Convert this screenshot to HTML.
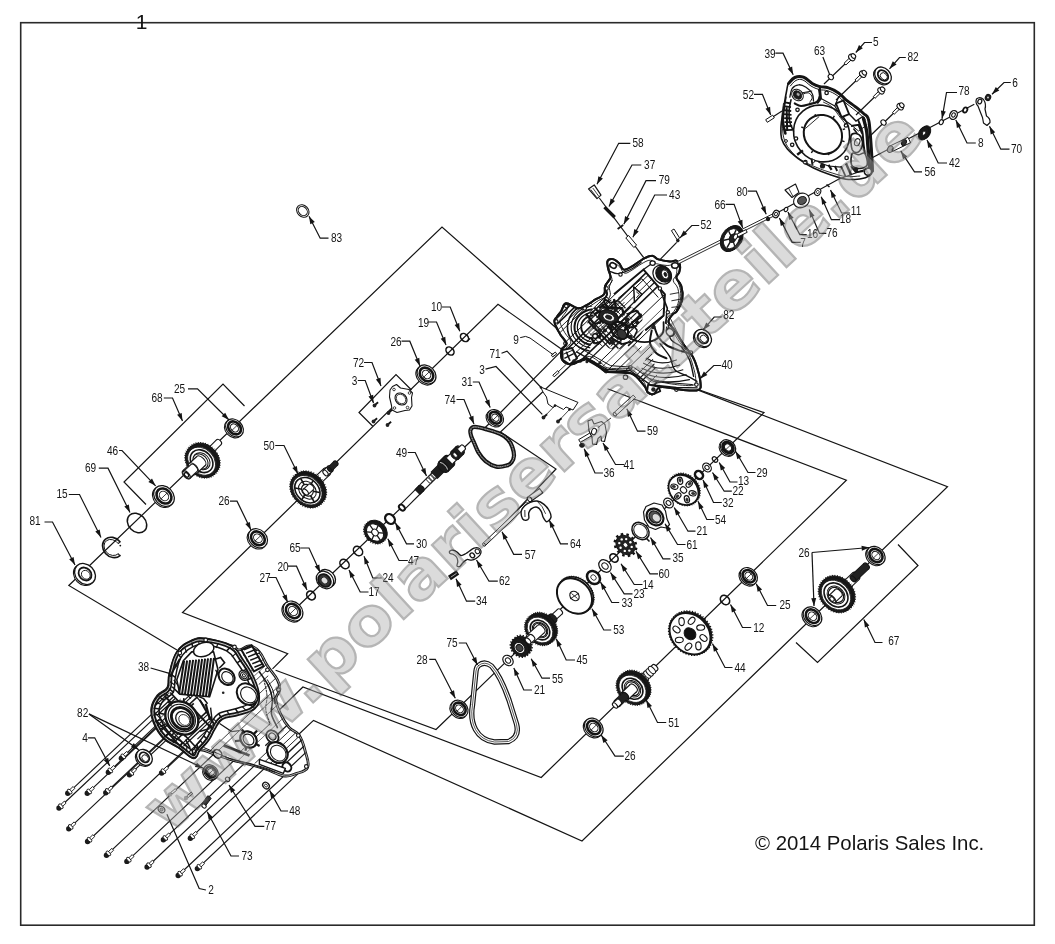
<!DOCTYPE html>
<html><head><meta charset="utf-8"><title>Parts diagram</title>
<style>
html,body{margin:0;padding:0;background:#fff;}
svg{display:block;font-family:"Liberation Sans",sans-serif;}
</style></head><body>
<svg width="1055" height="944" viewBox="0 0 1055 944">
<rect width="1055" height="944" fill="#fff"/>
<rect x="20.7" y="22.7" width="1013.6" height="902.5" fill="none" stroke="#2a2a2a" stroke-width="1.6"/>
<polyline points="177.0,650.0 68.8,585.5 442.0,227.0 563.0,334.0" fill="none" stroke="#141414" stroke-width="1.2" />
<polyline points="272.5,668.8 287.7,653.6 182.5,612.5 498.0,304.3 562.0,349.5" fill="none" stroke="#141414" stroke-width="1.2" />
<polyline points="293.0,611.0 495.4,417.7 564.5,347.8" fill="none" stroke="#141414" stroke-width="1.2" />
<polyline points="611.0,327.0 500.5,432.0 556.0,469.0 484.0,545.0" fill="none" stroke="#141414" stroke-width="1.2" />
<polyline points="275.6,670.3 436.0,729.5 764.0,412.6 692.5,387.5" fill="none" stroke="#141414" stroke-width="1.2" />
<polyline points="273.0,716.0 302.9,687.0 541.2,777.5 846.4,480.3 607.5,388.8" fill="none" stroke="#141414" stroke-width="1.2" />
<polyline points="298.0,735.0 313.5,720.4 582.0,841.0 947.5,486.8 695.0,388.9" fill="none" stroke="#141414" stroke-width="1.2" />
<polyline points="372.8,426.2 359.0,412.5 396.0,374.5 411.5,390.0" fill="none" stroke="#141414" stroke-width="1.2" />
<polyline points="146.0,504.5 124.0,482.0 223.0,384.0 244.5,406.0" fill="none" stroke="#141414" stroke-width="1.2" />
<polyline points="796.0,642.5 817.5,662.5 918.0,565.5 898.0,544.5" fill="none" stroke="#141414" stroke-width="1.2" />
<polyline points="67.8,793.3 177.0,690.4" fill="none" stroke="#141414" stroke-width="1.15" />
<polyline points="59.0,808.0 168.2,705.1" fill="none" stroke="#141414" stroke-width="1.15" />
<polyline points="87.3,793.3 196.5,690.4" fill="none" stroke="#141414" stroke-width="1.15" />
<polyline points="105.8,792.7 215.0,689.8" fill="none" stroke="#141414" stroke-width="1.15" />
<polyline points="108.4,772.3 195.7,690.0" fill="none" stroke="#141414" stroke-width="1.15" />
<polyline points="121.4,758.2 194.2,689.6" fill="none" stroke="#141414" stroke-width="1.15" />
<polyline points="129.5,774.8 216.8,692.5" fill="none" stroke="#141414" stroke-width="1.15" />
<polyline points="161.6,773.0 241.7,697.6" fill="none" stroke="#141414" stroke-width="1.15" />
<polyline points="68.8,828.7 196.2,708.7" fill="none" stroke="#141414" stroke-width="1.15" />
<polyline points="87.6,841.5 222.2,714.6" fill="none" stroke="#141414" stroke-width="1.15" />
<polyline points="106.5,855.2 248.4,721.5" fill="none" stroke="#141414" stroke-width="1.15" />
<polyline points="126.9,861.4 265.2,731.1" fill="none" stroke="#141414" stroke-width="1.15" />
<polyline points="147.1,867.0 281.7,740.1" fill="none" stroke="#141414" stroke-width="1.15" />
<polyline points="163.4,839.8 272.6,736.9" fill="none" stroke="#141414" stroke-width="1.15" />
<polyline points="190.4,838.2 292.3,742.2" fill="none" stroke="#141414" stroke-width="1.15" />
<polyline points="178.2,875.5 300.5,760.3" fill="none" stroke="#141414" stroke-width="1.15" />
<polyline points="197.4,868.6 306.6,765.7" fill="none" stroke="#141414" stroke-width="1.15" />
<clipPath id="c40"><path d="M607.4,261.4 C608.2,259.3 610.0,258.6 612.3,259.0 C614.6,259.3 616.6,260.9 618.9,263.1 C621.2,265.2 621.2,269.0 623.8,269.6 C626.4,270.3 628.4,268.3 632.0,266.3 C635.6,264.4 637.9,261.9 641.9,259.8 C645.8,257.6 648.4,255.7 651.7,255.7 C655.0,255.6 654.7,258.3 658.3,259.4 C661.9,260.6 666.2,261.2 669.8,261.4 C673.4,261.7 674.3,259.9 676.4,260.6 C678.4,261.3 679.4,262.4 680.0,264.7 C680.6,267.0 680.0,269.5 679.3,272.1 C678.6,274.7 676.0,275.0 676.4,277.8 C676.8,280.6 680.1,281.8 681.3,286.1 C682.5,290.3 683.1,294.3 682.3,299.2 C681.5,304.1 679.2,307.6 677.2,310.7 C675.2,313.8 674.0,312.5 672.3,314.8 C670.5,317.1 668.0,319.1 668.5,322.2 C669.0,325.3 671.8,326.1 674.7,330.4 C677.6,334.7 679.3,338.3 682.9,343.5 C686.5,348.8 689.8,351.4 692.8,356.7 C695.7,361.9 696.2,364.5 697.7,369.8 C699.3,375.0 700.3,378.9 700.5,382.9 C700.7,386.9 701.4,388.4 698.5,389.8 C695.7,391.3 691.0,390.4 686.2,390.2 C681.5,390.0 680.0,389.4 674.7,388.8 C669.5,388.3 664.0,386.2 659.9,387.2 C655.8,388.2 656.6,392.5 654.2,393.6 C651.8,394.7 650.3,394.5 648.1,392.8 C646.0,391.0 647.1,388.8 643.5,384.9 C640.0,381.0 637.6,375.7 630.4,373.1 C623.2,370.5 613.6,373.0 607.4,371.8 C601.2,370.5 603.5,369.4 599.2,366.8 C594.9,364.3 591.5,359.6 586.1,359.1 C580.6,358.6 576.8,364.0 572.1,364.2 C567.4,364.4 564.9,363.1 562.7,360.3 C560.6,357.4 560.7,353.4 561.4,350.1 C562.1,346.7 566.7,346.8 566.3,343.5 C566.0,340.2 562.1,337.9 559.8,333.7 C557.4,329.4 555.1,325.5 554.5,322.2 C553.9,318.8 555.4,319.2 556.8,316.9 C558.2,314.6 559.6,313.4 561.4,310.7 C563.3,308.0 562.7,303.8 566.0,303.3 C569.3,302.8 573.8,307.8 577.8,308.2 C581.8,308.6 582.4,307.2 586.1,305.4 C589.7,303.6 592.3,301.4 595.9,299.2 C599.5,297.0 602.3,296.9 604.1,294.3 C606.0,291.6 603.9,289.3 605.1,286.1 C606.3,282.8 609.7,281.1 610.4,277.8 C611.0,274.6 609.0,272.9 608.4,269.6 C607.8,266.3 606.6,263.6 607.4,261.4 Z"/></clipPath>
<path d="M607.4,261.4 C608.2,259.3 610.0,258.6 612.3,259.0 C614.6,259.3 616.6,260.9 618.9,263.1 C621.2,265.2 621.2,269.0 623.8,269.6 C626.4,270.3 628.4,268.3 632.0,266.3 C635.6,264.4 637.9,261.9 641.9,259.8 C645.8,257.6 648.4,255.7 651.7,255.7 C655.0,255.6 654.7,258.3 658.3,259.4 C661.9,260.6 666.2,261.2 669.8,261.4 C673.4,261.7 674.3,259.9 676.4,260.6 C678.4,261.3 679.4,262.4 680.0,264.7 C680.6,267.0 680.0,269.5 679.3,272.1 C678.6,274.7 676.0,275.0 676.4,277.8 C676.8,280.6 680.1,281.8 681.3,286.1 C682.5,290.3 683.1,294.3 682.3,299.2 C681.5,304.1 679.2,307.6 677.2,310.7 C675.2,313.8 674.0,312.5 672.3,314.8 C670.5,317.1 668.0,319.1 668.5,322.2 C669.0,325.3 671.8,326.1 674.7,330.4 C677.6,334.7 679.3,338.3 682.9,343.5 C686.5,348.8 689.8,351.4 692.8,356.7 C695.7,361.9 696.2,364.5 697.7,369.8 C699.3,375.0 700.3,378.9 700.5,382.9 C700.7,386.9 701.4,388.4 698.5,389.8 C695.7,391.3 691.0,390.4 686.2,390.2 C681.5,390.0 680.0,389.4 674.7,388.8 C669.5,388.3 664.0,386.2 659.9,387.2 C655.8,388.2 656.6,392.5 654.2,393.6 C651.8,394.7 650.3,394.5 648.1,392.8 C646.0,391.0 647.1,388.8 643.5,384.9 C640.0,381.0 637.6,375.7 630.4,373.1 C623.2,370.5 613.6,373.0 607.4,371.8 C601.2,370.5 603.5,369.4 599.2,366.8 C594.9,364.3 591.5,359.6 586.1,359.1 C580.6,358.6 576.8,364.0 572.1,364.2 C567.4,364.4 564.9,363.1 562.7,360.3 C560.6,357.4 560.7,353.4 561.4,350.1 C562.1,346.7 566.7,346.8 566.3,343.5 C566.0,340.2 562.1,337.9 559.8,333.7 C557.4,329.4 555.1,325.5 554.5,322.2 C553.9,318.8 555.4,319.2 556.8,316.9 C558.2,314.6 559.6,313.4 561.4,310.7 C563.3,308.0 562.7,303.8 566.0,303.3 C569.3,302.8 573.8,307.8 577.8,308.2 C581.8,308.6 582.4,307.2 586.1,305.4 C589.7,303.6 592.3,301.4 595.9,299.2 C599.5,297.0 602.3,296.9 604.1,294.3 C606.0,291.6 603.9,289.3 605.1,286.1 C606.3,282.8 609.7,281.1 610.4,277.8 C611.0,274.6 609.0,272.9 608.4,269.6 C607.8,266.3 606.6,263.6 607.4,261.4 Z" fill="#fff" stroke="#141414" stroke-width="2.0" stroke-linejoin="round" stroke-linecap="round" />
<clipPath id="c40b"><polygon points="554.9,304.1 614.0,294.3 643.5,269.6 666.5,294.3 663.2,322.2 650.1,346.8 659.9,386.2 607.4,371.8 561.4,359.9"/></clipPath>
<g clip-path="url(#c40)">
<g clip-path="url(#c40b)">
<g stroke="#141414" fill="none">
<line x1="555.8" y1="274.5" x2="613.6" y2="218.7" stroke-width="1.3"/>
<line x1="554.1" y1="283.2" x2="597.7" y2="241.0" stroke-width="1.3"/>
<line x1="556.7" y1="286.1" x2="614.7" y2="230.1" stroke-width="1.6"/>
<line x1="515.1" y1="333.6" x2="602.8" y2="248.9" stroke-width="0.9"/>
<line x1="508.1" y1="346.5" x2="640.5" y2="218.7" stroke-width="0.7"/>
<line x1="562.1" y1="299.0" x2="643.0" y2="220.8" stroke-width="1.3"/>
<line x1="513.2" y1="351.8" x2="645.6" y2="224.0" stroke-width="1.3"/>
<line x1="517.5" y1="356.1" x2="649.8" y2="228.3" stroke-width="1.6"/>
<line x1="520.6" y1="359.4" x2="653.0" y2="231.6" stroke-width="1.6"/>
<line x1="523.8" y1="362.7" x2="656.2" y2="234.9" stroke-width="0.9"/>
<line x1="543.3" y1="348.7" x2="614.2" y2="280.2" stroke-width="0.9"/>
<line x1="585.4" y1="316.1" x2="649.8" y2="253.8" stroke-width="1.0"/>
<line x1="533.6" y1="372.9" x2="666.0" y2="245.1" stroke-width="1.0"/>
<line x1="537.9" y1="377.3" x2="670.2" y2="249.5" stroke-width="1.6"/>
<line x1="540.1" y1="379.6" x2="672.5" y2="251.8" stroke-width="1.0"/>
<line x1="543.9" y1="383.5" x2="676.2" y2="255.7" stroke-width="0.9"/>
<line x1="546.8" y1="386.5" x2="679.1" y2="258.7" stroke-width="1.3"/>
<line x1="550.3" y1="390.1" x2="682.6" y2="262.3" stroke-width="1.6"/>
<line x1="562.2" y1="386.0" x2="620.5" y2="329.6" stroke-width="1.3"/>
<line x1="610.6" y1="346.5" x2="664.2" y2="294.8" stroke-width="1.0"/>
<line x1="587.6" y1="373.8" x2="621.9" y2="340.6" stroke-width="1.0"/>
<line x1="602.5" y1="366.6" x2="665.4" y2="305.8" stroke-width="0.7"/>
<line x1="568.0" y1="408.5" x2="700.4" y2="280.7" stroke-width="1.0"/>
<line x1="579.7" y1="406.2" x2="641.6" y2="346.5" stroke-width="1.0"/>
<line x1="594.3" y1="400.9" x2="666.4" y2="331.2" stroke-width="1.0"/>
<line x1="644.8" y1="361.0" x2="730.6" y2="278.2" stroke-width="1.0"/>
<line x1="584.4" y1="425.5" x2="716.7" y2="297.7" stroke-width="1.0"/>
<line x1="587.5" y1="428.6" x2="719.8" y2="300.8" stroke-width="1.3"/>
<line x1="631.8" y1="390.6" x2="705.7" y2="319.3" stroke-width="1.3"/>
<line x1="594.2" y1="435.6" x2="726.6" y2="307.8" stroke-width="1.0"/>
<line x1="649.8" y1="388.8" x2="741.6" y2="300.1" stroke-width="1.3"/>
<line x1="600.5" y1="442.2" x2="732.9" y2="314.3" stroke-width="1.0"/>
<line x1="604.1" y1="445.9" x2="736.5" y2="318.1" stroke-width="0.7"/>
<line x1="607.1" y1="449.0" x2="739.4" y2="321.2" stroke-width="1.0"/>
<line x1="642.5" y1="420.8" x2="707.9" y2="357.6" stroke-width="1.6"/>
<line x1="614.5" y1="456.6" x2="746.8" y2="328.8" stroke-width="0.7"/>
<line x1="657.0" y1="421.0" x2="695.2" y2="384.1" stroke-width="1.0"/>
<line x1="619.8" y1="462.2" x2="752.2" y2="334.4" stroke-width="1.0"/>
<line x1="676.4" y1="413.1" x2="767.2" y2="325.5" stroke-width="1.0"/>
</g>
</g>
</g>
<g clip-path="url(#c40)">
<path d="M609.1,265.5 C609.8,263.5 611.6,262.9 613.7,263.2 C615.8,263.5 617.7,265.0 619.8,267.0 C621.9,269.0 621.9,272.5 624.4,273.1 C626.8,273.8 628.7,271.9 632.0,270.1 C635.4,268.3 637.5,266.0 641.2,264.0 C644.8,262.0 647.3,260.2 650.3,260.2 C653.4,260.1 653.1,262.6 656.5,263.7 C659.8,264.7 663.8,265.3 667.1,265.5 C670.5,265.7 671.4,264.1 673.3,264.7 C675.1,265.4 676.1,266.4 676.6,268.6 C677.2,270.7 676.7,273.0 676.0,275.4 C675.3,277.9 672.9,278.2 673.3,280.8 C673.6,283.4 676.7,284.4 677.8,288.4 C678.9,292.4 679.5,296.0 678.7,300.6 C678.0,305.2 675.9,308.4 674.0,311.3 C672.2,314.2 671.1,313.0 669.4,315.1 C667.8,317.3 665.5,319.1 665.9,322.0 C666.4,324.9 669.0,325.7 671.7,329.6 C674.4,333.6 676.0,337.0 679.4,341.9 C682.7,346.7 685.8,349.2 688.5,354.1 C691.3,359.0 691.7,361.4 693.1,366.3 C694.5,371.2 695.5,374.8 695.7,378.5 C695.9,382.2 696.5,383.6 693.9,384.9 C691.2,386.3 686.8,385.4 682.4,385.2 C678.0,385.0 676.6,384.6 671.7,384.0 C666.8,383.5 661.8,381.6 658.0,382.5 C654.2,383.4 654.8,387.4 652.6,388.4 C650.4,389.5 649.0,389.3 647.0,387.7 C645.0,386.1 646.0,384.0 642.7,380.3 C639.4,376.7 637.2,371.8 630.5,369.4 C623.8,366.9 614.9,369.3 609.1,368.1 C603.3,367.0 605.4,365.9 601.5,363.5 C597.5,361.2 594.3,356.9 589.3,356.4 C584.2,355.9 580.6,360.9 576.3,361.1 C571.9,361.3 569.6,360.1 567.6,357.4 C565.6,354.8 565.7,351.1 566.4,348.0 C567.0,344.9 571.2,344.9 570.9,341.9 C570.6,338.8 567.0,336.7 564.8,332.7 C562.6,328.7 560.5,325.1 559.9,322.0 C559.4,318.9 560.8,319.3 562.1,317.1 C563.4,315.0 564.6,313.9 566.4,311.3 C568.1,308.8 567.6,304.9 570.6,304.4 C573.7,304.0 577.9,308.6 581.6,309.0 C585.4,309.4 585.9,308.1 589.3,306.4 C592.6,304.8 595.1,302.7 598.4,300.6 C601.8,298.6 604.3,298.5 606.1,296.0 C607.8,293.6 605.8,291.5 607.0,288.4 C608.1,285.4 611.3,283.8 611.9,280.8 C612.5,277.7 610.6,276.2 610.0,273.1 C609.5,270.1 608.4,267.5 609.1,265.5 Z" fill="none" stroke="#141414" stroke-width="0.9" stroke-linejoin="round" stroke-linecap="round" />
</g>
<ellipse cx="613.1" cy="265.5" rx="3.4" ry="2.5" transform="rotate(30 613.1 265.5)" fill="#fff" stroke="#141414" stroke-width="1.6" />
<path d="M609.9,271.3 C611.1,271.7 614.9,273.6 617.2,273.7 C619.6,273.9 621.4,272.9 623.8,272.1 C626.3,271.3 629.2,270.5 632.0,268.8 C634.9,267.2 639.6,263.3 641.1,262.2" fill="none" stroke="#141414" stroke-width="1.2" stroke-linejoin="round" stroke-linecap="round" />
<ellipse cx="663.6" cy="274.2" rx="8.6" ry="7.0" transform="rotate(46 663.6 274.2)" fill="#1c1c1c" stroke="#141414" stroke-width="1.2" />
<ellipse cx="665.0" cy="274.4" rx="4.6" ry="3.2" transform="rotate(70 665.0 274.4)" fill="#fff" stroke="#141414" stroke-width="0.8" />
<ellipse cx="665.4" cy="274.4" rx="2.2" ry="1.4" transform="rotate(70 665.4 274.4)" fill="#1c1c1c" stroke="#141414" stroke-width="0.6" />
<ellipse cx="662.2" cy="274.7" rx="10.2" ry="8.4" transform="rotate(46 662.2 274.7)" fill="none" stroke="#141414" stroke-width="1.2" />
<ellipse cx="675.0" cy="265.5" rx="3.4" ry="2.8" transform="rotate(0 675.0 265.5)" fill="#fff" stroke="#141414" stroke-width="1.5" />
<ellipse cx="652.6" cy="263.1" rx="2.6" ry="2.2" transform="rotate(0 652.6 263.1)" fill="#fff" stroke="#141414" stroke-width="1.3" />
<polyline points="614.0,294.3 643.5,269.6 664.9,294.3 663.6,315.6 645.2,330.4" fill="none" stroke="#141414" stroke-width="2.0" />
<polyline points="618.1,298.4 641.9,278.7 658.3,297.5" fill="none" stroke="#141414" stroke-width="1.0" />
<polyline points="643.5,269.6 650.1,264.7" fill="none" stroke="#141414" stroke-width="1.2" />
<polygon points="633.7,286.9 641.9,294.3 634.5,302.5" fill="#fff" stroke="#141414" stroke-width="1.5" stroke-linejoin="round" />
<polyline points="636.3,291.8 639.4,294.3 636.3,297.9" fill="none" stroke="#141414" stroke-width="0.9" />
<path d="M617.2,323.8 C618.3,325.5 620.5,330.8 623.8,333.7 C627.1,336.5 632.3,339.8 637.0,341.1 C641.6,342.3 647.5,342.3 651.7,341.1 C656.0,339.8 660.4,336.8 662.4,333.7 C664.4,330.5 663.4,324.1 663.6,322.2" fill="none" stroke="#141414" stroke-width="1.8" stroke-linejoin="round" stroke-linecap="round" />
<polyline points="659.9,289.3 667.3,308.2 665.7,323.8" fill="none" stroke="#141414" stroke-width="1.6" />
<polyline points="669.8,294.3 678.8,292.6" fill="none" stroke="#141414" stroke-width="0.9" />
<polyline points="671.4,300.8 680.5,299.2" fill="none" stroke="#141414" stroke-width="0.9" />
<polyline points="671.4,307.4 678.3,306.6" fill="none" stroke="#141414" stroke-width="0.9" />
<path d="M676.4,278.7 C677.0,280.2 679.3,284.3 680.0,287.7 C680.7,291.1 681.2,295.5 680.6,299.2 C680.0,302.9 677.1,308.1 676.4,309.9" fill="none" stroke="#141414" stroke-width="1.0" stroke-linejoin="round" stroke-linecap="round" />
<path d="M609.9,278.7 C609.2,279.9 606.2,283.5 605.8,286.1 C605.3,288.7 607.3,291.8 607.1,294.3 C606.8,296.7 603.9,298.5 604.1,300.8 C604.3,303.2 607.5,307.0 608.2,308.2" fill="none" stroke="#141414" stroke-width="1.8" stroke-linejoin="round" stroke-linecap="round" />
<path d="M612.3,280.3 C611.8,281.4 609.7,284.5 609.4,286.9 C609.0,289.2 610.5,292.1 610.4,294.3 C610.2,296.5 608.6,299.1 608.2,300.0" fill="none" stroke="#141414" stroke-width="1.0" stroke-linejoin="round" stroke-linecap="round" />
<circle cx="606.6" cy="288.5" r="1.7" fill="#fff" stroke="#141414" stroke-width="1.1"/>
<circle cx="659.9" cy="288.5" r="1.7" fill="#fff" stroke="#141414" stroke-width="1.1"/>
<circle cx="667.8" cy="312.3" r="1.7" fill="#fff" stroke="#141414" stroke-width="1.1"/>
<circle cx="620.5" cy="274.6" r="1.7" fill="#fff" stroke="#141414" stroke-width="1.1"/>
<circle cx="606.7" cy="299.2" r="1.7" fill="#fff" stroke="#141414" stroke-width="1.1"/>
<path d="M592.0,338.6 A13,11.7 0 0 1 593.1,315.4" fill="none" stroke="#141414" stroke-width="1.8" clip-path="url(#c40)"/>
<path d="M591.4,341.7 A16.5,14.8 0 0 1 592.8,312.3" fill="none" stroke="#141414" stroke-width="1.2" clip-path="url(#c40)"/>
<path d="M590.8,344.8 A20,18.0 0 0 1 592.5,309.2" fill="none" stroke="#141414" stroke-width="2.0" clip-path="url(#c40)"/>
<path d="M590.2,347.9 A23.5,21.2 0 0 1 592.2,306.0" fill="none" stroke="#141414" stroke-width="1.2" clip-path="url(#c40)"/>
<path d="M589.6,351.0 A27,24.3 0 0 1 591.9,302.9" fill="none" stroke="#141414" stroke-width="1.6" clip-path="url(#c40)"/>
<g clip-path="url(#c40)">
<ellipse cx="608.7" cy="317.2" rx="10.0" ry="7.0" transform="rotate(20 608.7 317.2)" fill="#222" stroke="#141414" stroke-width="1" />
<ellipse cx="608.7" cy="317.2" rx="6.0" ry="3.8" transform="rotate(20 608.7 317.2)" fill="#fff" stroke="#141414" stroke-width="0.8" />
<ellipse cx="608.7" cy="317.2" rx="3.4" ry="2.0" transform="rotate(20 608.7 317.2)" fill="#222" stroke="#141414" stroke-width="0.6" />
<ellipse cx="619.7" cy="330.4" rx="9.5" ry="7.4" transform="rotate(46 619.7 330.4)" fill="#fff" stroke="#141414" stroke-width="2.0" />
<ellipse cx="619.7" cy="330.4" rx="8.0" ry="3.2" transform="rotate(-44 619.7 330.4)" fill="none" stroke="#141414" stroke-width="1.2" />
<ellipse cx="621.3" cy="329.0" rx="7.2" ry="3.2" transform="rotate(-44 621.3 329.0)" fill="none" stroke="#141414" stroke-width="1.2" />
<ellipse cx="622.9" cy="327.6" rx="6.4" ry="3.2" transform="rotate(-44 622.9 327.6)" fill="none" stroke="#141414" stroke-width="1.2" />
<ellipse cx="624.5" cy="326.2" rx="5.6" ry="3.2" transform="rotate(-44 624.5 326.2)" fill="none" stroke="#141414" stroke-width="1.2" />
<ellipse cx="622.2" cy="334.5" rx="5.0" ry="3.6" transform="rotate(46 622.2 334.5)" fill="#333" stroke="#141414" stroke-width="1.0" />
<polyline points="602.5,307.4 622.2,308.2" fill="none" stroke="#141414" stroke-width="2.6" />
<polyline points="622.2,308.2 623.8,315.6" fill="none" stroke="#141414" stroke-width="2.2" />
<polyline points="594.3,333.7 600.0,337.8" fill="none" stroke="#141414" stroke-width="2.8" />
<polyline points="600.0,337.8 599.5,329.6" fill="none" stroke="#141414" stroke-width="2.2" />
<polyline points="610.7,337.8 622.2,344.3" fill="none" stroke="#141414" stroke-width="2.4" />
<polyline points="622.2,344.3 631.2,341.6" fill="none" stroke="#141414" stroke-width="2.0" />
<polyline points="627.1,314.0 637.3,310.4" fill="none" stroke="#141414" stroke-width="1.8" />
<polyline points="637.3,310.4 641.1,317.2" fill="none" stroke="#141414" stroke-width="1.8" />
<polyline points="641.1,317.2 631.2,322.5" fill="none" stroke="#141414" stroke-width="1.8" />
<polyline points="631.2,322.5 637.3,330.4" fill="none" stroke="#141414" stroke-width="1.6" />
<polyline points="637.3,330.4 633.7,337.8" fill="none" stroke="#141414" stroke-width="1.6" />
<polyline points="586.1,314.0 594.3,324.1" fill="none" stroke="#141414" stroke-width="2.4" />
<polyline points="594.3,324.1 600.0,322.2" fill="none" stroke="#141414" stroke-width="2.0" />
<polyline points="614.0,298.9 615.9,307.7" fill="none" stroke="#141414" stroke-width="2.2" />
<polyline points="604.1,299.2 610.7,302.8" fill="none" stroke="#141414" stroke-width="1.6" />
<polyline points="610.7,302.8 617.6,300.8" fill="none" stroke="#141414" stroke-width="1.6" />
<polyline points="599.2,310.7 602.8,318.9" fill="none" stroke="#141414" stroke-width="2.6" />
<polyline points="602.8,318.9 599.2,323.8" fill="none" stroke="#141414" stroke-width="2.2" />
<polyline points="614.0,322.2 617.2,327.1" fill="none" stroke="#141414" stroke-width="3.0" />
<polyline points="594.3,314.0 601.7,310.7" fill="none" stroke="#141414" stroke-width="2.0" />
<polyline points="591.0,337.0 594.3,343.5" fill="none" stroke="#141414" stroke-width="2.4" />
<polyline points="594.3,343.5 600.8,341.9" fill="none" stroke="#141414" stroke-width="2.0" />
<polyline points="623.8,323.8 630.4,327.9" fill="none" stroke="#141414" stroke-width="2.6" />
<polyline points="630.4,327.9 637.0,325.5" fill="none" stroke="#141414" stroke-width="2.0" />
<polyline points="607.4,325.5 612.3,330.4" fill="none" stroke="#141414" stroke-width="3.0" />
<polyline points="604.1,304.1 599.2,308.2" fill="none" stroke="#141414" stroke-width="2.0" />
<clipPath id="c40c"><polygon points="591.0,310.7 604.1,299.2 622.2,300.8 641.9,314.0 643.5,330.4 633.7,346.8 614.0,350.1 594.3,343.5 586.1,327.1"/></clipPath>
<g clip-path="url(#c40c)">
<g stroke="#141414" fill="none">
<line x1="641.0" y1="290.7" x2="665.5" y2="316.0" stroke-width="1.7"/>
<line x1="630.0" y1="285.8" x2="659.6" y2="316.4" stroke-width="1.2"/>
<line x1="616.2" y1="277.8" x2="643.2" y2="305.7" stroke-width="0.9"/>
<line x1="637.1" y1="306.0" x2="676.3" y2="346.6" stroke-width="2.1"/>
<line x1="623.9" y1="298.0" x2="659.3" y2="334.7" stroke-width="1.7"/>
<line x1="611.2" y1="288.4" x2="623.5" y2="301.2" stroke-width="0.9"/>
<line x1="607.3" y1="289.5" x2="625.5" y2="308.3" stroke-width="1.3"/>
<line x1="612.6" y1="299.4" x2="632.1" y2="319.6" stroke-width="0.9"/>
<line x1="605.0" y1="298.6" x2="623.1" y2="317.3" stroke-width="0.9"/>
<line x1="596.9" y1="294.5" x2="611.5" y2="309.6" stroke-width="0.9"/>
<line x1="591.6" y1="293.4" x2="649.0" y2="353.0" stroke-width="0.9"/>
<line x1="615.0" y1="324.2" x2="628.0" y2="337.6" stroke-width="0.9"/>
<line x1="588.1" y1="301.0" x2="617.7" y2="331.7" stroke-width="2.1"/>
<line x1="591.8" y1="311.1" x2="603.8" y2="323.5" stroke-width="1.3"/>
<line x1="600.8" y1="325.2" x2="612.6" y2="337.5" stroke-width="0.9"/>
<line x1="594.0" y1="323.3" x2="618.4" y2="348.5" stroke-width="1.3"/>
<line x1="587.9" y1="321.1" x2="610.5" y2="344.4" stroke-width="2.1"/>
<line x1="598.3" y1="336.6" x2="637.9" y2="377.5" stroke-width="1.2"/>
<line x1="582.1" y1="325.3" x2="618.1" y2="362.6" stroke-width="0.9"/>
<line x1="572.1" y1="320.7" x2="596.3" y2="345.7" stroke-width="0.9"/>
<line x1="574.7" y1="326.8" x2="588.3" y2="340.9" stroke-width="1.7"/>
<line x1="564.8" y1="320.2" x2="586.9" y2="343.1" stroke-width="1.7"/>
<line x1="561.5" y1="322.4" x2="619.0" y2="382.0" stroke-width="1.2"/>
<line x1="570.1" y1="336.4" x2="599.6" y2="367.0" stroke-width="1.7"/>
</g>
</g>
<g clip-path="url(#c40c)">
<g stroke="#141414" fill="none">
<line x1="574.8" y1="315.4" x2="598.0" y2="292.9" stroke-width="1.9"/>
<line x1="592.4" y1="306.2" x2="624.9" y2="274.9" stroke-width="1.2"/>
<line x1="590.0" y1="314.8" x2="631.0" y2="275.2" stroke-width="1.6"/>
<line x1="574.1" y1="335.5" x2="633.6" y2="278.0" stroke-width="1.2"/>
<line x1="596.5" y1="317.8" x2="618.5" y2="296.7" stroke-width="1.1"/>
<line x1="580.6" y1="338.7" x2="619.8" y2="300.9" stroke-width="0.8"/>
<line x1="581.7" y1="343.4" x2="641.3" y2="286.0" stroke-width="0.8"/>
<line x1="597.1" y1="334.1" x2="613.0" y2="318.8" stroke-width="1.2"/>
<line x1="616.1" y1="320.9" x2="654.4" y2="283.9" stroke-width="1.6"/>
<line x1="590.1" y1="352.1" x2="649.6" y2="294.6" stroke-width="1.6"/>
<line x1="606.8" y1="341.4" x2="636.8" y2="312.4" stroke-width="1.2"/>
<line x1="624.6" y1="330.2" x2="665.5" y2="290.6" stroke-width="1.9"/>
<line x1="599.0" y1="361.4" x2="658.6" y2="303.9" stroke-width="1.2"/>
<line x1="606.1" y1="361.9" x2="625.0" y2="343.6" stroke-width="1.2"/>
<line x1="628.1" y1="345.9" x2="645.4" y2="329.2" stroke-width="1.6"/>
<line x1="608.8" y1="369.9" x2="640.8" y2="339.0" stroke-width="1.2"/>
<line x1="613.0" y1="369.8" x2="641.3" y2="342.4" stroke-width="1.1"/>
<line x1="625.2" y1="362.6" x2="651.9" y2="336.8" stroke-width="1.9"/>
<line x1="629.0" y1="365.1" x2="647.2" y2="347.6" stroke-width="1.9"/>
<line x1="643.3" y1="356.2" x2="662.4" y2="337.9" stroke-width="1.2"/>
<line x1="621.8" y1="384.9" x2="681.3" y2="327.4" stroke-width="1.2"/>
</g>
</g>
<circle cx="600.8" cy="315.6" r="2.6" fill="#1c1c1c"/>
<circle cx="615.6" cy="309.9" r="2.2" fill="#1c1c1c"/>
<circle cx="627.1" cy="319.7" r="2.4" fill="#1c1c1c"/>
<circle cx="612.3" cy="341.9" r="2.6" fill="#1c1c1c"/>
<circle cx="630.4" cy="337.0" r="2.2" fill="#1c1c1c"/>
<circle cx="637.0" cy="322.2" r="2.0" fill="#1c1c1c"/>
<circle cx="594.3" cy="327.1" r="2.2" fill="#1c1c1c"/>
<circle cx="604.9" cy="330.4" r="2.0" fill="#1c1c1c"/>
<ellipse cx="608.7" cy="317.2" rx="10.0" ry="7.0" transform="rotate(20 608.7 317.2)" fill="#222" stroke="#141414" stroke-width="1" />
<ellipse cx="608.7" cy="317.2" rx="6.0" ry="3.8" transform="rotate(20 608.7 317.2)" fill="#fff" stroke="#141414" stroke-width="0.8" />
<ellipse cx="608.7" cy="317.2" rx="3.4" ry="2.0" transform="rotate(20 608.7 317.2)" fill="#222" stroke="#141414" stroke-width="0.6" />
<ellipse cx="619.7" cy="330.4" rx="9.5" ry="7.4" transform="rotate(46 619.7 330.4)" fill="none" stroke="#141414" stroke-width="2.2" />
<ellipse cx="621.8" cy="334.0" rx="5.4" ry="4.0" transform="rotate(46 621.8 334.0)" fill="#333" stroke="#141414" stroke-width="1.0" />
<circle cx="595.1" cy="336.1" r="2.4" fill="#fff" stroke="#141414" stroke-width="1.4"/>
<circle cx="599.2" cy="330.4" r="2.0" fill="#222"/>
</g>
<circle cx="566.3" cy="306.1" r="1.8" fill="#fff" stroke="#141414" stroke-width="1.2"/>
<circle cx="556.2" cy="321.4" r="1.8" fill="#fff" stroke="#141414" stroke-width="1.2"/>
<circle cx="565.5" cy="343.5" r="1.8" fill="#fff" stroke="#141414" stroke-width="1.2"/>
<circle cx="584.7" cy="308.2" r="1.8" fill="#fff" stroke="#141414" stroke-width="1.2"/>
<circle cx="606.1" cy="371.1" r="1.8" fill="#fff" stroke="#141414" stroke-width="1.2"/>
<circle cx="630.4" cy="367.3" r="1.8" fill="#fff" stroke="#141414" stroke-width="1.2"/>
<circle cx="676.4" cy="389.5" r="1.8" fill="#fff" stroke="#141414" stroke-width="1.2"/>
<circle cx="696.4" cy="384.6" r="1.8" fill="#fff" stroke="#141414" stroke-width="1.2"/>
<circle cx="690.8" cy="352.6" r="1.8" fill="#fff" stroke="#141414" stroke-width="1.2"/>
<circle cx="670.1" cy="326.6" r="1.8" fill="#fff" stroke="#141414" stroke-width="1.2"/>
<polygon points="562.2,350.1 572.1,348.1 577.0,358.3 569.6,364.5 562.7,359.9" fill="#fff" stroke="#141414" stroke-width="2.0" stroke-linejoin="round" />
<polyline points="566.3,351.7 570.0,360.8" fill="none" stroke="#141414" stroke-width="1.6" />
<polyline points="564.4,358.3 573.7,353.7" fill="none" stroke="#141414" stroke-width="1.4" />
<polyline points="563.4,354.2 572.9,350.1" fill="none" stroke="#141414" stroke-width="1.0" />
<circle cx="573.7" cy="360.8" r="1.5" fill="#222"/>
<circle cx="580.3" cy="361.3" r="1.5" fill="#222"/>
<circle cx="586.9" cy="361.7" r="1.5" fill="#222"/>
<circle cx="593.4" cy="362.2" r="1.5" fill="#222"/>
<circle cx="600.0" cy="362.7" r="1.5" fill="#222"/>
<polyline points="576.2,351.7 607.4,369.5 630.4,370.6 650.1,384.6 676.4,387.5 697.7,387.9" fill="none" stroke="#141414" stroke-width="1.4" />
<polyline points="577.8,346.8 610.7,365.7 633.7,367.3 653.4,381.3 692.8,384.6" fill="none" stroke="#141414" stroke-width="1.0" />
<polyline points="571.3,363.6 586.1,359.1 599.2,366.8 607.4,371.8 630.4,373.1" fill="none" stroke="#141414" stroke-width="2.4" />
<path d="M646.8,358.3 Q659.9,366.5 676.4,359.9" fill="none" stroke="#141414" stroke-width="1.1" stroke-linejoin="round" stroke-linecap="round" />
<path d="M643.5,363.2 Q659.9,372.3 679.6,364.9" fill="none" stroke="#141414" stroke-width="1.1" stroke-linejoin="round" stroke-linecap="round" />
<path d="M641.9,368.2 Q659.9,377.2 682.9,369.8" fill="none" stroke="#141414" stroke-width="1.1" stroke-linejoin="round" stroke-linecap="round" />
<path d="M643.5,373.1 Q663.2,381.3 686.2,374.7" fill="none" stroke="#141414" stroke-width="1.1" stroke-linejoin="round" stroke-linecap="round" />
<path d="M650.1,378.8 Q666.5,384.6 689.5,379.6" fill="none" stroke="#141414" stroke-width="1.1" stroke-linejoin="round" stroke-linecap="round" />
<path d="M653.4,323.8 C654.2,326.0 656.1,333.4 658.3,337.0 C660.5,340.5 663.2,343.0 666.5,345.2 C669.8,347.4 674.2,348.7 678.0,350.1 C681.8,351.5 687.6,352.8 689.5,353.4" fill="none" stroke="#141414" stroke-width="2.0" stroke-linejoin="round" stroke-linecap="round" />
<path d="M666.5,327.1 C667.3,329.3 669.0,337.0 671.4,340.2 C673.9,343.5 678.3,343.5 681.3,346.8 C684.3,350.1 687.4,355.0 689.5,359.9 C691.6,364.9 692.9,373.6 693.6,376.4" fill="none" stroke="#141414" stroke-width="1.4" stroke-linejoin="round" stroke-linecap="round" />
<path d="M659.9,343.5 C661.6,345.7 667.3,352.3 669.8,356.7 C672.3,361.0 671.7,366.5 674.7,369.8 C677.7,373.1 684.2,374.4 687.9,376.4 C691.6,378.3 695.4,380.5 696.9,381.3" fill="none" stroke="#141414" stroke-width="1.4" stroke-linejoin="round" stroke-linecap="round" />
<path d="M651.7,330.4 C651.5,332.6 649.3,339.7 650.1,343.5 C650.9,347.4 653.9,350.9 656.7,353.4 C659.4,355.8 664.9,357.5 666.5,358.3" fill="none" stroke="#141414" stroke-width="2.0" stroke-linejoin="round" stroke-linecap="round" />
<path d="M669.8,317.2 C670.9,319.4 673.9,325.7 676.4,330.4 C678.8,335.0 681.7,340.5 684.6,345.2 C687.4,349.8 692.1,356.1 693.6,358.3" fill="none" stroke="#141414" stroke-width="0.9" stroke-linejoin="round" stroke-linecap="round" />
<ellipse cx="670.1" cy="332.4" rx="4.2" ry="3.4" transform="rotate(46 670.1 332.4)" fill="#fff" stroke="#141414" stroke-width="1.6" />
<circle cx="653.4" cy="327.1" r="2.2" fill="#222"/>
<polygon points="648.1,384.6 658.3,386.5 660.3,391.1 652.1,394.8 647.1,391.5" fill="#fff" stroke="#141414" stroke-width="1.8" stroke-linejoin="round" />
<circle cx="653.4" cy="389.5" r="2.2" fill="#222"/>
<circle cx="625.5" cy="377.2" r="2.2" fill="#fff" stroke="#141414" stroke-width="1.2"/>
<path d="M607.4,261.4 C608.2,259.3 610.0,258.6 612.3,259.0 C614.6,259.3 616.6,260.9 618.9,263.1 C621.2,265.2 621.2,269.0 623.8,269.6 C626.4,270.3 628.4,268.3 632.0,266.3 C635.6,264.4 637.9,261.9 641.9,259.8 C645.8,257.6 648.4,255.7 651.7,255.7 C655.0,255.6 654.7,258.3 658.3,259.4 C661.9,260.6 666.2,261.2 669.8,261.4 C673.4,261.7 674.3,259.9 676.4,260.6 C678.4,261.3 679.4,262.4 680.0,264.7 C680.6,267.0 680.0,269.5 679.3,272.1 C678.6,274.7 676.0,275.0 676.4,277.8 C676.8,280.6 680.1,281.8 681.3,286.1 C682.5,290.3 683.1,294.3 682.3,299.2 C681.5,304.1 679.2,307.6 677.2,310.7 C675.2,313.8 674.0,312.5 672.3,314.8 C670.5,317.1 668.0,319.1 668.5,322.2 C669.0,325.3 671.8,326.1 674.7,330.4 C677.6,334.7 679.3,338.3 682.9,343.5 C686.5,348.8 689.8,351.4 692.8,356.7 C695.7,361.9 696.2,364.5 697.7,369.8 C699.3,375.0 700.3,378.9 700.5,382.9 C700.7,386.9 701.4,388.4 698.5,389.8 C695.7,391.3 691.0,390.4 686.2,390.2 C681.5,390.0 680.0,389.4 674.7,388.8 C669.5,388.3 664.0,386.2 659.9,387.2 C655.8,388.2 656.6,392.5 654.2,393.6 C651.8,394.7 650.3,394.5 648.1,392.8 C646.0,391.0 647.1,388.8 643.5,384.9 C640.0,381.0 637.6,375.7 630.4,373.1 C623.2,370.5 613.6,373.0 607.4,371.8 C601.2,370.5 603.5,369.4 599.2,366.8 C594.9,364.3 591.5,359.6 586.1,359.1 C580.6,358.6 576.8,364.0 572.1,364.2 C567.4,364.4 564.9,363.1 562.7,360.3 C560.6,357.4 560.7,353.4 561.4,350.1 C562.1,346.7 566.7,346.8 566.3,343.5 C566.0,340.2 562.1,337.9 559.8,333.7 C557.4,329.4 555.1,325.5 554.5,322.2 C553.9,318.8 555.4,319.2 556.8,316.9 C558.2,314.6 559.6,313.4 561.4,310.7 C563.3,308.0 562.7,303.8 566.0,303.3 C569.3,302.8 573.8,307.8 577.8,308.2 C581.8,308.6 582.4,307.2 586.1,305.4 C589.7,303.6 592.3,301.4 595.9,299.2 C599.5,297.0 602.3,296.9 604.1,294.3 C606.0,291.6 603.9,289.3 605.1,286.1 C606.3,282.8 609.7,281.1 610.4,277.8 C611.0,274.6 609.0,272.9 608.4,269.6 C607.8,266.3 606.6,263.6 607.4,261.4 Z" fill="none" stroke="#141414" stroke-width="2.0" stroke-linejoin="round" stroke-linecap="round" />
<clipPath id="c39"><path d="M788.5,83.5 C790.1,80.8 791.8,78.8 794.8,77.5 C797.8,76.2 800.0,76.0 803.5,77.2 C807.0,78.5 809.0,81.6 812.2,83.5 C815.5,85.4 816.5,85.8 819.8,86.6 C823.0,87.5 824.8,86.6 828.5,87.9 C832.2,89.1 835.0,90.5 838.5,92.9 C842.0,95.2 842.5,96.9 846.0,99.8 C849.5,102.6 852.5,104.5 856.0,107.2 C859.5,110.0 861.0,111.2 863.5,113.5 C866.0,115.8 867.0,115.0 868.2,118.5 C869.5,122.0 869.5,126.0 870.0,131.0 C870.5,136.0 870.6,138.5 871.0,143.5 C871.4,148.5 871.5,150.5 871.8,156.0 C872.0,161.5 873.1,166.9 872.5,171.0 C871.9,175.1 871.0,174.7 868.8,176.2 C866.5,177.8 865.5,178.2 861.0,178.8 C856.5,179.3 852.0,180.0 846.0,179.2 C840.0,178.5 837.5,177.2 831.0,175.0 C824.5,172.8 820.0,171.2 813.5,168.0 C807.0,164.8 803.8,162.6 798.5,158.8 C793.2,154.9 790.6,152.8 787.2,148.8 C783.9,144.8 782.9,143.3 781.6,138.8 C780.4,134.2 780.8,131.1 781.0,126.0 C781.2,121.0 782.1,118.5 782.9,113.5 C783.6,108.5 784.0,105.5 784.8,101.0 C785.5,96.5 785.9,94.5 786.6,91.0 C787.4,87.5 786.9,86.2 788.5,83.5 Z"/></clipPath>
<path d="M788.5,83.5 C790.1,80.8 791.8,78.8 794.8,77.5 C797.8,76.2 800.0,76.0 803.5,77.2 C807.0,78.5 809.0,81.6 812.2,83.5 C815.5,85.4 816.5,85.8 819.8,86.6 C823.0,87.5 824.8,86.6 828.5,87.9 C832.2,89.1 835.0,90.5 838.5,92.9 C842.0,95.2 842.5,96.9 846.0,99.8 C849.5,102.6 852.5,104.5 856.0,107.2 C859.5,110.0 861.0,111.2 863.5,113.5 C866.0,115.8 867.0,115.0 868.2,118.5 C869.5,122.0 869.5,126.0 870.0,131.0 C870.5,136.0 870.6,138.5 871.0,143.5 C871.4,148.5 871.5,150.5 871.8,156.0 C872.0,161.5 873.1,166.9 872.5,171.0 C871.9,175.1 871.0,174.7 868.8,176.2 C866.5,177.8 865.5,178.2 861.0,178.8 C856.5,179.3 852.0,180.0 846.0,179.2 C840.0,178.5 837.5,177.2 831.0,175.0 C824.5,172.8 820.0,171.2 813.5,168.0 C807.0,164.8 803.8,162.6 798.5,158.8 C793.2,154.9 790.6,152.8 787.2,148.8 C783.9,144.8 782.9,143.3 781.6,138.8 C780.4,134.2 780.8,131.1 781.0,126.0 C781.2,121.0 782.1,118.5 782.9,113.5 C783.6,108.5 784.0,105.5 784.8,101.0 C785.5,96.5 785.9,94.5 786.6,91.0 C787.4,87.5 786.9,86.2 788.5,83.5 Z" fill="#fff" stroke="#141414" stroke-width="1.6" stroke-linejoin="round" stroke-linecap="round" />
<path d="M788.5,83.5 C789.8,82.3 791.8,78.8 794.8,77.5 C797.8,76.2 800.0,76.0 803.5,77.2 C807.0,78.5 809.0,81.6 812.2,83.5 C815.5,85.4 816.5,85.8 819.8,86.6 C823.0,87.5 824.8,86.6 828.5,87.9 C832.2,89.1 835.0,90.5 838.5,92.9 C842.0,95.2 842.5,96.9 846.0,99.8 C849.5,102.6 852.5,104.5 856.0,107.2 C859.5,110.0 861.0,111.2 863.5,113.5 C866.0,115.8 867.0,115.0 868.2,118.5 C869.5,122.0 869.5,126.0 870.0,131.0 C870.5,136.0 870.6,138.5 871.0,143.5 C871.4,148.5 871.5,150.5 871.8,156.0 C872.0,161.5 872.4,168.0 872.5,171.0" fill="none" stroke="#141414" stroke-width="3.0" stroke-linejoin="round" stroke-linecap="round" />
<path d="M790.4,86.0 C791.5,84.9 793.5,81.6 796.0,80.4 C798.5,79.2 799.9,78.9 802.9,80.0 C805.9,81.1 807.8,84.1 811.0,86.0 C814.2,87.9 815.8,88.5 819.1,89.5 C822.5,90.5 824.2,89.5 827.9,90.8 C831.5,92.0 833.9,93.2 837.2,95.5 C840.6,97.8 841.1,99.2 844.5,102.0 C847.9,104.8 850.7,106.8 854.1,109.5 C857.5,112.2 859.4,113.7 861.6,115.8 C863.9,117.8 864.6,119.2 865.4,120.0" fill="none" stroke="#141414" stroke-width="1.0" stroke-linejoin="round" stroke-linecap="round" />
<path d="M783.5,103.5 C783.2,106.0 782.2,111.0 782.0,116.0 C781.8,121.0 782.0,123.5 782.5,128.5 C783.0,133.5 783.0,136.5 784.8,141.0 C786.5,145.5 787.8,147.2 791.0,151.0 C794.2,154.8 796.0,156.5 801.0,159.8 C806.0,163.0 809.8,164.6 816.0,167.2 C822.2,169.9 826.2,171.2 832.2,173.0 C838.2,174.8 840.5,175.9 846.0,176.5 C851.5,177.1 857.0,176.1 859.8,176.0" fill="none" stroke="#141414" stroke-width="0.9" stroke-linejoin="round" stroke-linecap="round" />
<ellipse cx="821.6" cy="133.5" rx="29.2" ry="27.2" transform="rotate(50 821.6 133.5)" fill="#fff" stroke="#141414" stroke-width="1.6" />
<ellipse cx="822.9" cy="134.4" rx="20.2" ry="18.4" transform="rotate(50 822.9 134.4)" fill="#fff" stroke="#141414" stroke-width="2.0" />
<polyline points="805.4,128.5 819.1,116.6" fill="none" stroke="#141414" stroke-width="0.9" />
<polyline points="842.1,140.9 844.5,141.7" fill="none" stroke="#141414" stroke-width="1.4" />
<polyline points="828.2,152.7 828.8,155.1" fill="none" stroke="#141414" stroke-width="1.4" />
<polyline points="812.6,150.8 811.4,153.0" fill="none" stroke="#141414" stroke-width="1.4" />
<polyline points="803.6,127.9 801.3,127.0" fill="none" stroke="#141414" stroke-width="1.4" />
<polyline points="815.9,116.5 815.0,114.2" fill="none" stroke="#141414" stroke-width="1.4" />
<polyline points="833.1,117.9 834.4,115.8" fill="none" stroke="#141414" stroke-width="1.4" />
<polyline points="842.7,129.5 845.1,128.8" fill="none" stroke="#141414" stroke-width="1.4" />
<circle cx="797.5" cy="109.8" r="1.7" fill="#fff" stroke="#141414" stroke-width="1.3"/>
<circle cx="826.6" cy="92.9" r="1.7" fill="#fff" stroke="#141414" stroke-width="1.3"/>
<circle cx="846.0" cy="125.4" r="1.7" fill="#fff" stroke="#141414" stroke-width="1.3"/>
<circle cx="846.6" cy="157.9" r="1.7" fill="#fff" stroke="#141414" stroke-width="1.3"/>
<circle cx="796.0" cy="138.5" r="1.7" fill="#fff" stroke="#141414" stroke-width="1.3"/>
<circle cx="805.4" cy="162.2" r="1.7" fill="#fff" stroke="#141414" stroke-width="1.3"/>
<circle cx="792.2" cy="144.8" r="1.7" fill="#fff" stroke="#141414" stroke-width="1.3"/>
<path d="M789.8,97.2 C790.2,95.8 790.8,90.6 792.2,88.5 C793.7,86.4 796.2,85.0 798.5,84.8 C800.8,84.5 803.7,85.8 806.0,87.2 C808.3,88.7 811.0,91.2 812.2,93.5 C813.5,95.8 813.3,99.8 813.5,101.0" fill="none" stroke="#141414" stroke-width="1.3" stroke-linejoin="round" stroke-linecap="round" />
<path d="M794.8,103.5 C795.8,103.9 798.5,105.9 801.0,106.0 C803.5,106.1 807.0,104.9 809.8,104.1 C812.5,103.4 815.6,103.0 817.2,101.6 C818.9,100.3 819.4,98.0 819.8,96.0 C820.1,94.0 819.2,90.8 819.1,89.8" fill="none" stroke="#141414" stroke-width="2.2" stroke-linejoin="round" stroke-linecap="round" />
<path d="M802.9,94.1 C803.8,93.9 806.9,92.4 808.5,92.9 C810.1,93.4 812.0,95.7 812.2,97.2 C812.5,98.8 810.2,101.4 809.8,102.2" fill="none" stroke="#141414" stroke-width="1.0" stroke-linejoin="round" stroke-linecap="round" />
<ellipse cx="797.5" cy="95.0" rx="4.6" ry="3.6" transform="rotate(46 797.5 95.0)" fill="#1c1c1c" stroke="#141414" stroke-width="1" />
<ellipse cx="798.1" cy="94.4" rx="2.0" ry="1.5" transform="rotate(46 798.1 94.4)" fill="#aaa" stroke="#141414" stroke-width="0.4" />
<ellipse cx="797.5" cy="95.0" rx="6.4" ry="5.2" transform="rotate(46 797.5 95.0)" fill="none" stroke="#141414" stroke-width="1.0" />
<polyline points="801.6,92.9 812.2,91.0" fill="none" stroke="#141414" stroke-width="1.0" />
<g clip-path="url(#c39)">
<path d="M785.4,97.2 C785.1,99.3 783.9,105.6 783.5,109.8 C783.1,113.9 782.6,118.3 782.9,122.2 C783.2,126.2 785.0,131.6 785.4,133.5" fill="none" stroke="#141414" stroke-width="2.6" stroke-linejoin="round" stroke-linecap="round" />
<path d="M791.0,99.8 C790.7,101.6 789.3,107.2 789.1,111.0 C788.9,114.8 789.0,118.9 789.8,122.2 C790.5,125.6 792.9,129.5 793.5,131.0" fill="none" stroke="#141414" stroke-width="1.6" stroke-linejoin="round" stroke-linecap="round" />
<polyline points="783.8,102.2 790.8,103.5" fill="none" stroke="#141414" stroke-width="1.8" />
<polyline points="783.9,106.2 791.0,107.2" fill="none" stroke="#141414" stroke-width="1.8" />
<polyline points="784.0,110.2 791.2,111.0" fill="none" stroke="#141414" stroke-width="1.8" />
<polyline points="784.1,114.2 791.5,114.8" fill="none" stroke="#141414" stroke-width="1.8" />
<polyline points="784.2,118.2 791.8,118.5" fill="none" stroke="#141414" stroke-width="1.8" />
<polyline points="784.4,122.2 792.0,122.2" fill="none" stroke="#141414" stroke-width="1.8" />
<polyline points="784.5,126.2 792.2,126.0" fill="none" stroke="#141414" stroke-width="1.8" />
<polyline points="784.6,130.2 792.5,129.8" fill="none" stroke="#141414" stroke-width="1.8" />
<polyline points="786.6,107.2 787.2,131.0" fill="none" stroke="#141414" stroke-width="2.0" />
</g>
<polyline points="819.8,87.2 821.0,98.5 817.2,103.5" fill="none" stroke="#141414" stroke-width="2.0" />
<polyline points="821.0,98.5 834.8,106.0 838.5,97.2" fill="none" stroke="#141414" stroke-width="1.2" />
<polygon points="836.0,103.5 843.5,100.4 849.1,114.1 841.6,117.2" fill="#fff" stroke="#141414" stroke-width="1.8" stroke-linejoin="round" />
<polyline points="834.8,106.0 842.2,118.5 851.0,124.8" fill="none" stroke="#141414" stroke-width="1.2" />
<polyline points="849.1,114.1 856.0,121.0 863.5,116.0" fill="none" stroke="#141414" stroke-width="1.4" />
<polyline points="851.0,124.8 858.5,131.0 867.2,124.8" fill="none" stroke="#141414" stroke-width="1.0" />
<path d="M823.5,102.2 C825.0,103.1 829.3,104.5 832.2,107.2 C835.2,110.0 838.7,115.6 841.0,118.5 C843.3,121.4 845.2,123.7 846.0,124.8" fill="none" stroke="#141414" stroke-width="0.9" stroke-linejoin="round" stroke-linecap="round" />
<g clip-path="url(#c39)">
<path d="M863.5,118.5 C864.0,120.6 865.9,126.4 866.6,131.0 C867.4,135.6 867.5,141.0 867.9,146.0 C868.3,151.0 868.8,156.6 869.1,161.0 C869.4,165.4 869.6,170.4 869.8,172.2" fill="none" stroke="#141414" stroke-width="3.4" stroke-linejoin="round" stroke-linecap="round" />
<path d="M858.5,121.0 C859.1,122.7 861.4,127.2 862.2,131.0 C863.1,134.8 863.0,138.9 863.5,143.5 C864.0,148.1 865.1,156.0 865.4,158.5" fill="none" stroke="#141414" stroke-width="2.0" stroke-linejoin="round" stroke-linecap="round" />
<path d="M851.0,136.0 C851.6,133.3 854.3,133.3 856.0,133.5 C857.7,133.7 860.0,135.2 861.0,137.2 C862.0,139.3 862.8,143.5 862.2,146.0 C861.7,148.5 859.5,151.6 857.9,152.2 C856.2,152.9 853.4,152.5 852.2,149.8 C851.1,147.0 850.4,138.7 851.0,136.0 Z" fill="#fff" stroke="#141414" stroke-width="1.6" stroke-linejoin="round" stroke-linecap="round" />
<path d="M852.2,153.5 C853.4,151.8 856.4,154.8 858.5,154.8 C860.6,154.8 863.3,151.8 864.8,153.5 C866.2,155.2 868.1,162.2 867.2,164.8 C866.4,167.2 862.4,168.5 859.8,168.5 C857.1,168.5 852.9,167.2 851.6,164.8 C850.4,162.2 851.1,155.2 852.2,153.5 Z" fill="#fff" stroke="#141414" stroke-width="1.6" stroke-linejoin="round" stroke-linecap="round" />
<ellipse cx="857.2" cy="142.2" rx="2.6" ry="3.6" transform="rotate(20 857.2 142.2)" fill="#fff" stroke="#141414" stroke-width="1.0" />
<polyline points="851.0,126.0 858.5,124.8 862.2,133.5" fill="none" stroke="#141414" stroke-width="2.0" />
<polyline points="853.5,128.5 857.2,133.5" fill="none" stroke="#141414" stroke-width="1.6" />
<polyline points="846.0,163.5 851.0,174.8" fill="none" stroke="#141414" stroke-width="2.4" />
<polyline points="841.0,166.0 845.4,176.0" fill="none" stroke="#141414" stroke-width="1.8" />
<polyline points="851.0,166.0 856.0,172.2 863.5,171.0" fill="none" stroke="#141414" stroke-width="2.0" />
</g>
<ellipse cx="867.9" cy="171.6" rx="3.6" ry="3.6" transform="rotate(0 867.9 171.6)" fill="#fff" stroke="#141414" stroke-width="1.6" />
<circle cx="856.0" cy="169.5" r="2.3" fill="#1c1c1c"/>
<polyline points="797.2,154.8 802.9,150.4" fill="none" stroke="#141414" stroke-width="2.4" />
<polyline points="811.6,158.5 812.5,164.8" fill="none" stroke="#141414" stroke-width="2.0" />
<circle cx="822.5" cy="166.0" r="2.6" fill="#1c1c1c"/>
<polyline points="828.5,164.8 831.6,169.8" fill="none" stroke="#141414" stroke-width="2.2" />
<polyline points="834.8,166.0 837.2,171.0" fill="none" stroke="#141414" stroke-width="1.8" />
<polyline points="818.5,162.2 828.5,166.0 841.0,167.2" fill="none" stroke="#141414" stroke-width="1.2" />
<circle cx="786.0" cy="141.0" r="1.4" fill="#fff" stroke="#141414" stroke-width="1.0"/>
<circle cx="805.0" cy="162.5" r="1.4" fill="#fff" stroke="#141414" stroke-width="1.0"/>
<circle cx="813.5" cy="161.0" r="1.4" fill="#fff" stroke="#141414" stroke-width="1.0"/>
<clipPath id="c38"><path d="M177.8,651.9 C182.2,645.3 186.1,643.5 191.7,640.9 C197.3,638.3 197.7,637.9 205.7,638.9 C213.6,639.9 224.8,643.7 231.6,645.9 C238.3,648.1 235.9,649.9 239.5,649.9 C243.1,649.9 245.5,645.5 249.5,645.9 C253.5,646.3 255.9,647.9 259.4,651.9 C263.0,655.9 263.8,660.2 267.4,665.8 C271.0,671.4 274.9,675.0 277.4,679.8 C279.8,684.5 280.1,685.7 279.8,689.7 C279.4,693.7 275.5,694.5 275.8,699.7 C276.1,704.9 278.6,710.0 281.4,715.6 C284.1,721.2 285.7,723.6 289.3,727.6 C292.9,731.6 296.1,730.8 299.3,735.5 C302.5,740.3 303.6,745.1 305.3,751.5 C306.9,757.8 309.6,762.9 307.6,767.4 C305.7,771.9 300.2,772.1 295.3,773.8 C290.4,775.5 289.3,776.7 283.3,775.8 C277.4,774.8 272.6,771.4 265.4,769.0 C258.2,766.6 254.3,765.7 247.5,763.8 C240.7,762.0 238.3,761.8 231.6,759.8 C224.8,757.8 220.0,755.9 213.6,753.9 C207.3,751.9 203.7,749.1 199.7,749.9 C195.7,750.7 197.7,758.2 193.7,757.8 C189.7,757.5 185.7,751.9 179.8,747.9 C173.8,743.9 169.0,743.1 163.8,737.9 C158.6,732.7 156.3,728.0 153.9,722.0 C151.5,715.9 151.1,712.9 151.9,707.6 C152.7,702.4 154.7,699.7 157.8,695.7 C161.0,691.7 165.4,692.1 167.8,687.7 C170.2,683.3 167.8,681.0 169.8,673.8 C171.8,666.6 173.4,658.4 177.8,651.9 Z"/></clipPath>
<path d="M177.8,651.9 C182.2,645.3 186.1,643.5 191.7,640.9 C197.3,638.3 197.7,637.9 205.7,638.9 C213.6,639.9 224.8,643.7 231.6,645.9 C238.3,648.1 235.9,649.9 239.5,649.9 C243.1,649.9 245.5,645.5 249.5,645.9 C253.5,646.3 255.9,647.9 259.4,651.9 C263.0,655.9 263.8,660.2 267.4,665.8 C271.0,671.4 274.9,675.0 277.4,679.8 C279.8,684.5 280.1,685.7 279.8,689.7 C279.4,693.7 275.5,694.5 275.8,699.7 C276.1,704.9 278.6,710.0 281.4,715.6 C284.1,721.2 285.7,723.6 289.3,727.6 C292.9,731.6 296.1,730.8 299.3,735.5 C302.5,740.3 303.6,745.1 305.3,751.5 C306.9,757.8 309.6,762.9 307.6,767.4 C305.7,771.9 300.2,772.1 295.3,773.8 C290.4,775.5 289.3,776.7 283.3,775.8 C277.4,774.8 272.6,771.4 265.4,769.0 C258.2,766.6 254.3,765.7 247.5,763.8 C240.7,762.0 238.3,761.8 231.6,759.8 C224.8,757.8 220.0,755.9 213.6,753.9 C207.3,751.9 203.7,749.1 199.7,749.9 C195.7,750.7 197.7,758.2 193.7,757.8 C189.7,757.5 185.7,751.9 179.8,747.9 C173.8,743.9 169.0,743.1 163.8,737.9 C158.6,732.7 156.3,728.0 153.9,722.0 C151.5,715.9 151.1,712.9 151.9,707.6 C152.7,702.4 154.7,699.7 157.8,695.7 C161.0,691.7 165.4,692.1 167.8,687.7 C170.2,683.3 167.8,681.0 169.8,673.8 C171.8,666.6 173.4,658.4 177.8,651.9 Z" fill="#fff" stroke="#141414" stroke-width="2.8" stroke-linejoin="round" stroke-linecap="round" />
<path d="M177.8,651.9 C182.2,645.3 186.1,643.5 191.7,640.9 C197.3,638.3 197.7,637.9 205.7,638.9 C213.6,639.9 224.8,643.7 231.6,645.9 C238.3,648.1 235.9,649.9 239.5,649.9 C243.1,649.9 245.5,645.5 249.5,645.9 C253.5,646.3 255.9,647.9 259.4,651.9 C263.0,655.9 263.8,660.2 267.4,665.8 C271.0,671.4 274.9,675.0 277.4,679.8 C279.8,684.5 280.1,685.7 279.8,689.7 C279.4,693.7 275.5,694.5 275.8,699.7 C276.1,704.9 278.6,710.0 281.4,715.6 C284.1,721.2 285.7,723.6 289.3,727.6 C292.9,731.6 296.1,730.8 299.3,735.5 C302.5,740.3 303.6,745.1 305.3,751.5 C306.9,757.8 309.6,762.9 307.6,767.4 C305.7,771.9 300.2,772.1 295.3,773.8 C290.4,775.5 289.3,776.7 283.3,775.8 C277.4,774.8 272.6,771.4 265.4,769.0 C258.2,766.6 254.3,765.7 247.5,763.8 C240.7,762.0 238.3,761.8 231.6,759.8 C224.8,757.8 220.0,755.9 213.6,753.9 C207.3,751.9 203.7,749.1 199.7,749.9 C195.7,750.7 197.7,758.2 193.7,757.8 C189.7,757.5 185.7,751.9 179.8,747.9 C173.8,743.9 169.0,743.1 163.8,737.9 C158.6,732.7 156.3,728.0 153.9,722.0 C151.5,715.9 151.1,712.9 151.9,707.6 C152.7,702.4 154.7,699.7 157.8,695.7 C161.0,691.7 165.4,692.1 167.8,687.7 C170.2,683.3 167.8,681.0 169.8,673.8 C171.8,666.6 173.4,658.4 177.8,651.9 Z" fill="none" stroke="#fff" stroke-width="0.7" stroke-linejoin="round" stroke-linecap="round" />
<clipPath id="c38b"><polygon points="241.5,651.9 263.4,649.9 283.3,689.7 309.2,739.5 309.2,775.4 199.7,751.5 223.6,719.6 257.5,707.6 259.4,685.7"/></clipPath>
<g clip-path="url(#c38)">
<g clip-path="url(#c38b)">
<g stroke="#141414" fill="none">
<line x1="167.0" y1="716.9" x2="278.0" y2="612.2" stroke-width="1.4"/>
<line x1="172.0" y1="722.3" x2="283.1" y2="617.6" stroke-width="1.4"/>
<line x1="176.6" y1="727.1" x2="287.6" y2="622.4" stroke-width="0.9"/>
<line x1="180.2" y1="731.0" x2="291.3" y2="626.3" stroke-width="0.6"/>
<line x1="183.5" y1="734.5" x2="294.6" y2="629.8" stroke-width="0.9"/>
<line x1="187.6" y1="738.8" x2="298.7" y2="634.1" stroke-width="0.6"/>
<line x1="190.5" y1="741.9" x2="301.6" y2="637.2" stroke-width="0.8"/>
<line x1="238.3" y1="703.9" x2="268.2" y2="675.7" stroke-width="0.9"/>
<line x1="252.8" y1="699.8" x2="275.3" y2="678.6" stroke-width="0.8"/>
<line x1="204.1" y1="756.4" x2="315.2" y2="651.7" stroke-width="0.8"/>
<line x1="207.9" y1="760.4" x2="319.0" y2="655.7" stroke-width="0.8"/>
<line x1="266.7" y1="715.0" x2="299.9" y2="683.8" stroke-width="0.8"/>
<line x1="238.9" y1="753.1" x2="270.3" y2="723.5" stroke-width="0.9"/>
<line x1="222.2" y1="775.5" x2="333.3" y2="670.9" stroke-width="0.6"/>
<line x1="265.3" y1="745.8" x2="306.3" y2="707.2" stroke-width="1.2"/>
<line x1="231.5" y1="785.4" x2="342.6" y2="680.7" stroke-width="0.9"/>
<line x1="235.4" y1="789.5" x2="346.5" y2="684.9" stroke-width="0.9"/>
<line x1="238.8" y1="793.2" x2="349.9" y2="688.5" stroke-width="0.9"/>
<line x1="241.8" y1="796.4" x2="352.9" y2="691.7" stroke-width="1.4"/>
<line x1="246.0" y1="800.8" x2="357.0" y2="696.1" stroke-width="1.2"/>
<line x1="250.0" y1="805.1" x2="361.1" y2="700.4" stroke-width="1.2"/>
<line x1="307.4" y1="759.6" x2="340.5" y2="728.4" stroke-width="1.4"/>
<line x1="259.6" y1="815.2" x2="370.7" y2="710.5" stroke-width="0.9"/>
<line x1="289.3" y1="795.2" x2="344.3" y2="743.4" stroke-width="1.2"/>
<line x1="268.9" y1="825.1" x2="380.0" y2="720.4" stroke-width="0.9"/>
</g>
</g>
</g>
<clipPath id="c38c"><path d="M177.8,652.9 C182.0,646.5 186.1,644.8 191.7,642.3 C197.3,639.8 197.9,639.4 205.7,640.3 C213.4,641.2 223.4,643.0 230.6,646.9 C237.7,650.8 237.1,653.7 241.5,659.8 C245.9,666.0 249.2,670.6 252.5,677.8 C255.7,684.9 257.6,689.7 257.8,695.7 C258.1,701.7 257.7,704.1 253.9,707.6 C250.0,711.2 245.0,711.6 238.5,713.6 C232.1,715.7 226.6,715.0 221.6,718.0 C216.6,721.0 216.4,724.3 213.6,728.6 C210.8,732.9 210.6,735.3 207.6,739.5 C204.7,743.7 201.6,746.1 198.7,749.5 C195.8,752.9 197.1,757.0 193.3,756.5 C189.5,755.9 185.5,750.6 179.8,746.7 C174.0,742.8 169.6,742.2 164.6,737.1 C159.7,732.1 157.3,727.4 155.1,721.6 C152.8,715.8 152.5,713.0 153.3,708.0 C154.0,703.1 155.7,700.6 158.8,696.7 C162.0,692.8 166.4,693.2 168.8,688.7 C171.2,684.2 169.0,681.4 170.8,674.2 C172.6,667.0 173.6,659.2 177.8,652.9 Z"/></clipPath>
<path d="M177.8,652.9 C182.0,646.5 186.1,644.8 191.7,642.3 C197.3,639.8 197.9,639.4 205.7,640.3 C213.4,641.2 223.4,643.0 230.6,646.9 C237.7,650.8 237.1,653.7 241.5,659.8 C245.9,666.0 249.2,670.6 252.5,677.8 C255.7,684.9 257.6,689.7 257.8,695.7 C258.1,701.7 257.7,704.1 253.9,707.6 C250.0,711.2 245.0,711.6 238.5,713.6 C232.1,715.7 226.6,715.0 221.6,718.0 C216.6,721.0 216.4,724.3 213.6,728.6 C210.8,732.9 210.6,735.3 207.6,739.5 C204.7,743.7 201.6,746.1 198.7,749.5 C195.8,752.9 197.1,757.0 193.3,756.5 C189.5,755.9 185.5,750.6 179.8,746.7 C174.0,742.8 169.6,742.2 164.6,737.1 C159.7,732.1 157.3,727.4 155.1,721.6 C152.8,715.8 152.5,713.0 153.3,708.0 C154.0,703.1 155.7,700.6 158.8,696.7 C162.0,692.8 166.4,693.2 168.8,688.7 C171.2,684.2 169.0,681.4 170.8,674.2 C172.6,667.0 173.6,659.2 177.8,652.9 Z" fill="#fff" stroke="#141414" stroke-width="4.4" stroke-linejoin="round" stroke-linecap="round" />
<path d="M177.8,652.9 C182.0,646.5 186.1,644.8 191.7,642.3 C197.3,639.8 197.9,639.4 205.7,640.3 C213.4,641.2 223.4,643.0 230.6,646.9 C237.7,650.8 237.1,653.7 241.5,659.8 C245.9,666.0 249.2,670.6 252.5,677.8 C255.7,684.9 257.6,689.7 257.8,695.7 C258.1,701.7 257.7,704.1 253.9,707.6 C250.0,711.2 245.0,711.6 238.5,713.6 C232.1,715.7 226.6,715.0 221.6,718.0 C216.6,721.0 216.4,724.3 213.6,728.6 C210.8,732.9 210.6,735.3 207.6,739.5 C204.7,743.7 201.6,746.1 198.7,749.5 C195.8,752.9 197.1,757.0 193.3,756.5 C189.5,755.9 185.5,750.6 179.8,746.7 C174.0,742.8 169.6,742.2 164.6,737.1 C159.7,732.1 157.3,727.4 155.1,721.6 C152.8,715.8 152.5,713.0 153.3,708.0 C154.0,703.1 155.7,700.6 158.8,696.7 C162.0,692.8 166.4,693.2 168.8,688.7 C171.2,684.2 169.0,681.4 170.8,674.2 C172.6,667.0 173.6,659.2 177.8,652.9 Z" fill="none" stroke="#fff" stroke-width="0.8" stroke-linejoin="round" stroke-linecap="round" />
<path d="M180.8,657.8 C184.2,651.8 187.7,649.5 192.7,646.9 C197.7,644.3 198.9,644.1 205.7,644.9 C212.4,645.7 220.3,647.3 226.6,650.9 C232.9,654.5 232.9,657.1 237.1,662.8 C241.3,668.6 244.5,673.4 247.5,679.8 C250.4,686.1 251.7,689.9 251.9,694.7 C252.1,699.5 251.8,700.8 248.5,703.7 C245.2,706.5 241.5,706.9 235.5,708.8 C229.6,710.8 223.8,710.4 218.6,713.6 C213.4,716.9 212.6,720.7 209.6,725.2 C206.7,729.6 206.3,732.1 203.7,735.9 C201.1,739.8 199.0,741.7 196.7,744.5 C194.4,747.3 195.0,750.3 192.1,749.9 C189.2,749.4 186.7,745.7 182.2,742.3 C177.6,739.0 173.7,737.7 169.4,733.1 C165.1,728.6 162.9,724.4 160.8,719.6 C158.8,714.8 158.6,712.9 159.2,709.0 C159.8,705.1 161.0,703.5 163.8,700.1 C166.7,696.7 171.1,696.7 173.4,692.1 C175.7,687.6 173.9,684.2 175.4,677.4 C176.9,670.5 177.3,663.9 180.8,657.8 Z" fill="none" stroke="#141414" stroke-width="1.5" stroke-linejoin="round" stroke-linecap="round" />
<g clip-path="url(#c38c)">
<polyline points="177.8,652.9 180.8,657.8" fill="none" stroke="#141414" stroke-width="1.6" />
<polyline points="184.7,647.6 186.7,652.4" fill="none" stroke="#141414" stroke-width="1.2" />
<polyline points="191.7,642.3 192.7,646.9" fill="none" stroke="#141414" stroke-width="1.6" />
<polyline points="198.7,641.3 199.2,645.9" fill="none" stroke="#141414" stroke-width="1.2" />
<polyline points="205.7,640.3 205.7,644.9" fill="none" stroke="#141414" stroke-width="1.6" />
<polyline points="218.1,643.6 216.1,647.9" fill="none" stroke="#141414" stroke-width="1.2" />
<polyline points="230.6,646.9 226.6,650.9" fill="none" stroke="#141414" stroke-width="1.6" />
<polyline points="236.0,653.4 231.9,656.9" fill="none" stroke="#141414" stroke-width="1.2" />
<polyline points="241.5,659.8 237.1,662.8" fill="none" stroke="#141414" stroke-width="1.6" />
<polyline points="247.0,668.8 242.3,671.3" fill="none" stroke="#141414" stroke-width="1.2" />
<polyline points="252.5,677.8 247.5,679.8" fill="none" stroke="#141414" stroke-width="1.6" />
<polyline points="255.2,686.7 249.7,687.2" fill="none" stroke="#141414" stroke-width="1.2" />
<polyline points="257.8,695.7 251.9,694.7" fill="none" stroke="#141414" stroke-width="1.6" />
<polyline points="255.9,701.7 250.2,699.2" fill="none" stroke="#141414" stroke-width="1.2" />
<polyline points="253.9,707.6 248.5,703.7" fill="none" stroke="#141414" stroke-width="1.6" />
<polyline points="246.2,710.6 242.0,706.3" fill="none" stroke="#141414" stroke-width="1.2" />
<polyline points="238.5,713.6 235.5,708.8" fill="none" stroke="#141414" stroke-width="1.6" />
<polyline points="230.1,715.8 227.1,711.2" fill="none" stroke="#141414" stroke-width="1.2" />
<polyline points="221.6,718.0 218.6,713.6" fill="none" stroke="#141414" stroke-width="1.6" />
<polyline points="217.6,723.3 214.1,719.4" fill="none" stroke="#141414" stroke-width="1.2" />
<polyline points="213.6,728.6 209.6,725.2" fill="none" stroke="#141414" stroke-width="1.6" />
<polyline points="210.6,734.0 206.7,730.6" fill="none" stroke="#141414" stroke-width="1.2" />
<polyline points="207.6,739.5 203.7,735.9" fill="none" stroke="#141414" stroke-width="1.6" />
<polyline points="203.2,744.5 200.2,740.2" fill="none" stroke="#141414" stroke-width="1.2" />
<polyline points="198.7,749.5 196.7,744.5" fill="none" stroke="#141414" stroke-width="1.6" />
<polyline points="196.0,753.0 194.4,747.2" fill="none" stroke="#141414" stroke-width="1.2" />
<polyline points="193.3,756.5 192.1,749.9" fill="none" stroke="#141414" stroke-width="1.6" />
<polyline points="186.5,751.6 187.1,746.1" fill="none" stroke="#141414" stroke-width="1.2" />
<polyline points="179.8,746.7 182.2,742.3" fill="none" stroke="#141414" stroke-width="1.6" />
<polyline points="172.2,741.9 175.8,737.7" fill="none" stroke="#141414" stroke-width="1.2" />
<polyline points="164.6,737.1 169.4,733.1" fill="none" stroke="#141414" stroke-width="1.6" />
<polyline points="159.8,729.4 165.1,726.4" fill="none" stroke="#141414" stroke-width="1.2" />
<polyline points="155.1,721.6 160.8,719.6" fill="none" stroke="#141414" stroke-width="1.6" />
<polyline points="154.2,714.8 160.0,714.3" fill="none" stroke="#141414" stroke-width="1.2" />
<polyline points="153.3,708.0 159.2,709.0" fill="none" stroke="#141414" stroke-width="1.6" />
<polyline points="156.1,702.4 161.5,704.6" fill="none" stroke="#141414" stroke-width="1.2" />
<polyline points="158.8,696.7 163.8,700.1" fill="none" stroke="#141414" stroke-width="1.6" />
<polyline points="163.8,692.7 168.6,696.1" fill="none" stroke="#141414" stroke-width="1.2" />
<polyline points="168.8,688.7 173.4,692.1" fill="none" stroke="#141414" stroke-width="1.6" />
<polyline points="169.8,681.5 174.4,684.7" fill="none" stroke="#141414" stroke-width="1.2" />
<polyline points="170.8,674.2 175.4,677.4" fill="none" stroke="#141414" stroke-width="1.6" />
<polyline points="174.3,663.5 178.1,667.6" fill="none" stroke="#141414" stroke-width="1.2" />
</g>
<polygon points="183.3,660.8 191.7,651.9 213.6,651.9 218.0,669.8 209.6,696.7 179.8,694.1 176.8,679.8" fill="#fff" stroke="#141414" stroke-width="1.6" stroke-linejoin="round" />
<g clip-path="url(#c38c)">
<polyline points="184.1,660.8 179.0,694.1" fill="none" stroke="#141414" stroke-width="2.0" />
<polyline points="187.1,660.5 182.0,694.4" fill="none" stroke="#141414" stroke-width="2.0" />
<polyline points="190.1,660.2 184.9,694.7" fill="none" stroke="#141414" stroke-width="2.0" />
<polyline points="193.1,659.9 187.9,695.0" fill="none" stroke="#141414" stroke-width="2.0" />
<polyline points="196.1,659.6 190.9,695.3" fill="none" stroke="#141414" stroke-width="2.0" />
<polyline points="199.1,659.3 193.9,695.6" fill="none" stroke="#141414" stroke-width="2.0" />
<polyline points="202.1,659.0 196.9,695.9" fill="none" stroke="#141414" stroke-width="2.0" />
<polyline points="205.1,658.7 199.9,696.2" fill="none" stroke="#141414" stroke-width="2.0" />
<polyline points="208.0,658.4 202.9,696.5" fill="none" stroke="#141414" stroke-width="2.0" />
<polyline points="211.0,658.1 205.9,696.8" fill="none" stroke="#141414" stroke-width="2.0" />
<polyline points="214.0,657.8 208.8,697.1" fill="none" stroke="#141414" stroke-width="2.0" />
</g>
<ellipse cx="203.7" cy="649.5" rx="10.5" ry="6.8" transform="rotate(-18 203.7 649.5)" fill="#fff" stroke="#141414" stroke-width="1.5" />
<polyline points="169.8,676.8 179.8,658.8" fill="none" stroke="#141414" stroke-width="1.8" />
<polyline points="172.2,686.7 179.8,694.1" fill="none" stroke="#141414" stroke-width="1.6" />
<polyline points="173.8,679.8 178.2,685.7" fill="none" stroke="#141414" stroke-width="1.2" />
<clipPath id="c38d"><polygon points="154.9,699.7 171.8,691.7 199.7,696.7 215.6,725.6 195.7,757.5 163.8,737.5 152.9,719.6"/></clipPath>
<g clip-path="url(#c38c)">
<g clip-path="url(#c38d)">
<g stroke="#141414" fill="none">
<line x1="127.0" y1="715.0" x2="172.0" y2="673.0" stroke-width="1.9"/>
<line x1="119.9" y1="727.8" x2="192.3" y2="660.3" stroke-width="1.2"/>
<line x1="150.8" y1="703.7" x2="165.8" y2="689.7" stroke-width="1.6"/>
<line x1="154.0" y1="706.8" x2="176.9" y2="685.4" stroke-width="1.2"/>
<line x1="163.2" y1="702.0" x2="205.6" y2="662.4" stroke-width="0.8"/>
<line x1="141.3" y1="726.8" x2="173.7" y2="696.5" stroke-width="1.2"/>
<line x1="157.9" y1="714.7" x2="175.5" y2="698.2" stroke-width="1.2"/>
<line x1="153.8" y1="724.1" x2="180.7" y2="699.0" stroke-width="0.8"/>
<line x1="153.2" y1="729.3" x2="197.3" y2="688.1" stroke-width="1.1"/>
<line x1="172.9" y1="714.2" x2="219.7" y2="670.6" stroke-width="1.1"/>
<line x1="140.5" y1="749.9" x2="212.9" y2="682.4" stroke-width="1.6"/>
<line x1="172.1" y1="723.7" x2="193.8" y2="703.4" stroke-width="1.6"/>
<line x1="158.4" y1="742.5" x2="189.2" y2="713.8" stroke-width="1.6"/>
<line x1="148.2" y1="756.2" x2="166.1" y2="739.6" stroke-width="1.2"/>
<line x1="152.5" y1="757.6" x2="188.7" y2="723.9" stroke-width="1.2"/>
<line x1="172.4" y1="743.7" x2="209.5" y2="709.2" stroke-width="1.6"/>
<line x1="184.3" y1="736.3" x2="210.8" y2="711.6" stroke-width="1.1"/>
<line x1="163.0" y1="761.7" x2="210.9" y2="717.0" stroke-width="1.2"/>
<line x1="183.4" y1="746.2" x2="222.3" y2="709.9" stroke-width="1.2"/>
<line x1="197.4" y1="739.1" x2="246.7" y2="693.1" stroke-width="1.1"/>
<line x1="177.7" y1="762.5" x2="201.1" y2="740.6" stroke-width="1.2"/>
<line x1="182.9" y1="763.4" x2="212.1" y2="736.2" stroke-width="1.1"/>
<line x1="169.7" y1="781.2" x2="242.1" y2="713.7" stroke-width="0.8"/>
<line x1="172.6" y1="781.7" x2="196.0" y2="759.8" stroke-width="1.2"/>
<line x1="178.7" y1="780.3" x2="198.7" y2="761.6" stroke-width="1.2"/>
<line x1="210.8" y1="755.7" x2="244.4" y2="724.5" stroke-width="0.8"/>
<line x1="178.8" y1="791.0" x2="251.2" y2="723.4" stroke-width="0.8"/>
<line x1="181.8" y1="794.1" x2="254.2" y2="726.6" stroke-width="1.2"/>
<line x1="184.7" y1="797.3" x2="257.1" y2="729.8" stroke-width="1.6"/>
</g>
</g>
</g>
<g clip-path="url(#c38c)">
<g clip-path="url(#c38d)">
<g stroke="#141414" fill="none">
<line x1="203.3" y1="681.7" x2="231.9" y2="712.4" stroke-width="1.1"/>
<line x1="190.1" y1="676.0" x2="233.6" y2="722.6" stroke-width="1.9"/>
<line x1="195.8" y1="688.0" x2="240.7" y2="736.2" stroke-width="0.8"/>
<line x1="173.0" y1="671.8" x2="216.2" y2="718.2" stroke-width="1.2"/>
<line x1="173.5" y1="680.2" x2="190.8" y2="698.7" stroke-width="1.2"/>
<line x1="196.2" y1="712.0" x2="228.8" y2="746.9" stroke-width="1.9"/>
<line x1="165.8" y1="687.7" x2="192.6" y2="716.4" stroke-width="1.6"/>
<line x1="164.3" y1="695.5" x2="186.9" y2="719.8" stroke-width="1.9"/>
<line x1="168.7" y1="708.5" x2="183.3" y2="724.2" stroke-width="1.2"/>
<line x1="175.8" y1="725.6" x2="202.7" y2="754.5" stroke-width="1.6"/>
<line x1="153.9" y1="711.7" x2="187.0" y2="747.2" stroke-width="1.1"/>
<line x1="155.9" y1="720.1" x2="195.0" y2="762.0" stroke-width="1.6"/>
<line x1="167.1" y1="741.5" x2="192.6" y2="768.9" stroke-width="1.2"/>
<line x1="158.3" y1="739.1" x2="178.5" y2="760.7" stroke-width="1.2"/>
<line x1="157.2" y1="743.9" x2="176.5" y2="764.6" stroke-width="0.8"/>
<line x1="153.9" y1="747.9" x2="188.6" y2="785.2" stroke-width="1.2"/>
<line x1="146.5" y1="747.1" x2="181.9" y2="785.0" stroke-width="0.8"/>
<line x1="123.4" y1="728.0" x2="141.0" y2="746.9" stroke-width="1.9"/>
<line x1="142.6" y1="754.2" x2="172.9" y2="786.7" stroke-width="1.6"/>
</g>
</g>
</g>
<ellipse cx="181.8" cy="718.0" rx="18.0" ry="15.0" transform="rotate(46 181.8 718.0)" fill="#fff" stroke="#141414" stroke-width="2.4" />
<ellipse cx="181.8" cy="718.0" rx="15.0" ry="12.2" transform="rotate(46 181.8 718.0)" fill="#fff" stroke="#141414" stroke-width="1.2" />
<ellipse cx="182.3" cy="718.5" rx="12.0" ry="9.8" transform="rotate(46 182.3 718.5)" fill="#fff" stroke="#141414" stroke-width="2.8" />
<ellipse cx="183.3" cy="719.2" rx="8.4" ry="6.8" transform="rotate(46 183.3 719.2)" fill="#fff" stroke="#141414" stroke-width="1.4" />
<ellipse cx="184.2" cy="720.0" rx="6.0" ry="4.8" transform="rotate(46 184.2 720.0)" fill="none" stroke="#141414" stroke-width="0.8" />
<line x1="174.3" y1="731.6" x2="171.8" y2="736.2" stroke="#141414" stroke-width="1.6" clip-path="url(#c38c)"/>
<line x1="165.5" y1="724.4" x2="160.1" y2="726.6" stroke="#141414" stroke-width="1.6" clip-path="url(#c38c)"/>
<line x1="164.4" y1="714.2" x2="158.5" y2="712.9" stroke="#141414" stroke-width="1.6" clip-path="url(#c38c)"/>
<line x1="171.4" y1="705.7" x2="168.0" y2="701.6" stroke="#141414" stroke-width="1.6" clip-path="url(#c38c)"/>
<line x1="183.3" y1="703.1" x2="183.9" y2="698.1" stroke="#141414" stroke-width="1.6" clip-path="url(#c38c)"/>
<ellipse cx="226.6" cy="676.8" rx="9.0" ry="7.2" transform="rotate(46 226.6 676.8)" fill="#fff" stroke="#141414" stroke-width="2.0" />
<ellipse cx="227.4" cy="677.4" rx="6.4" ry="5.0" transform="rotate(46 227.4 677.4)" fill="#fff" stroke="#141414" stroke-width="1.1" />
<ellipse cx="247.5" cy="694.1" rx="11.8" ry="9.6" transform="rotate(46 247.5 694.1)" fill="#fff" stroke="#141414" stroke-width="2.0" />
<ellipse cx="248.5" cy="694.9" rx="8.8" ry="7.0" transform="rotate(46 248.5 694.9)" fill="#fff" stroke="#141414" stroke-width="1.1" />
<ellipse cx="243.9" cy="675.4" rx="5.4" ry="4.4" transform="rotate(46 243.9 675.4)" fill="#fff" stroke="#141414" stroke-width="1.3" />
<ellipse cx="243.9" cy="675.4" rx="3.6" ry="2.9" transform="rotate(46 243.9 675.4)" fill="#fff" stroke="#141414" stroke-width="1.1" />
<ellipse cx="243.9" cy="675.4" rx="1.7" ry="1.3" transform="rotate(46 243.9 675.4)" fill="#fff" stroke="#141414" stroke-width="1.0" />
<circle cx="223.2" cy="692.7" r="1.3" fill="#222"/>
<polyline points="213.6,659.8 220.6,657.5 224.6,662.8 219.2,668.2" fill="none" stroke="#141414" stroke-width="1.6" />
<polyline points="215.6,669.8 219.6,677.8" fill="none" stroke="#141414" stroke-width="1.4" />
<polyline points="199.7,699.7 207.6,713.6 214.0,724.0" fill="none" stroke="#141414" stroke-width="2.0" />
<polyline points="205.7,703.7 210.0,720.0" fill="none" stroke="#141414" stroke-width="2.2" />
<polyline points="210.6,707.6 212.0,719.6" fill="none" stroke="#141414" stroke-width="1.4" />
<polyline points="199.7,731.6 209.6,728.6" fill="none" stroke="#141414" stroke-width="1.6" />
<polyline points="185.7,739.5 190.1,747.9" fill="none" stroke="#141414" stroke-width="1.6" />
<polyline points="198.7,696.7 203.7,698.7 207.6,703.7" fill="none" stroke="#141414" stroke-width="1.4" />
<circle cx="179.8" cy="652.9" r="1.8" fill="#fff" stroke="#141414" stroke-width="1.1"/>
<circle cx="205.7" cy="639.9" r="1.8" fill="#fff" stroke="#141414" stroke-width="1.1"/>
<circle cx="234.5" cy="646.9" r="1.8" fill="#fff" stroke="#141414" stroke-width="1.1"/>
<circle cx="257.5" cy="651.9" r="1.8" fill="#fff" stroke="#141414" stroke-width="1.1"/>
<circle cx="278.4" cy="689.7" r="1.8" fill="#fff" stroke="#141414" stroke-width="1.1"/>
<circle cx="298.3" cy="735.5" r="1.8" fill="#fff" stroke="#141414" stroke-width="1.1"/>
<circle cx="306.3" cy="766.4" r="1.8" fill="#fff" stroke="#141414" stroke-width="1.1"/>
<circle cx="267.4" cy="669.8" r="1.8" fill="#fff" stroke="#141414" stroke-width="1.1"/>
<polygon points="241.5,649.9 251.5,645.1 263.8,666.2 253.9,671.4" fill="#fff" stroke="#141414" stroke-width="2.0" stroke-linejoin="round" />
<polyline points="243.9,649.9 252.7,646.3" fill="none" stroke="#141414" stroke-width="1.5" />
<polyline points="246.0,653.4 254.8,649.8" fill="none" stroke="#141414" stroke-width="1.5" />
<polyline points="248.1,656.9 256.9,653.3" fill="none" stroke="#141414" stroke-width="1.5" />
<polyline points="250.2,660.3 258.9,656.8" fill="none" stroke="#141414" stroke-width="1.5" />
<polyline points="252.3,663.8 261.0,660.2" fill="none" stroke="#141414" stroke-width="1.5" />
<polyline points="254.4,667.3 263.1,663.7" fill="none" stroke="#141414" stroke-width="1.5" />
<path d="M259.4,671.8 C260.9,674.1 266.2,681.1 268.4,685.7 C270.6,690.4 271.9,695.0 272.4,699.7 C272.9,704.3 270.6,709.0 271.4,713.6 C272.2,718.3 276.4,725.2 277.4,727.6" fill="none" stroke="#141414" stroke-width="1.6" stroke-linejoin="round" stroke-linecap="round" />
<path d="M263.8,679.8 C264.4,682.4 266.7,690.7 267.0,695.7 C267.3,700.7 265.4,705.0 265.8,709.6 C266.3,714.3 269.1,721.3 269.8,723.6" fill="none" stroke="#141414" stroke-width="1.0" stroke-linejoin="round" stroke-linecap="round" stroke-dasharray="2 1.5"/>
<path d="M267.4,679.8 C268.4,681.8 272.2,687.7 273.4,691.7 C274.5,695.7 274.2,701.7 274.4,703.7" fill="none" stroke="#141414" stroke-width="1.0" stroke-linejoin="round" stroke-linecap="round" />
<ellipse cx="272.4" cy="736.5" rx="6.8" ry="5.6" transform="rotate(46 272.4 736.5)" fill="#fff" stroke="#141414" stroke-width="1.8" />
<ellipse cx="272.4" cy="736.5" rx="3.8" ry="3.1" transform="rotate(46 272.4 736.5)" fill="#fff" stroke="#141414" stroke-width="1.2" />
<ellipse cx="277.4" cy="752.5" rx="11.4" ry="9.2" transform="rotate(46 277.4 752.5)" fill="#fff" stroke="#141414" stroke-width="2.2" />
<ellipse cx="278.2" cy="753.1" rx="8.6" ry="7.0" transform="rotate(46 278.2 753.1)" fill="#fff" stroke="#141414" stroke-width="1.0" />
<ellipse cx="286.9" cy="767.0" rx="4.8" ry="4.0" transform="rotate(46 286.9 767.0)" fill="#fff" stroke="#141414" stroke-width="2.0" />
<ellipse cx="248.5" cy="739.5" rx="9.0" ry="7.4" transform="rotate(46 248.5 739.5)" fill="#fff" stroke="#141414" stroke-width="2.2" />
<ellipse cx="248.5" cy="739.5" rx="6.0" ry="4.8" transform="rotate(46 248.5 739.5)" fill="#fff" stroke="#141414" stroke-width="1.2" />
<polyline points="255.1,743.5 259.6,746.0" fill="none" stroke="#141414" stroke-width="2.2" />
<polyline points="246.7,746.3 245.4,750.7" fill="none" stroke="#141414" stroke-width="2.2" />
<polyline points="240.6,740.5 235.1,741.1" fill="none" stroke="#141414" stroke-width="2.2" />
<polyline points="244.6,733.4 241.9,729.5" fill="none" stroke="#141414" stroke-width="2.2" />
<polyline points="253.6,734.1 257.1,730.6" fill="none" stroke="#141414" stroke-width="2.2" />
<polygon points="259.4,759.4 285.3,768.4 283.3,773.4 259.4,764.4" fill="#fff" stroke="#141414" stroke-width="1.4" stroke-linejoin="round" />
<polyline points="223.6,745.5 249.5,755.5" fill="none" stroke="#141414" stroke-width="2.8" />
<ellipse cx="217.6" cy="753.9" rx="4.6" ry="3.8" transform="rotate(46 217.6 753.9)" fill="#fff" stroke="#141414" stroke-width="1.6" />
<polyline points="203.7,747.5 231.6,759.4 251.5,764.4 275.4,772.4" fill="none" stroke="#141414" stroke-width="1.0" />
<polyline points="219.6,723.6 231.6,731.6 239.5,730.6" fill="none" stroke="#141414" stroke-width="1.2" />
<ellipse cx="83.9" cy="575.0" rx="11.5" ry="9.4" transform="rotate(46 83.9 575.0)" fill="#fff" stroke="#141414" stroke-width="1.1" />
<ellipse cx="85.0" cy="574.0" rx="11.5" ry="9.4" transform="rotate(46 85.0 574.0)" fill="#fff" stroke="#141414" stroke-width="1.3" />
<ellipse cx="85.0" cy="574.0" rx="7.1" ry="5.8" transform="rotate(46 85.0 574.0)" fill="#fff" stroke="#141414" stroke-width="1.8" />
<ellipse cx="85.8" cy="574.8" rx="4.8" ry="4.0" transform="rotate(46 85.8 574.8)" fill="#fff" stroke="#141414" stroke-width="0.9" />
<path d="M120,541.7 A11,9.3 46 1 0 120,555.6" fill="none" stroke="#141414" stroke-width="1.6" stroke-linejoin="round" stroke-linecap="round" />
<path d="M118.3,543.6 A8.8,7.3 46 1 0 118.2,553.8" fill="none" stroke="#141414" stroke-width="1.0" stroke-linejoin="round" stroke-linecap="round" />
<polyline points="120.0,541.7 118.3,543.6" fill="none" stroke="#141414" stroke-width="1.2" />
<polyline points="120.0,555.6 118.2,553.8" fill="none" stroke="#141414" stroke-width="1.2" />
<circle cx="120.3" cy="545.6" r="0.9" fill="#141414"/>
<ellipse cx="137.0" cy="523.0" rx="10.8" ry="8.6" transform="rotate(46 137.0 523.0)" fill="none" stroke="#141414" stroke-width="1.5" />
<ellipse cx="162.8" cy="497.1" rx="11.5" ry="9.2" transform="rotate(46 162.8 497.1)" fill="#fff" stroke="#141414" stroke-width="1.1" />
<ellipse cx="164.0" cy="496.0" rx="11.5" ry="9.2" transform="rotate(46 164.0 496.0)" fill="#fff" stroke="#141414" stroke-width="1.2" />
<ellipse cx="164.0" cy="496.0" rx="8.3" ry="6.6" transform="rotate(46 164.0 496.0)" fill="#fff" stroke="#141414" stroke-width="2.6" />
<ellipse cx="164.0" cy="496.0" rx="5.2" ry="4.1" transform="rotate(46 164.0 496.0)" fill="#fff" stroke="#141414" stroke-width="1.0" />
<polyline points="167.3,492.8 160.7,499.2" fill="none" stroke="#141414" stroke-width="0.8" />
<ellipse cx="219.0" cy="442.0" rx="3.2" ry="1.8" transform="rotate(45.0 219.0 442.0)" fill="#fff" stroke="#141414" stroke-width="1.1" />
<polygon points="207.3,458.3 221.3,444.3 216.7,439.7 202.7,453.7" fill="#fff" stroke="none" stroke-width="1.0" stroke-linejoin="round" />
<polyline points="207.3,458.3 221.3,444.3" fill="none" stroke="#141414" stroke-width="1.1" />
<polyline points="202.7,453.7 216.7,439.7" fill="none" stroke="#141414" stroke-width="1.1" />
<ellipse cx="205.0" cy="456.0" rx="3.2" ry="1.8" transform="rotate(45.0 205.0 456.0)" fill="#fff" stroke="#141414" stroke-width="1.1" />
<ellipse cx="203.4" cy="459.5" rx="18.0" ry="14.3" transform="rotate(46 203.4 459.5)" fill="#1a1a1a" stroke="#141414" stroke-width="1.0" />
<polyline points="215.9,472.4 216.7,473.3" fill="none" stroke="#141414" stroke-width="1.0" />
<polyline points="214.3,473.7 215.0,474.7" fill="none" stroke="#141414" stroke-width="1.0" />
<polyline points="212.5,474.7 213.1,475.7" fill="none" stroke="#141414" stroke-width="1.0" />
<polyline points="210.5,475.4 210.9,476.5" fill="none" stroke="#141414" stroke-width="1.0" />
<polyline points="208.4,475.7 208.6,476.9" fill="none" stroke="#141414" stroke-width="1.0" />
<polyline points="206.1,475.8 206.2,477.0" fill="none" stroke="#141414" stroke-width="1.0" />
<polyline points="203.8,475.4 203.7,476.6" fill="none" stroke="#141414" stroke-width="1.0" />
<polyline points="201.5,474.8 201.2,476.0" fill="none" stroke="#141414" stroke-width="1.0" />
<polyline points="199.2,473.9 198.8,475.0" fill="none" stroke="#141414" stroke-width="1.0" />
<polyline points="197.1,472.6 196.5,473.7" fill="none" stroke="#141414" stroke-width="1.0" />
<polyline points="195.0,471.1 194.3,472.1" fill="none" stroke="#141414" stroke-width="1.0" />
<polyline points="193.1,469.4 192.2,470.2" fill="none" stroke="#141414" stroke-width="1.0" />
<polyline points="191.4,467.5 190.5,468.2" fill="none" stroke="#141414" stroke-width="1.0" />
<polyline points="190.0,465.3 188.9,465.9" fill="none" stroke="#141414" stroke-width="1.0" />
<polyline points="188.8,463.1 187.7,463.5" fill="none" stroke="#141414" stroke-width="1.0" />
<polyline points="188.0,460.8 186.8,461.1" fill="none" stroke="#141414" stroke-width="1.0" />
<polyline points="187.4,458.5 186.2,458.6" fill="none" stroke="#141414" stroke-width="1.0" />
<polyline points="187.2,456.2 186.0,456.1" fill="none" stroke="#141414" stroke-width="1.0" />
<polyline points="187.3,453.9 186.2,453.7" fill="none" stroke="#141414" stroke-width="1.0" />
<polyline points="187.8,451.8 186.6,451.4" fill="none" stroke="#141414" stroke-width="1.0" />
<polyline points="188.5,449.8 187.5,449.2" fill="none" stroke="#141414" stroke-width="1.0" />
<polyline points="189.6,448.1 188.6,447.3" fill="none" stroke="#141414" stroke-width="1.0" />
<polyline points="190.9,446.5 190.1,445.7" fill="none" stroke="#141414" stroke-width="1.0" />
<polyline points="192.5,445.2 191.8,444.3" fill="none" stroke="#141414" stroke-width="1.0" />
<polyline points="194.3,444.2 193.7,443.2" fill="none" stroke="#141414" stroke-width="1.0" />
<polyline points="196.3,443.6 195.9,442.4" fill="none" stroke="#141414" stroke-width="1.0" />
<polyline points="198.4,443.2 198.2,442.0" fill="none" stroke="#141414" stroke-width="1.0" />
<polyline points="200.7,443.2 200.6,442.0" fill="none" stroke="#141414" stroke-width="1.0" />
<polyline points="203.0,443.5 203.1,442.3" fill="none" stroke="#141414" stroke-width="1.0" />
<polyline points="205.3,444.1 205.6,442.9" fill="none" stroke="#141414" stroke-width="1.0" />
<polyline points="207.6,445.0 208.0,443.9" fill="none" stroke="#141414" stroke-width="1.0" />
<polyline points="209.7,446.3 210.3,445.2" fill="none" stroke="#141414" stroke-width="1.0" />
<polyline points="211.8,447.8 212.5,446.8" fill="none" stroke="#141414" stroke-width="1.0" />
<polyline points="213.7,449.5 214.5,448.7" fill="none" stroke="#141414" stroke-width="1.0" />
<polyline points="215.4,451.5 216.3,450.8" fill="none" stroke="#141414" stroke-width="1.0" />
<polyline points="216.8,453.6 217.9,453.0" fill="none" stroke="#141414" stroke-width="1.0" />
<polyline points="217.9,455.8 219.1,455.4" fill="none" stroke="#141414" stroke-width="1.0" />
<polyline points="218.8,458.1 220.0,457.9" fill="none" stroke="#141414" stroke-width="1.0" />
<polyline points="219.4,460.4 220.6,460.4" fill="none" stroke="#141414" stroke-width="1.0" />
<polyline points="219.6,462.7 220.8,462.9" fill="none" stroke="#141414" stroke-width="1.0" />
<polyline points="219.5,465.0 220.6,465.3" fill="none" stroke="#141414" stroke-width="1.0" />
<polyline points="219.0,467.1 220.2,467.6" fill="none" stroke="#141414" stroke-width="1.0" />
<polyline points="218.3,469.1 219.3,469.7" fill="none" stroke="#141414" stroke-width="1.0" />
<polyline points="217.2,470.9 218.2,471.6" fill="none" stroke="#141414" stroke-width="1.0" />
<ellipse cx="201.6" cy="461.2" rx="18.0" ry="14.3" transform="rotate(46 201.6 461.2)" fill="#1a1a1a" stroke="#141414" stroke-width="1.0" />
<polyline points="214.1,474.1 214.9,475.0" fill="none" stroke="#141414" stroke-width="1.0" />
<polyline points="212.5,475.4 213.2,476.4" fill="none" stroke="#141414" stroke-width="1.0" />
<polyline points="210.7,476.4 211.3,477.5" fill="none" stroke="#141414" stroke-width="1.0" />
<polyline points="208.7,477.1 209.1,478.2" fill="none" stroke="#141414" stroke-width="1.0" />
<polyline points="206.6,477.5 206.8,478.6" fill="none" stroke="#141414" stroke-width="1.0" />
<polyline points="204.3,477.5 204.4,478.7" fill="none" stroke="#141414" stroke-width="1.0" />
<polyline points="202.0,477.2 201.9,478.4" fill="none" stroke="#141414" stroke-width="1.0" />
<polyline points="199.7,476.6 199.4,477.7" fill="none" stroke="#141414" stroke-width="1.0" />
<polyline points="197.4,475.6 197.0,476.7" fill="none" stroke="#141414" stroke-width="1.0" />
<polyline points="195.3,474.4 194.7,475.4" fill="none" stroke="#141414" stroke-width="1.0" />
<polyline points="193.2,472.9 192.5,473.8" fill="none" stroke="#141414" stroke-width="1.0" />
<polyline points="191.3,471.1 190.5,472.0" fill="none" stroke="#141414" stroke-width="1.0" />
<polyline points="189.6,469.2 188.7,469.9" fill="none" stroke="#141414" stroke-width="1.0" />
<polyline points="188.2,467.1 187.1,467.6" fill="none" stroke="#141414" stroke-width="1.0" />
<polyline points="187.0,464.9 185.9,465.3" fill="none" stroke="#141414" stroke-width="1.0" />
<polyline points="186.2,462.6 185.0,462.8" fill="none" stroke="#141414" stroke-width="1.0" />
<polyline points="185.6,460.2 184.4,460.3" fill="none" stroke="#141414" stroke-width="1.0" />
<polyline points="185.4,457.9 184.2,457.8" fill="none" stroke="#141414" stroke-width="1.0" />
<polyline points="185.5,455.7 184.4,455.4" fill="none" stroke="#141414" stroke-width="1.0" />
<polyline points="186.0,453.5 184.8,453.1" fill="none" stroke="#141414" stroke-width="1.0" />
<polyline points="186.7,451.6 185.7,451.0" fill="none" stroke="#141414" stroke-width="1.0" />
<polyline points="187.8,449.8 186.8,449.1" fill="none" stroke="#141414" stroke-width="1.0" />
<polyline points="189.1,448.3 188.3,447.4" fill="none" stroke="#141414" stroke-width="1.0" />
<polyline points="190.7,447.0 190.0,446.0" fill="none" stroke="#141414" stroke-width="1.0" />
<polyline points="192.5,446.0 191.9,444.9" fill="none" stroke="#141414" stroke-width="1.0" />
<polyline points="194.5,445.3 194.1,444.2" fill="none" stroke="#141414" stroke-width="1.0" />
<polyline points="196.6,444.9 196.4,443.8" fill="none" stroke="#141414" stroke-width="1.0" />
<polyline points="198.9,444.9 198.8,443.7" fill="none" stroke="#141414" stroke-width="1.0" />
<polyline points="201.2,445.2 201.3,444.0" fill="none" stroke="#141414" stroke-width="1.0" />
<polyline points="203.5,445.8 203.8,444.7" fill="none" stroke="#141414" stroke-width="1.0" />
<polyline points="205.8,446.8 206.2,445.7" fill="none" stroke="#141414" stroke-width="1.0" />
<polyline points="207.9,448.0 208.5,447.0" fill="none" stroke="#141414" stroke-width="1.0" />
<polyline points="210.0,449.5 210.7,448.6" fill="none" stroke="#141414" stroke-width="1.0" />
<polyline points="211.9,451.3 212.7,450.4" fill="none" stroke="#141414" stroke-width="1.0" />
<polyline points="213.6,453.2 214.5,452.5" fill="none" stroke="#141414" stroke-width="1.0" />
<polyline points="215.0,455.3 216.1,454.8" fill="none" stroke="#141414" stroke-width="1.0" />
<polyline points="216.2,457.5 217.3,457.1" fill="none" stroke="#141414" stroke-width="1.0" />
<polyline points="217.0,459.8 218.2,459.6" fill="none" stroke="#141414" stroke-width="1.0" />
<polyline points="217.6,462.2 218.8,462.1" fill="none" stroke="#141414" stroke-width="1.0" />
<polyline points="217.8,464.5 219.0,464.6" fill="none" stroke="#141414" stroke-width="1.0" />
<polyline points="217.7,466.7 218.8,467.0" fill="none" stroke="#141414" stroke-width="1.0" />
<polyline points="217.2,468.9 218.4,469.3" fill="none" stroke="#141414" stroke-width="1.0" />
<polyline points="216.5,470.8 217.5,471.4" fill="none" stroke="#141414" stroke-width="1.0" />
<polyline points="215.4,472.6 216.4,473.3" fill="none" stroke="#141414" stroke-width="1.0" />
<ellipse cx="201.6" cy="461.2" rx="15.5" ry="12.3" transform="rotate(46 201.6 461.2)" fill="#fff" stroke="#141414" stroke-width="0.8" />
<ellipse cx="201.6" cy="461.2" rx="12.6" ry="10.0" transform="rotate(46 201.6 461.2)" fill="#fff" stroke="#141414" stroke-width="1.6" />
<ellipse cx="201.6" cy="461.2" rx="9.4" ry="7.5" transform="rotate(46 201.6 461.2)" fill="#fff" stroke="#141414" stroke-width="1.0" />
<ellipse cx="198.0" cy="463.5" rx="5.2" ry="2.9" transform="rotate(46.27303002005671 198.0 463.5)" fill="#fff" stroke="#141414" stroke-width="1.1" />
<polygon points="190.1,478.3 201.6,467.3 194.4,459.7 182.9,470.7" fill="#fff" stroke="none" stroke-width="1.0" stroke-linejoin="round" />
<polyline points="190.1,478.3 201.6,467.3" fill="none" stroke="#141414" stroke-width="1.1" />
<polyline points="182.9,470.7 194.4,459.7" fill="none" stroke="#141414" stroke-width="1.1" />
<ellipse cx="186.5" cy="474.5" rx="5.2" ry="2.9" transform="rotate(46.27303002005671 186.5 474.5)" fill="#fff" stroke="#141414" stroke-width="1.1" />
<ellipse cx="186.5" cy="474.5" rx="3.0" ry="2.0" transform="rotate(46 186.5 474.5)" fill="#fff" stroke="#141414" stroke-width="1.6" />
<ellipse cx="200.5" cy="461.5" rx="8.5" ry="6.6" transform="rotate(46 200.5 461.5)" fill="#fff" stroke="#141414" stroke-width="1.1" />
<ellipse cx="201.0" cy="461.0" rx="6.2" ry="3.4" transform="rotate(46.974934010881974 201.0 461.0)" fill="#fff" stroke="#141414" stroke-width="1.1" />
<polygon points="197.7,472.5 205.2,465.5 196.8,456.5 189.3,463.5" fill="#fff" stroke="none" stroke-width="1.0" stroke-linejoin="round" />
<polyline points="197.7,472.5 205.2,465.5" fill="none" stroke="#141414" stroke-width="1.1" />
<polyline points="189.3,463.5 196.8,456.5" fill="none" stroke="#141414" stroke-width="1.1" />
<ellipse cx="193.5" cy="468.0" rx="6.2" ry="3.4" transform="rotate(46.974934010881974 193.5 468.0)" fill="#fff" stroke="#141414" stroke-width="1.1" />
<ellipse cx="194.0" cy="468.0" rx="4.6" ry="2.5" transform="rotate(47.802451519866736 194.0 468.0)" fill="#fff" stroke="#141414" stroke-width="1.1" />
<polygon points="189.6,478.2 197.1,471.4 190.9,464.6 183.4,471.4" fill="#fff" stroke="none" stroke-width="1.0" stroke-linejoin="round" />
<polyline points="189.6,478.2 197.1,471.4" fill="none" stroke="#141414" stroke-width="1.1" />
<polyline points="183.4,471.4 190.9,464.6" fill="none" stroke="#141414" stroke-width="1.1" />
<ellipse cx="186.5" cy="474.8" rx="4.6" ry="2.5" transform="rotate(47.802451519866736 186.5 474.8)" fill="#fff" stroke="#141414" stroke-width="1.1" />
<ellipse cx="186.5" cy="474.8" rx="2.6" ry="1.8" transform="rotate(46 186.5 474.8)" fill="#fff" stroke="#141414" stroke-width="1.5" />
<ellipse cx="233.3" cy="429.0" rx="10.0" ry="7.8" transform="rotate(46 233.3 429.0)" fill="#fff" stroke="#141414" stroke-width="1.1" />
<ellipse cx="234.5" cy="427.9" rx="10.0" ry="7.8" transform="rotate(46 234.5 427.9)" fill="#fff" stroke="#141414" stroke-width="1.2" />
<ellipse cx="234.5" cy="427.9" rx="7.2" ry="5.6" transform="rotate(46 234.5 427.9)" fill="#fff" stroke="#141414" stroke-width="2.6" />
<ellipse cx="234.5" cy="427.9" rx="4.5" ry="3.5" transform="rotate(46 234.5 427.9)" fill="#fff" stroke="#141414" stroke-width="1.0" />
<polyline points="237.4,425.1 231.6,430.7" fill="none" stroke="#141414" stroke-width="0.8" />
<ellipse cx="256.7" cy="539.4" rx="10.6" ry="8.5" transform="rotate(46 256.7 539.4)" fill="#fff" stroke="#141414" stroke-width="1.1" />
<ellipse cx="257.9" cy="538.3" rx="10.6" ry="8.5" transform="rotate(46 257.9 538.3)" fill="#fff" stroke="#141414" stroke-width="1.2" />
<ellipse cx="257.9" cy="538.3" rx="7.6" ry="6.1" transform="rotate(46 257.9 538.3)" fill="#fff" stroke="#141414" stroke-width="2.6" />
<ellipse cx="257.9" cy="538.3" rx="4.8" ry="3.8" transform="rotate(46 257.9 538.3)" fill="#fff" stroke="#141414" stroke-width="1.0" />
<polyline points="261.0,535.4 254.8,541.2" fill="none" stroke="#141414" stroke-width="0.8" />
<ellipse cx="327.0" cy="471.5" rx="4.3" ry="2.4" transform="rotate(46.63657704161671 327.0 471.5)" fill="#fff" stroke="#141414" stroke-width="1.1" />
<polygon points="321.0,483.1 330.0,474.6 324.0,468.4 315.0,476.9" fill="#fff" stroke="none" stroke-width="1.0" stroke-linejoin="round" />
<polyline points="321.0,483.1 330.0,474.6" fill="none" stroke="#141414" stroke-width="1.1" />
<polyline points="315.0,476.9 324.0,468.4" fill="none" stroke="#141414" stroke-width="1.1" />
<ellipse cx="318.0" cy="480.0" rx="4.3" ry="2.4" transform="rotate(46.63657704161671 318.0 480.0)" fill="#fff" stroke="#141414" stroke-width="1.1" />
<ellipse cx="330.5" cy="468.5" rx="3.4" ry="1.9" transform="rotate(48.01278750418334 330.5 468.5)" fill="#fff" stroke="#141414" stroke-width="1.1" />
<polygon points="327.8,475.5 332.8,471.0 328.2,466.0 323.2,470.5" fill="#fff" stroke="none" stroke-width="1.0" stroke-linejoin="round" />
<polyline points="327.8,475.5 332.8,471.0" fill="none" stroke="#141414" stroke-width="1.1" />
<polyline points="323.2,470.5 328.2,466.0" fill="none" stroke="#141414" stroke-width="1.1" />
<ellipse cx="325.5" cy="473.0" rx="3.4" ry="1.9" transform="rotate(48.01278750418334 325.5 473.0)" fill="#fff" stroke="#141414" stroke-width="1.1" />
<ellipse cx="336.0" cy="463.0" rx="2.6" ry="1.4" transform="rotate(45.0 336.0 463.0)" fill="#222" stroke="#141414" stroke-width="1.1" />
<polygon points="331.3,471.3 337.8,464.8 334.2,461.2 327.7,467.7" fill="#222" stroke="none" stroke-width="1.0" stroke-linejoin="round" />
<polyline points="331.3,471.3 337.8,464.8" fill="none" stroke="#141414" stroke-width="1.1" />
<polyline points="327.7,467.7 334.2,461.2" fill="none" stroke="#141414" stroke-width="1.1" />
<ellipse cx="329.5" cy="469.5" rx="2.6" ry="1.4" transform="rotate(45.0 329.5 469.5)" fill="#222" stroke="#141414" stroke-width="1.1" />
<ellipse cx="309.0" cy="488.7" rx="19.0" ry="15.0" transform="rotate(46 309.0 488.7)" fill="#1a1a1a" stroke="#141414" stroke-width="1.0" />
<polyline points="322.2,502.3 323.0,503.2" fill="none" stroke="#141414" stroke-width="1.0" />
<polyline points="320.5,503.7 321.2,504.7" fill="none" stroke="#141414" stroke-width="1.0" />
<polyline points="318.6,504.7 319.2,505.8" fill="none" stroke="#141414" stroke-width="1.0" />
<polyline points="316.5,505.4 316.9,506.6" fill="none" stroke="#141414" stroke-width="1.0" />
<polyline points="314.3,505.8 314.5,507.0" fill="none" stroke="#141414" stroke-width="1.0" />
<polyline points="311.9,505.8 312.0,507.0" fill="none" stroke="#141414" stroke-width="1.0" />
<polyline points="309.5,505.5 309.4,506.7" fill="none" stroke="#141414" stroke-width="1.0" />
<polyline points="307.0,504.8 306.8,506.0" fill="none" stroke="#141414" stroke-width="1.0" />
<polyline points="304.7,503.8 304.2,504.9" fill="none" stroke="#141414" stroke-width="1.0" />
<polyline points="302.3,502.5 301.8,503.6" fill="none" stroke="#141414" stroke-width="1.0" />
<polyline points="300.2,500.9 299.4,501.9" fill="none" stroke="#141414" stroke-width="1.0" />
<polyline points="298.2,499.1 297.3,499.9" fill="none" stroke="#141414" stroke-width="1.0" />
<polyline points="296.4,497.0 295.5,497.7" fill="none" stroke="#141414" stroke-width="1.0" />
<polyline points="294.9,494.8 293.8,495.4" fill="none" stroke="#141414" stroke-width="1.0" />
<polyline points="293.7,492.5 292.6,492.9" fill="none" stroke="#141414" stroke-width="1.0" />
<polyline points="292.8,490.0 291.6,490.3" fill="none" stroke="#141414" stroke-width="1.0" />
<polyline points="292.2,487.6 291.0,487.7" fill="none" stroke="#141414" stroke-width="1.0" />
<polyline points="291.9,485.2 290.7,485.1" fill="none" stroke="#141414" stroke-width="1.0" />
<polyline points="292.0,482.8 290.9,482.5" fill="none" stroke="#141414" stroke-width="1.0" />
<polyline points="292.5,480.6 291.4,480.1" fill="none" stroke="#141414" stroke-width="1.0" />
<polyline points="293.3,478.5 292.2,477.9" fill="none" stroke="#141414" stroke-width="1.0" />
<polyline points="294.4,476.6 293.4,475.9" fill="none" stroke="#141414" stroke-width="1.0" />
<polyline points="295.8,475.0 295.0,474.1" fill="none" stroke="#141414" stroke-width="1.0" />
<polyline points="297.5,473.7 296.8,472.7" fill="none" stroke="#141414" stroke-width="1.0" />
<polyline points="299.4,472.6 298.8,471.6" fill="none" stroke="#141414" stroke-width="1.0" />
<polyline points="301.5,471.9 301.1,470.8" fill="none" stroke="#141414" stroke-width="1.0" />
<polyline points="303.7,471.5 303.5,470.4" fill="none" stroke="#141414" stroke-width="1.0" />
<polyline points="306.1,471.5 306.0,470.3" fill="none" stroke="#141414" stroke-width="1.0" />
<polyline points="308.5,471.8 308.6,470.7" fill="none" stroke="#141414" stroke-width="1.0" />
<polyline points="310.9,472.5 311.2,471.3" fill="none" stroke="#141414" stroke-width="1.0" />
<polyline points="313.3,473.5 313.8,472.4" fill="none" stroke="#141414" stroke-width="1.0" />
<polyline points="315.6,474.8 316.2,473.8" fill="none" stroke="#141414" stroke-width="1.0" />
<polyline points="317.8,476.4 318.5,475.5" fill="none" stroke="#141414" stroke-width="1.0" />
<polyline points="319.8,478.3 320.6,477.4" fill="none" stroke="#141414" stroke-width="1.0" />
<polyline points="321.5,480.3 322.5,479.6" fill="none" stroke="#141414" stroke-width="1.0" />
<polyline points="323.1,482.5 324.1,482.0" fill="none" stroke="#141414" stroke-width="1.0" />
<polyline points="324.3,484.9 325.4,484.5" fill="none" stroke="#141414" stroke-width="1.0" />
<polyline points="325.2,487.3 326.4,487.1" fill="none" stroke="#141414" stroke-width="1.0" />
<polyline points="325.8,489.7 327.0,489.7" fill="none" stroke="#141414" stroke-width="1.0" />
<polyline points="326.0,492.2 327.2,492.3" fill="none" stroke="#141414" stroke-width="1.0" />
<polyline points="325.9,494.5 327.1,494.8" fill="none" stroke="#141414" stroke-width="1.0" />
<polyline points="325.5,496.8 326.6,497.2" fill="none" stroke="#141414" stroke-width="1.0" />
<polyline points="324.7,498.8 325.7,499.4" fill="none" stroke="#141414" stroke-width="1.0" />
<polyline points="323.6,500.7 324.5,501.5" fill="none" stroke="#141414" stroke-width="1.0" />
<ellipse cx="307.4" cy="490.2" rx="19.0" ry="15.0" transform="rotate(46 307.4 490.2)" fill="#1a1a1a" stroke="#141414" stroke-width="1.0" />
<polyline points="320.6,503.9 321.4,504.7" fill="none" stroke="#141414" stroke-width="1.0" />
<polyline points="318.9,505.2 319.6,506.2" fill="none" stroke="#141414" stroke-width="1.0" />
<polyline points="317.0,506.2 317.6,507.3" fill="none" stroke="#141414" stroke-width="1.0" />
<polyline points="314.9,507.0 315.3,508.1" fill="none" stroke="#141414" stroke-width="1.0" />
<polyline points="312.7,507.3 312.9,508.5" fill="none" stroke="#141414" stroke-width="1.0" />
<polyline points="310.3,507.4 310.4,508.6" fill="none" stroke="#141414" stroke-width="1.0" />
<polyline points="307.9,507.0 307.8,508.2" fill="none" stroke="#141414" stroke-width="1.0" />
<polyline points="305.5,506.4 305.2,507.5" fill="none" stroke="#141414" stroke-width="1.0" />
<polyline points="303.1,505.4 302.6,506.5" fill="none" stroke="#141414" stroke-width="1.0" />
<polyline points="300.8,504.0 300.2,505.1" fill="none" stroke="#141414" stroke-width="1.0" />
<polyline points="298.6,502.5 297.9,503.4" fill="none" stroke="#141414" stroke-width="1.0" />
<polyline points="296.6,500.6 295.7,501.5" fill="none" stroke="#141414" stroke-width="1.0" />
<polyline points="294.8,498.6 293.9,499.3" fill="none" stroke="#141414" stroke-width="1.0" />
<polyline points="293.3,496.3 292.3,496.9" fill="none" stroke="#141414" stroke-width="1.0" />
<polyline points="292.1,494.0 291.0,494.4" fill="none" stroke="#141414" stroke-width="1.0" />
<polyline points="291.2,491.6 290.0,491.8" fill="none" stroke="#141414" stroke-width="1.0" />
<polyline points="290.6,489.1 289.4,489.2" fill="none" stroke="#141414" stroke-width="1.0" />
<polyline points="290.4,486.7 289.2,486.6" fill="none" stroke="#141414" stroke-width="1.0" />
<polyline points="290.5,484.3 289.3,484.1" fill="none" stroke="#141414" stroke-width="1.0" />
<polyline points="290.9,482.1 289.8,481.7" fill="none" stroke="#141414" stroke-width="1.0" />
<polyline points="291.7,480.0 290.7,479.4" fill="none" stroke="#141414" stroke-width="1.0" />
<polyline points="292.8,478.2 291.9,477.4" fill="none" stroke="#141414" stroke-width="1.0" />
<polyline points="294.2,476.5 293.4,475.7" fill="none" stroke="#141414" stroke-width="1.0" />
<polyline points="295.9,475.2 295.2,474.2" fill="none" stroke="#141414" stroke-width="1.0" />
<polyline points="297.8,474.2 297.2,473.1" fill="none" stroke="#141414" stroke-width="1.0" />
<polyline points="299.9,473.4 299.5,472.3" fill="none" stroke="#141414" stroke-width="1.0" />
<polyline points="302.1,473.1 301.9,471.9" fill="none" stroke="#141414" stroke-width="1.0" />
<polyline points="304.5,473.0 304.4,471.8" fill="none" stroke="#141414" stroke-width="1.0" />
<polyline points="306.9,473.4 307.0,472.2" fill="none" stroke="#141414" stroke-width="1.0" />
<polyline points="309.3,474.0 309.6,472.9" fill="none" stroke="#141414" stroke-width="1.0" />
<polyline points="311.7,475.0 312.2,473.9" fill="none" stroke="#141414" stroke-width="1.0" />
<polyline points="314.0,476.4 314.6,475.3" fill="none" stroke="#141414" stroke-width="1.0" />
<polyline points="316.2,477.9 316.9,477.0" fill="none" stroke="#141414" stroke-width="1.0" />
<polyline points="318.2,479.8 319.1,478.9" fill="none" stroke="#141414" stroke-width="1.0" />
<polyline points="320.0,481.8 320.9,481.1" fill="none" stroke="#141414" stroke-width="1.0" />
<polyline points="321.5,484.1 322.5,483.5" fill="none" stroke="#141414" stroke-width="1.0" />
<polyline points="322.7,486.4 323.8,486.0" fill="none" stroke="#141414" stroke-width="1.0" />
<polyline points="323.6,488.8 324.8,488.6" fill="none" stroke="#141414" stroke-width="1.0" />
<polyline points="324.2,491.3 325.4,491.2" fill="none" stroke="#141414" stroke-width="1.0" />
<polyline points="324.4,493.7 325.6,493.8" fill="none" stroke="#141414" stroke-width="1.0" />
<polyline points="324.3,496.1 325.5,496.3" fill="none" stroke="#141414" stroke-width="1.0" />
<polyline points="323.9,498.3 325.0,498.7" fill="none" stroke="#141414" stroke-width="1.0" />
<polyline points="323.1,500.4 324.1,501.0" fill="none" stroke="#141414" stroke-width="1.0" />
<polyline points="322.0,502.2 322.9,503.0" fill="none" stroke="#141414" stroke-width="1.0" />
<ellipse cx="307.4" cy="490.2" rx="16.3" ry="12.9" transform="rotate(46 307.4 490.2)" fill="#fff" stroke="#141414" stroke-width="0.8" />
<ellipse cx="307.4" cy="490.2" rx="14.1" ry="11.1" transform="rotate(46 307.4 490.2)" fill="#fff" stroke="#141414" stroke-width="1.6" />
<ellipse cx="307.4" cy="490.2" rx="9.9" ry="7.8" transform="rotate(46 307.4 490.2)" fill="#fff" stroke="#141414" stroke-width="1.0" />
<polyline points="314.2,501.8 310.5,495.5" fill="none" stroke="#141414" stroke-width="1.6" />
<polyline points="301.9,499.7 304.9,494.5" fill="none" stroke="#141414" stroke-width="1.6" />
<polyline points="295.1,488.0 301.8,489.2" fill="none" stroke="#141414" stroke-width="1.6" />
<polyline points="300.7,478.5 304.3,484.9" fill="none" stroke="#141414" stroke-width="1.6" />
<polyline points="313.0,480.8 310.0,485.9" fill="none" stroke="#141414" stroke-width="1.6" />
<polyline points="319.7,492.5 313.0,491.3" fill="none" stroke="#141414" stroke-width="1.6" />
<ellipse cx="307.4" cy="490.2" rx="6.5" ry="5.2" transform="rotate(46 307.4 490.2)" fill="#fff" stroke="#141414" stroke-width="1.2" />
<ellipse cx="311.0" cy="487.0" rx="3.6" ry="2.0" transform="rotate(47.72631099390626 311.0 487.0)" fill="#fff" stroke="#141414" stroke-width="1.1" />
<polygon points="307.9,494.7 313.4,489.7 308.6,484.3 303.1,489.3" fill="#fff" stroke="none" stroke-width="1.0" stroke-linejoin="round" />
<polyline points="307.9,494.7 313.4,489.7" fill="none" stroke="#141414" stroke-width="1.1" />
<polyline points="303.1,489.3 308.6,484.3" fill="none" stroke="#141414" stroke-width="1.1" />
<ellipse cx="305.5" cy="492.0" rx="3.6" ry="2.0" transform="rotate(47.72631099390626 305.5 492.0)" fill="#fff" stroke="#141414" stroke-width="1.1" />
<polygon points="392.5,386.5 396.5,384.5 400.5,388.0 409.0,389.5 412.5,393.0 411.5,397.5 412.0,406.0 409.5,410.0 405.0,410.5 397.0,412.5 392.0,410.0 391.5,405.5 389.5,397.0 390.0,390.0" fill="#fff" stroke="#141414" stroke-width="1.1" stroke-linejoin="round" />
<ellipse cx="401.0" cy="399.0" rx="6.6" ry="5.4" transform="rotate(46 401.0 399.0)" fill="#fff" stroke="#141414" stroke-width="1.1" />
<ellipse cx="401.0" cy="399.0" rx="5.2" ry="4.2" transform="rotate(46 401.0 399.0)" fill="#fff" stroke="#141414" stroke-width="0.8" />
<circle cx="394" cy="389.5" r="1.3" fill="#fff" stroke="#141414" stroke-width="0.8"/>
<circle cx="409.5" cy="393" r="1.3" fill="#fff" stroke="#141414" stroke-width="0.8"/>
<circle cx="407.5" cy="407.5" r="1.3" fill="#fff" stroke="#141414" stroke-width="0.8"/>
<circle cx="394.5" cy="408" r="1.3" fill="#fff" stroke="#141414" stroke-width="0.8"/>
<circle cx="374.5" cy="405.5" r="1.9" fill="#222"/>
<polyline points="375.5,404.5 378.1,402.3" fill="none" stroke="#141414" stroke-width="1.8" />
<circle cx="373.5" cy="421.5" r="1.9" fill="#222"/>
<polyline points="374.5,420.5 377.1,418.3" fill="none" stroke="#141414" stroke-width="1.8" />
<circle cx="388.5" cy="413" r="1.9" fill="#222"/>
<polyline points="389.5,412.0 392.1,409.8" fill="none" stroke="#141414" stroke-width="1.8" />
<circle cx="387.5" cy="425" r="1.9" fill="#222"/>
<polyline points="388.5,424.0 391.1,421.8" fill="none" stroke="#141414" stroke-width="1.8" />
<ellipse cx="425.3" cy="375.6" rx="10.5" ry="8.4" transform="rotate(46 425.3 375.6)" fill="#fff" stroke="#141414" stroke-width="1.1" />
<ellipse cx="426.5" cy="374.5" rx="10.5" ry="8.4" transform="rotate(46 426.5 374.5)" fill="#fff" stroke="#141414" stroke-width="1.2" />
<ellipse cx="426.5" cy="374.5" rx="7.6" ry="6.0" transform="rotate(46 426.5 374.5)" fill="#fff" stroke="#141414" stroke-width="2.6" />
<ellipse cx="426.5" cy="374.5" rx="4.7" ry="3.8" transform="rotate(46 426.5 374.5)" fill="#fff" stroke="#141414" stroke-width="1.0" />
<polyline points="429.5,371.6 423.5,377.4" fill="none" stroke="#141414" stroke-width="0.8" />
<ellipse cx="450.0" cy="351.0" rx="4.6" ry="3.4" transform="rotate(46 450.0 351.0)" fill="none" stroke="#141414" stroke-width="1.6" />
<ellipse cx="464.5" cy="337.5" rx="4.6" ry="3.4" transform="rotate(46 464.5 337.5)" fill="none" stroke="#141414" stroke-width="1.6" />
<polyline points="467.5,341.0 470.0,338.5" fill="none" stroke="#141414" stroke-width="1.3" />
<ellipse cx="302.8" cy="211.0" rx="6.8" ry="5.6" transform="rotate(46 302.8 211.0)" fill="#fff" stroke="#141414" stroke-width="1.1" />
<ellipse cx="302.8" cy="211.0" rx="5.0" ry="4.0" transform="rotate(46 302.8 211.0)" fill="#fff" stroke="#141414" stroke-width="1.0" />
<ellipse cx="291.8" cy="612.1" rx="11.0" ry="8.8" transform="rotate(46 291.8 612.1)" fill="#fff" stroke="#141414" stroke-width="1.1" />
<ellipse cx="293.0" cy="611.0" rx="11.0" ry="8.8" transform="rotate(46 293.0 611.0)" fill="#fff" stroke="#141414" stroke-width="1.2" />
<ellipse cx="293.0" cy="611.0" rx="7.9" ry="6.3" transform="rotate(46 293.0 611.0)" fill="#fff" stroke="#141414" stroke-width="2.6" />
<ellipse cx="293.0" cy="611.0" rx="5.0" ry="4.0" transform="rotate(46 293.0 611.0)" fill="#fff" stroke="#141414" stroke-width="1.0" />
<polyline points="296.2,607.9 289.8,614.1" fill="none" stroke="#141414" stroke-width="0.8" />
<ellipse cx="311.0" cy="595.5" rx="4.8" ry="3.8" transform="rotate(46 311.0 595.5)" fill="none" stroke="#141414" stroke-width="1.7" />
<ellipse cx="326.8" cy="578.3" rx="9.6" ry="7.8" transform="rotate(46 326.8 578.3)" fill="#fff" stroke="#141414" stroke-width="1.3" />
<ellipse cx="325.0" cy="580.0" rx="9.6" ry="7.8" transform="rotate(46 325.0 580.0)" fill="#fff" stroke="#141414" stroke-width="1.3" />
<ellipse cx="324.5" cy="580.5" rx="7.0" ry="5.7" transform="rotate(46 324.5 580.5)" fill="#333" stroke="#141414" stroke-width="1.8" />
<ellipse cx="324.5" cy="580.5" rx="3.8" ry="3.0" transform="rotate(46 324.5 580.5)" fill="#ddd" stroke="#141414" stroke-width="0.8" />
<ellipse cx="344.5" cy="564.0" rx="5.2" ry="4.0" transform="rotate(46 344.5 564.0)" fill="none" stroke="#141414" stroke-width="1.6" />
<ellipse cx="358.0" cy="551.0" rx="5.2" ry="4.0" transform="rotate(46 358.0 551.0)" fill="none" stroke="#141414" stroke-width="1.6" />
<ellipse cx="376.4" cy="531.1" rx="12.0" ry="9.6" transform="rotate(46 376.4 531.1)" fill="#1a1a1a" stroke="#141414" stroke-width="1" />
<ellipse cx="375.0" cy="532.5" rx="12.0" ry="9.6" transform="rotate(46 375.0 532.5)" fill="#1a1a1a" stroke="#141414" stroke-width="1" />
<polyline points="383.3,541.1 384.2,542.0" fill="none" stroke="#141414" stroke-width="1.0" />
<polyline points="381.7,542.3 382.4,543.3" fill="none" stroke="#141414" stroke-width="1.0" />
<polyline points="379.8,543.1 380.2,544.2" fill="none" stroke="#141414" stroke-width="1.0" />
<polyline points="377.7,543.4 377.9,544.6" fill="none" stroke="#141414" stroke-width="1.0" />
<polyline points="375.4,543.2 375.4,544.4" fill="none" stroke="#141414" stroke-width="1.0" />
<polyline points="373.2,542.6 372.9,543.7" fill="none" stroke="#141414" stroke-width="1.0" />
<polyline points="371.0,541.5 370.4,542.6" fill="none" stroke="#141414" stroke-width="1.0" />
<polyline points="369.0,540.0 368.2,541.0" fill="none" stroke="#141414" stroke-width="1.0" />
<polyline points="367.3,538.2 366.3,539.0" fill="none" stroke="#141414" stroke-width="1.0" />
<polyline points="365.9,536.2 364.8,536.7" fill="none" stroke="#141414" stroke-width="1.0" />
<polyline points="364.9,534.0 363.7,534.2" fill="none" stroke="#141414" stroke-width="1.0" />
<polyline points="364.3,531.7 363.1,531.7" fill="none" stroke="#141414" stroke-width="1.0" />
<polyline points="364.2,529.4 363.0,529.2" fill="none" stroke="#141414" stroke-width="1.0" />
<polyline points="364.6,527.3 363.5,526.9" fill="none" stroke="#141414" stroke-width="1.0" />
<polyline points="365.4,525.4 364.4,524.8" fill="none" stroke="#141414" stroke-width="1.0" />
<polyline points="366.7,523.9 365.8,523.0" fill="none" stroke="#141414" stroke-width="1.0" />
<polyline points="368.3,522.7 367.6,521.7" fill="none" stroke="#141414" stroke-width="1.0" />
<polyline points="370.2,521.9 369.8,520.8" fill="none" stroke="#141414" stroke-width="1.0" />
<polyline points="372.3,521.6 372.1,520.4" fill="none" stroke="#141414" stroke-width="1.0" />
<polyline points="374.6,521.8 374.6,520.6" fill="none" stroke="#141414" stroke-width="1.0" />
<polyline points="376.8,522.4 377.1,521.3" fill="none" stroke="#141414" stroke-width="1.0" />
<polyline points="379.0,523.5 379.6,522.4" fill="none" stroke="#141414" stroke-width="1.0" />
<polyline points="381.0,525.0 381.8,524.0" fill="none" stroke="#141414" stroke-width="1.0" />
<polyline points="382.7,526.8 383.7,526.0" fill="none" stroke="#141414" stroke-width="1.0" />
<polyline points="384.1,528.8 385.2,528.3" fill="none" stroke="#141414" stroke-width="1.0" />
<polyline points="385.1,531.0 386.3,530.8" fill="none" stroke="#141414" stroke-width="1.0" />
<polyline points="385.7,533.3 386.9,533.3" fill="none" stroke="#141414" stroke-width="1.0" />
<polyline points="385.8,535.6 387.0,535.8" fill="none" stroke="#141414" stroke-width="1.0" />
<polyline points="385.4,537.7 386.5,538.1" fill="none" stroke="#141414" stroke-width="1.0" />
<polyline points="384.6,539.6 385.6,540.2" fill="none" stroke="#141414" stroke-width="1.0" />
<ellipse cx="375.0" cy="532.5" rx="9.6" ry="7.6" transform="rotate(46 375.0 532.5)" fill="#fff" stroke="#141414" stroke-width="1" />
<polyline points="380.3,540.1 376.7,534.9" fill="none" stroke="#141414" stroke-width="1.3" />
<polyline points="372.0,539.5 374.0,534.8" fill="none" stroke="#141414" stroke-width="1.3" />
<polyline points="366.7,531.8 372.3,532.3" fill="none" stroke="#141414" stroke-width="1.3" />
<polyline points="369.7,524.8 373.3,530.0" fill="none" stroke="#141414" stroke-width="1.3" />
<polyline points="378.1,525.5 376.0,530.3" fill="none" stroke="#141414" stroke-width="1.3" />
<polyline points="383.3,533.2 377.7,532.7" fill="none" stroke="#141414" stroke-width="1.3" />
<ellipse cx="375.0" cy="532.5" rx="3.6" ry="2.9" transform="rotate(46 375.0 532.5)" fill="#fff" stroke="#141414" stroke-width="1.1" />
<ellipse cx="390.0" cy="519.0" rx="5.4" ry="4.3" transform="rotate(46 390.0 519.0)" fill="#fff" stroke="#141414" stroke-width="2.4" />
<ellipse cx="433.8" cy="475.7" rx="3.3" ry="1.8" transform="rotate(45.0 433.8 475.7)" fill="#fff" stroke="#141414" stroke-width="1.1" />
<polygon points="404.2,509.9 436.1,478.0 431.5,473.4 399.6,505.3" fill="#fff" stroke="none" stroke-width="1.0" stroke-linejoin="round" />
<polyline points="404.2,509.9 436.1,478.0" fill="none" stroke="#141414" stroke-width="1.1" />
<polyline points="399.6,505.3 431.5,473.4" fill="none" stroke="#141414" stroke-width="1.1" />
<ellipse cx="421.4" cy="488.1" rx="3.4" ry="1.9" transform="rotate(45.0 421.4 488.1)" fill="#1c1c1c" stroke="#141414" stroke-width="1.1" />
<polygon points="419.6,494.7 423.8,490.5 419.0,485.7 414.8,489.9" fill="#1c1c1c" stroke="none" stroke-width="1.0" stroke-linejoin="round" />
<polyline points="419.6,494.7 423.8,490.5" fill="none" stroke="#141414" stroke-width="1.1" />
<polyline points="414.8,489.9 419.0,485.7" fill="none" stroke="#141414" stroke-width="1.1" />
<ellipse cx="429.0" cy="480.5" rx="3.4" ry="1.6" transform="rotate(46 429.0 480.5)" fill="#fff" stroke="#141414" stroke-width="0.9" />
<ellipse cx="431.5" cy="478.0" rx="3.4" ry="1.6" transform="rotate(46 431.5 478.0)" fill="#fff" stroke="#141414" stroke-width="0.9" />
<ellipse cx="434.0" cy="475.5" rx="3.4" ry="1.6" transform="rotate(46 434.0 475.5)" fill="#fff" stroke="#141414" stroke-width="0.9" />
<ellipse cx="443.0" cy="466.5" rx="4.4" ry="2.4" transform="rotate(45.0 443.0 466.5)" fill="#1c1c1c" stroke="#141414" stroke-width="1.1" />
<polygon points="437.1,478.6 446.1,469.6 439.9,463.4 430.9,472.4" fill="#1c1c1c" stroke="none" stroke-width="1.0" stroke-linejoin="round" />
<polyline points="437.1,478.6 446.1,469.6" fill="none" stroke="#141414" stroke-width="1.1" />
<polyline points="430.9,472.4 439.9,463.4" fill="none" stroke="#141414" stroke-width="1.1" />
<ellipse cx="449.5" cy="460.7" rx="6.6" ry="3.6" transform="rotate(45.0 449.5 460.7)" fill="#1c1c1c" stroke="#141414" stroke-width="1.1" />
<polygon points="447.7,471.9 454.2,465.4 444.8,456.0 438.3,462.5" fill="#1c1c1c" stroke="none" stroke-width="1.0" stroke-linejoin="round" />
<polyline points="447.7,471.9 454.2,465.4" fill="none" stroke="#141414" stroke-width="1.1" />
<polyline points="438.3,462.5 444.8,456.0" fill="none" stroke="#141414" stroke-width="1.1" />
<ellipse cx="443.2" cy="467.0" rx="6.6" ry="4.0" transform="rotate(46 443.2 467.0)" fill="#1c1c1c" stroke="#141414" stroke-width="1.0" />
<path d="M440.5,462.5 A6.6,4 46 0 1 447.5,469.2" fill="none" stroke="#fff" stroke-width="0.8" stroke-linejoin="round" stroke-linecap="round" />
<ellipse cx="455.0" cy="455.2" rx="4.4" ry="2.4" transform="rotate(45.0 455.0 455.2)" fill="#fff" stroke="#141414" stroke-width="1.1" />
<polygon points="452.6,463.8 458.1,458.3 451.9,452.1 446.4,457.6" fill="#fff" stroke="none" stroke-width="1.0" stroke-linejoin="round" />
<polyline points="452.6,463.8 458.1,458.3" fill="none" stroke="#141414" stroke-width="1.1" />
<polyline points="446.4,457.6 451.9,452.1" fill="none" stroke="#141414" stroke-width="1.1" />
<ellipse cx="460.0" cy="450.2" rx="5.2" ry="2.9" transform="rotate(45.0 460.0 450.2)" fill="#1c1c1c" stroke="#141414" stroke-width="1.1" />
<polygon points="458.2,459.4 463.7,453.9 456.3,446.5 450.8,452.0" fill="#1c1c1c" stroke="none" stroke-width="1.0" stroke-linejoin="round" />
<polyline points="458.2,459.4 463.7,453.9" fill="none" stroke="#141414" stroke-width="1.1" />
<polyline points="450.8,452.0 456.3,446.5" fill="none" stroke="#141414" stroke-width="1.1" />
<ellipse cx="454.8" cy="455.4" rx="5.2" ry="3.0" transform="rotate(46 454.8 455.4)" fill="#1c1c1c" stroke="#141414" stroke-width="1.0" />
<ellipse cx="455.2" cy="455.0" rx="2.6" ry="1.4" transform="rotate(46 455.2 455.0)" fill="#fff" stroke="#141414" stroke-width="0.5" />
<ellipse cx="463.0" cy="447.5" rx="3.0" ry="1.7" transform="rotate(47.563770211465105 463.0 447.5)" fill="#fff" stroke="#141414" stroke-width="1.1" />
<polygon points="461.5,452.9 465.0,449.7 461.0,445.3 457.5,448.5" fill="#fff" stroke="none" stroke-width="1.0" stroke-linejoin="round" />
<polyline points="461.5,452.9 465.0,449.7" fill="none" stroke="#141414" stroke-width="1.1" />
<polyline points="457.5,448.5 461.0,445.3" fill="none" stroke="#141414" stroke-width="1.1" />
<ellipse cx="401.9" cy="507.6" rx="3.4" ry="2.4" transform="rotate(46 401.9 507.6)" fill="#fff" stroke="#141414" stroke-width="2.0" />
<path d="M470.6,429.6 C471.3,428.0 471.9,426.9 474.9,426.9 C477.9,426.9 482.4,428.2 487.0,429.5 C491.6,430.8 496.2,432.0 500.1,433.8 C504.0,435.6 505.8,437.1 508.0,439.5 C510.2,441.9 511.2,444.0 512.3,447.0 C513.4,450.0 514.1,453.0 514.0,455.8 C513.9,458.6 512.9,460.7 511.5,462.5 C510.1,464.3 509.3,464.8 506.5,465.6 C503.7,466.4 500.1,467.4 496.2,466.6 C492.3,465.8 488.7,463.7 485.5,461.1 C482.3,458.5 480.6,455.8 478.5,452.5 C476.4,449.2 475.6,446.1 474.2,443.0 C472.8,439.9 471.7,438.0 471.0,435.5 C470.3,433.0 469.9,431.2 470.6,429.6 Z" fill="#fff" stroke="#141414" stroke-width="4.2" stroke-linejoin="round" stroke-linecap="round" />
<path d="M470.6,429.6 C471.3,428.0 471.9,426.9 474.9,426.9 C477.9,426.9 482.4,428.2 487.0,429.5 C491.6,430.8 496.2,432.0 500.1,433.8 C504.0,435.6 505.8,437.1 508.0,439.5 C510.2,441.9 511.2,444.0 512.3,447.0 C513.4,450.0 514.1,453.0 514.0,455.8 C513.9,458.6 512.9,460.7 511.5,462.5 C510.1,464.3 509.3,464.8 506.5,465.6 C503.7,466.4 500.1,467.4 496.2,466.6 C492.3,465.8 488.7,463.7 485.5,461.1 C482.3,458.5 480.6,455.8 478.5,452.5 C476.4,449.2 475.6,446.1 474.2,443.0 C472.8,439.9 471.7,438.0 471.0,435.5 C470.3,433.0 469.9,431.2 470.6,429.6 Z" fill="none" stroke="#fff" stroke-width="1.0" stroke-linejoin="round" stroke-linecap="round" />
<path d="M470.6,429.6 C471.3,428.0 471.9,426.9 474.9,426.9 C477.9,426.9 482.4,428.2 487.0,429.5 C491.6,430.8 496.2,432.0 500.1,433.8 C504.0,435.6 505.8,437.1 508.0,439.5 C510.2,441.9 511.2,444.0 512.3,447.0 C513.4,450.0 514.1,453.0 514.0,455.8 C513.9,458.6 512.9,460.7 511.5,462.5 C510.1,464.3 509.3,464.8 506.5,465.6 C503.7,466.4 500.1,467.4 496.2,466.6 C492.3,465.8 488.7,463.7 485.5,461.1 C482.3,458.5 480.6,455.8 478.5,452.5 C476.4,449.2 475.6,446.1 474.2,443.0 C472.8,439.9 471.7,438.0 471.0,435.5 C470.3,433.0 469.9,431.2 470.6,429.6 Z" fill="none" stroke="#141414" stroke-width="0.8" stroke-linejoin="round" stroke-linecap="round" stroke-dasharray="1.2 1.2"/>
<ellipse cx="494.2" cy="418.8" rx="9.0" ry="7.2" transform="rotate(46 494.2 418.8)" fill="#fff" stroke="#141414" stroke-width="1.1" />
<ellipse cx="495.4" cy="417.7" rx="9.0" ry="7.2" transform="rotate(46 495.4 417.7)" fill="#fff" stroke="#141414" stroke-width="1.2" />
<ellipse cx="495.4" cy="417.7" rx="6.5" ry="5.2" transform="rotate(46 495.4 417.7)" fill="#fff" stroke="#141414" stroke-width="2.6" />
<ellipse cx="495.4" cy="417.7" rx="4.0" ry="3.2" transform="rotate(46 495.4 417.7)" fill="#fff" stroke="#141414" stroke-width="1.0" />
<polyline points="498.0,415.2 492.8,420.2" fill="none" stroke="#141414" stroke-width="0.8" />
<ellipse cx="458.3" cy="709.9" rx="9.5" ry="7.6" transform="rotate(46 458.3 709.9)" fill="#fff" stroke="#141414" stroke-width="1.1" />
<ellipse cx="459.5" cy="708.8" rx="9.5" ry="7.6" transform="rotate(46 459.5 708.8)" fill="#fff" stroke="#141414" stroke-width="1.2" />
<ellipse cx="459.5" cy="708.8" rx="6.8" ry="5.5" transform="rotate(46 459.5 708.8)" fill="#fff" stroke="#141414" stroke-width="2.6" />
<ellipse cx="459.5" cy="708.8" rx="4.3" ry="3.4" transform="rotate(46 459.5 708.8)" fill="#fff" stroke="#141414" stroke-width="1.0" />
<polyline points="462.2,706.1 456.8,711.4" fill="none" stroke="#141414" stroke-width="0.8" />
<path d="M478.5,665.5 Q484.5,660.5 491.5,666 Q500.5,676 509,700 L516.5,724 Q520,737 508.5,741.5 L494.5,742 Q481.5,740.5 475.5,729.5 Q470,719 472.5,705 L476,671 Q476.5,667 478.5,665.5 Z" fill="none" stroke="#141414" stroke-width="5.4" stroke-linejoin="round" stroke-linecap="round" />
<path d="M478.5,665.5 Q484.5,660.5 491.5,666 Q500.5,676 509,700 L516.5,724 Q520,737 508.5,741.5 L494.5,742 Q481.5,740.5 475.5,729.5 Q470,719 472.5,705 L476,671 Q476.5,667 478.5,665.5 Z" fill="none" stroke="#fff" stroke-width="3.0" stroke-linejoin="round" stroke-linecap="round" />
<path d="M478.5,665.5 Q484.5,660.5 491.5,666 Q500.5,676 509,700 L516.5,724 Q520,737 508.5,741.5 L494.5,742 Q481.5,740.5 475.5,729.5 Q470,719 472.5,705 L476,671 Q476.5,667 478.5,665.5 Z" fill="none" stroke="#141414" stroke-width="0.7" stroke-linejoin="round" stroke-linecap="round" />
<ellipse cx="508.0" cy="660.5" rx="5.8" ry="4.6" transform="rotate(46 508.0 660.5)" fill="#fff" stroke="#141414" stroke-width="1.2" />
<ellipse cx="508.0" cy="660.5" rx="2.9" ry="2.3" transform="rotate(46 508.0 660.5)" fill="#fff" stroke="#141414" stroke-width="1.0" />
<ellipse cx="522.5" cy="645.1" rx="9.8" ry="7.8" transform="rotate(46 522.5 645.1)" fill="#1a1a1a" stroke="#141414" stroke-width="1" />
<polyline points="529.3,652.1 530.4,653.3" fill="none" stroke="#141414" stroke-width="1.4" />
<polyline points="527.3,653.4 528.0,654.9" fill="none" stroke="#141414" stroke-width="1.4" />
<polyline points="524.7,654.0 524.9,655.5" fill="none" stroke="#141414" stroke-width="1.4" />
<polyline points="522.0,653.6 521.7,655.2" fill="none" stroke="#141414" stroke-width="1.4" />
<polyline points="519.3,652.4 518.5,653.8" fill="none" stroke="#141414" stroke-width="1.4" />
<polyline points="516.9,650.5 515.8,651.6" fill="none" stroke="#141414" stroke-width="1.4" />
<polyline points="515.1,648.0 513.6,648.7" fill="none" stroke="#141414" stroke-width="1.4" />
<polyline points="514.0,645.3 512.4,645.5" fill="none" stroke="#141414" stroke-width="1.4" />
<polyline points="513.7,642.6 512.1,642.3" fill="none" stroke="#141414" stroke-width="1.4" />
<polyline points="514.3,640.0 512.9,639.3" fill="none" stroke="#141414" stroke-width="1.4" />
<polyline points="515.7,638.0 514.6,636.9" fill="none" stroke="#141414" stroke-width="1.4" />
<polyline points="517.8,636.7 517.1,635.3" fill="none" stroke="#141414" stroke-width="1.4" />
<polyline points="520.3,636.2 520.1,634.6" fill="none" stroke="#141414" stroke-width="1.4" />
<polyline points="523.1,636.5 523.3,635.0" fill="none" stroke="#141414" stroke-width="1.4" />
<polyline points="525.8,637.7 526.5,636.3" fill="none" stroke="#141414" stroke-width="1.4" />
<polyline points="528.1,639.7 529.3,638.5" fill="none" stroke="#141414" stroke-width="1.4" />
<polyline points="530.0,642.1 531.4,641.4" fill="none" stroke="#141414" stroke-width="1.4" />
<polyline points="531.1,644.8 532.6,644.6" fill="none" stroke="#141414" stroke-width="1.4" />
<polyline points="531.3,647.6 532.9,647.9" fill="none" stroke="#141414" stroke-width="1.4" />
<polyline points="530.7,650.1 532.1,650.8" fill="none" stroke="#141414" stroke-width="1.4" />
<ellipse cx="520.0" cy="647.5" rx="9.8" ry="7.8" transform="rotate(46 520.0 647.5)" fill="#1a1a1a" stroke="#141414" stroke-width="1" />
<polyline points="526.8,654.5 527.9,655.7" fill="none" stroke="#141414" stroke-width="1.4" />
<polyline points="524.7,655.9 525.4,657.3" fill="none" stroke="#141414" stroke-width="1.4" />
<polyline points="522.2,656.4 522.4,658.0" fill="none" stroke="#141414" stroke-width="1.4" />
<polyline points="519.5,656.0 519.2,657.6" fill="none" stroke="#141414" stroke-width="1.4" />
<polyline points="516.8,654.8 516.0,656.2" fill="none" stroke="#141414" stroke-width="1.4" />
<polyline points="514.4,652.9 513.2,654.0" fill="none" stroke="#141414" stroke-width="1.4" />
<polyline points="512.6,650.5 511.1,651.2" fill="none" stroke="#141414" stroke-width="1.4" />
<polyline points="511.5,647.7 509.9,648.0" fill="none" stroke="#141414" stroke-width="1.4" />
<polyline points="511.2,645.0 509.6,644.7" fill="none" stroke="#141414" stroke-width="1.4" />
<polyline points="511.8,642.5 510.4,641.7" fill="none" stroke="#141414" stroke-width="1.4" />
<polyline points="513.2,640.5 512.1,639.3" fill="none" stroke="#141414" stroke-width="1.4" />
<polyline points="515.3,639.1 514.6,637.7" fill="none" stroke="#141414" stroke-width="1.4" />
<polyline points="517.8,638.6 517.6,637.0" fill="none" stroke="#141414" stroke-width="1.4" />
<polyline points="520.5,639.0 520.8,637.4" fill="none" stroke="#141414" stroke-width="1.4" />
<polyline points="523.2,640.2 524.0,638.8" fill="none" stroke="#141414" stroke-width="1.4" />
<polyline points="525.6,642.1 526.8,641.0" fill="none" stroke="#141414" stroke-width="1.4" />
<polyline points="527.4,644.5 528.9,643.8" fill="none" stroke="#141414" stroke-width="1.4" />
<polyline points="528.5,647.3 530.1,647.0" fill="none" stroke="#141414" stroke-width="1.4" />
<polyline points="528.8,650.0 530.4,650.3" fill="none" stroke="#141414" stroke-width="1.4" />
<polyline points="528.2,652.5 529.6,653.3" fill="none" stroke="#141414" stroke-width="1.4" />
<ellipse cx="519.5" cy="648.0" rx="6.0" ry="4.8" transform="rotate(46 519.5 648.0)" fill="#fff" stroke="#141414" stroke-width="1" />
<ellipse cx="519.5" cy="648.0" rx="3.8" ry="3.0" transform="rotate(46 519.5 648.0)" fill="#444" stroke="#141414" stroke-width="1" />
<ellipse cx="560.0" cy="611.5" rx="3.2" ry="1.8" transform="rotate(47.489552921999156 560.0 611.5)" fill="#fff" stroke="#141414" stroke-width="1.1" />
<polygon points="550.2,624.9 562.2,613.9 557.8,609.1 545.8,620.1" fill="#fff" stroke="none" stroke-width="1.0" stroke-linejoin="round" />
<polyline points="550.2,624.9 562.2,613.9" fill="none" stroke="#141414" stroke-width="1.1" />
<polyline points="545.8,620.1 557.8,609.1" fill="none" stroke="#141414" stroke-width="1.1" />
<ellipse cx="548.0" cy="622.5" rx="3.2" ry="1.8" transform="rotate(47.489552921999156 548.0 622.5)" fill="#fff" stroke="#141414" stroke-width="1.1" />
<ellipse cx="553.0" cy="618.0" rx="4.8" ry="2.6" transform="rotate(47.12109639666145 553.0 618.0)" fill="#222" stroke="#141414" stroke-width="1.1" />
<polygon points="549.3,628.0 556.3,621.5 549.7,614.5 542.7,621.0" fill="#222" stroke="none" stroke-width="1.0" stroke-linejoin="round" />
<polyline points="549.3,628.0 556.3,621.5" fill="none" stroke="#141414" stroke-width="1.1" />
<polyline points="542.7,621.0 549.7,614.5" fill="none" stroke="#141414" stroke-width="1.1" />
<ellipse cx="546.0" cy="624.5" rx="4.8" ry="2.6" transform="rotate(47.12109639666145 546.0 624.5)" fill="#222" stroke="#141414" stroke-width="1.1" />
<ellipse cx="542.2" cy="627.9" rx="16.5" ry="13.2" transform="rotate(46 542.2 627.9)" fill="#1a1a1a" stroke="#141414" stroke-width="1.0" />
<polyline points="553.6,639.8 554.5,640.6" fill="none" stroke="#141414" stroke-width="1.0" />
<polyline points="552.2,641.0 552.9,641.9" fill="none" stroke="#141414" stroke-width="1.0" />
<polyline points="550.5,641.9 551.0,643.0" fill="none" stroke="#141414" stroke-width="1.0" />
<polyline points="548.6,642.5 549.0,643.7" fill="none" stroke="#141414" stroke-width="1.0" />
<polyline points="546.7,642.9 546.9,644.0" fill="none" stroke="#141414" stroke-width="1.0" />
<polyline points="544.6,642.9 544.7,644.1" fill="none" stroke="#141414" stroke-width="1.0" />
<polyline points="542.5,642.6 542.4,643.8" fill="none" stroke="#141414" stroke-width="1.0" />
<polyline points="540.4,642.0 540.1,643.2" fill="none" stroke="#141414" stroke-width="1.0" />
<polyline points="538.3,641.2 537.8,642.3" fill="none" stroke="#141414" stroke-width="1.0" />
<polyline points="536.3,640.1 535.7,641.1" fill="none" stroke="#141414" stroke-width="1.0" />
<polyline points="534.4,638.7 533.7,639.6" fill="none" stroke="#141414" stroke-width="1.0" />
<polyline points="532.7,637.1 531.8,637.9" fill="none" stroke="#141414" stroke-width="1.0" />
<polyline points="531.1,635.3 530.2,636.0" fill="none" stroke="#141414" stroke-width="1.0" />
<polyline points="529.8,633.4 528.8,633.9" fill="none" stroke="#141414" stroke-width="1.0" />
<polyline points="528.8,631.3 527.6,631.7" fill="none" stroke="#141414" stroke-width="1.0" />
<polyline points="528.0,629.2 526.8,629.4" fill="none" stroke="#141414" stroke-width="1.0" />
<polyline points="527.5,627.1 526.3,627.1" fill="none" stroke="#141414" stroke-width="1.0" />
<polyline points="527.3,625.0 526.1,624.8" fill="none" stroke="#141414" stroke-width="1.0" />
<polyline points="527.4,622.9 526.2,622.6" fill="none" stroke="#141414" stroke-width="1.0" />
<polyline points="527.8,620.9 526.7,620.5" fill="none" stroke="#141414" stroke-width="1.0" />
<polyline points="528.5,619.1 527.4,618.5" fill="none" stroke="#141414" stroke-width="1.0" />
<polyline points="529.5,617.5 528.5,616.7" fill="none" stroke="#141414" stroke-width="1.0" />
<polyline points="530.7,616.0 529.9,615.2" fill="none" stroke="#141414" stroke-width="1.0" />
<polyline points="532.2,614.9 531.5,613.9" fill="none" stroke="#141414" stroke-width="1.0" />
<polyline points="533.8,613.9 533.3,612.9" fill="none" stroke="#141414" stroke-width="1.0" />
<polyline points="535.7,613.3 535.3,612.2" fill="none" stroke="#141414" stroke-width="1.0" />
<polyline points="537.6,613.0 537.4,611.8" fill="none" stroke="#141414" stroke-width="1.0" />
<polyline points="539.7,612.9 539.6,611.7" fill="none" stroke="#141414" stroke-width="1.0" />
<polyline points="541.8,613.2 541.9,612.0" fill="none" stroke="#141414" stroke-width="1.0" />
<polyline points="543.9,613.8 544.2,612.6" fill="none" stroke="#141414" stroke-width="1.0" />
<polyline points="546.0,614.6 546.5,613.5" fill="none" stroke="#141414" stroke-width="1.0" />
<polyline points="548.0,615.8 548.6,614.7" fill="none" stroke="#141414" stroke-width="1.0" />
<polyline points="549.9,617.2 550.7,616.2" fill="none" stroke="#141414" stroke-width="1.0" />
<polyline points="551.7,618.7 552.5,617.9" fill="none" stroke="#141414" stroke-width="1.0" />
<polyline points="553.2,620.5 554.2,619.8" fill="none" stroke="#141414" stroke-width="1.0" />
<polyline points="554.5,622.5 555.6,621.9" fill="none" stroke="#141414" stroke-width="1.0" />
<polyline points="555.6,624.5 556.7,624.1" fill="none" stroke="#141414" stroke-width="1.0" />
<polyline points="556.3,626.6 557.5,626.4" fill="none" stroke="#141414" stroke-width="1.0" />
<polyline points="556.8,628.8 558.0,628.7" fill="none" stroke="#141414" stroke-width="1.0" />
<polyline points="557.0,630.9 558.2,631.0" fill="none" stroke="#141414" stroke-width="1.0" />
<polyline points="556.9,632.9 558.1,633.2" fill="none" stroke="#141414" stroke-width="1.0" />
<polyline points="556.5,634.9 557.6,635.3" fill="none" stroke="#141414" stroke-width="1.0" />
<polyline points="555.8,636.7 556.9,637.3" fill="none" stroke="#141414" stroke-width="1.0" />
<polyline points="554.9,638.4 555.8,639.1" fill="none" stroke="#141414" stroke-width="1.0" />
<ellipse cx="540.0" cy="630.0" rx="16.5" ry="13.2" transform="rotate(46 540.0 630.0)" fill="#1a1a1a" stroke="#141414" stroke-width="1.0" />
<polyline points="551.5,641.9 552.3,642.7" fill="none" stroke="#141414" stroke-width="1.0" />
<polyline points="550.0,643.1 550.7,644.0" fill="none" stroke="#141414" stroke-width="1.0" />
<polyline points="548.3,644.0 548.9,645.0" fill="none" stroke="#141414" stroke-width="1.0" />
<polyline points="546.5,644.6 546.9,645.7" fill="none" stroke="#141414" stroke-width="1.0" />
<polyline points="544.5,644.9 544.7,646.1" fill="none" stroke="#141414" stroke-width="1.0" />
<polyline points="542.4,645.0 542.5,646.2" fill="none" stroke="#141414" stroke-width="1.0" />
<polyline points="540.3,644.7 540.2,645.9" fill="none" stroke="#141414" stroke-width="1.0" />
<polyline points="538.2,644.1 537.9,645.3" fill="none" stroke="#141414" stroke-width="1.0" />
<polyline points="536.1,643.3 535.7,644.4" fill="none" stroke="#141414" stroke-width="1.0" />
<polyline points="534.1,642.1 533.5,643.2" fill="none" stroke="#141414" stroke-width="1.0" />
<polyline points="532.2,640.8 531.5,641.7" fill="none" stroke="#141414" stroke-width="1.0" />
<polyline points="530.5,639.2 529.6,640.0" fill="none" stroke="#141414" stroke-width="1.0" />
<polyline points="529.0,637.4 528.0,638.1" fill="none" stroke="#141414" stroke-width="1.0" />
<polyline points="527.7,635.5 526.6,636.0" fill="none" stroke="#141414" stroke-width="1.0" />
<polyline points="526.6,633.4 525.5,633.8" fill="none" stroke="#141414" stroke-width="1.0" />
<polyline points="525.8,631.3 524.6,631.5" fill="none" stroke="#141414" stroke-width="1.0" />
<polyline points="525.3,629.2 524.1,629.2" fill="none" stroke="#141414" stroke-width="1.0" />
<polyline points="525.1,627.0 523.9,626.9" fill="none" stroke="#141414" stroke-width="1.0" />
<polyline points="525.2,625.0 524.1,624.7" fill="none" stroke="#141414" stroke-width="1.0" />
<polyline points="525.6,623.0 524.5,622.6" fill="none" stroke="#141414" stroke-width="1.0" />
<polyline points="526.3,621.2 525.3,620.6" fill="none" stroke="#141414" stroke-width="1.0" />
<polyline points="527.3,619.6 526.4,618.8" fill="none" stroke="#141414" stroke-width="1.0" />
<polyline points="528.5,618.1 527.7,617.3" fill="none" stroke="#141414" stroke-width="1.0" />
<polyline points="530.0,616.9 529.3,616.0" fill="none" stroke="#141414" stroke-width="1.0" />
<polyline points="531.7,616.0 531.1,615.0" fill="none" stroke="#141414" stroke-width="1.0" />
<polyline points="533.5,615.4 533.1,614.3" fill="none" stroke="#141414" stroke-width="1.0" />
<polyline points="535.5,615.1 535.3,613.9" fill="none" stroke="#141414" stroke-width="1.0" />
<polyline points="537.6,615.0 537.5,613.8" fill="none" stroke="#141414" stroke-width="1.0" />
<polyline points="539.7,615.3 539.8,614.1" fill="none" stroke="#141414" stroke-width="1.0" />
<polyline points="541.8,615.9 542.1,614.7" fill="none" stroke="#141414" stroke-width="1.0" />
<polyline points="543.9,616.7 544.3,615.6" fill="none" stroke="#141414" stroke-width="1.0" />
<polyline points="545.9,617.9 546.5,616.8" fill="none" stroke="#141414" stroke-width="1.0" />
<polyline points="547.8,619.2 548.5,618.3" fill="none" stroke="#141414" stroke-width="1.0" />
<polyline points="549.5,620.8 550.4,620.0" fill="none" stroke="#141414" stroke-width="1.0" />
<polyline points="551.0,622.6 552.0,621.9" fill="none" stroke="#141414" stroke-width="1.0" />
<polyline points="552.3,624.5 553.4,624.0" fill="none" stroke="#141414" stroke-width="1.0" />
<polyline points="553.4,626.6 554.5,626.2" fill="none" stroke="#141414" stroke-width="1.0" />
<polyline points="554.2,628.7 555.4,628.5" fill="none" stroke="#141414" stroke-width="1.0" />
<polyline points="554.7,630.8 555.9,630.8" fill="none" stroke="#141414" stroke-width="1.0" />
<polyline points="554.9,633.0 556.1,633.1" fill="none" stroke="#141414" stroke-width="1.0" />
<polyline points="554.8,635.0 555.9,635.3" fill="none" stroke="#141414" stroke-width="1.0" />
<polyline points="554.4,637.0 555.5,637.4" fill="none" stroke="#141414" stroke-width="1.0" />
<polyline points="553.7,638.8 554.7,639.4" fill="none" stroke="#141414" stroke-width="1.0" />
<polyline points="552.7,640.4 553.6,641.2" fill="none" stroke="#141414" stroke-width="1.0" />
<ellipse cx="540.0" cy="630.0" rx="14.2" ry="11.4" transform="rotate(46 540.0 630.0)" fill="#fff" stroke="#141414" stroke-width="0.8" />
<ellipse cx="540.0" cy="630.0" rx="10.9" ry="8.7" transform="rotate(46 540.0 630.0)" fill="#fff" stroke="#141414" stroke-width="1.6" />
<ellipse cx="540.0" cy="630.0" rx="8.6" ry="6.9" transform="rotate(46 540.0 630.0)" fill="#fff" stroke="#141414" stroke-width="1.0" />
<ellipse cx="540.0" cy="630.0" rx="7.4" ry="6.0" transform="rotate(46 540.0 630.0)" fill="#fff" stroke="#141414" stroke-width="1.2" />
<ellipse cx="541.0" cy="629.0" rx="5.0" ry="2.8" transform="rotate(47.86240522611175 541.0 629.0)" fill="#fff" stroke="#141414" stroke-width="1.1" />
<polygon points="533.9,642.2 544.4,632.7 537.6,625.3 527.1,634.8" fill="#fff" stroke="none" stroke-width="1.0" stroke-linejoin="round" />
<polyline points="533.9,642.2 544.4,632.7" fill="none" stroke="#141414" stroke-width="1.1" />
<polyline points="527.1,634.8 537.6,625.3" fill="none" stroke="#141414" stroke-width="1.1" />
<ellipse cx="530.5" cy="638.5" rx="5.0" ry="2.8" transform="rotate(47.86240522611175 530.5 638.5)" fill="#fff" stroke="#141414" stroke-width="1.1" />
<ellipse cx="532.0" cy="637.5" rx="3.6" ry="2.0" transform="rotate(48.81407483429035 532.0 637.5)" fill="#fff" stroke="#141414" stroke-width="1.1" />
<polygon points="530.4,643.7 534.4,640.2 529.6,634.8 525.6,638.3" fill="#fff" stroke="none" stroke-width="1.0" stroke-linejoin="round" />
<polyline points="530.4,643.7 534.4,640.2" fill="none" stroke="#141414" stroke-width="1.1" />
<polyline points="525.6,638.3 529.6,634.8" fill="none" stroke="#141414" stroke-width="1.1" />
<ellipse cx="528.0" cy="641.0" rx="3.6" ry="2.0" transform="rotate(48.81407483429035 528.0 641.0)" fill="#fff" stroke="#141414" stroke-width="1.1" />
<ellipse cx="575.9" cy="594.6" rx="19.5" ry="15.6" transform="rotate(46 575.9 594.6)" fill="#fff" stroke="#141414" stroke-width="1.6" />
<polyline points="589.5,608.6 590.3,609.5" fill="none" stroke="#141414" stroke-width="1.0" />
<polyline points="588.0,609.9 588.7,610.8" fill="none" stroke="#141414" stroke-width="1.0" />
<polyline points="586.3,610.9 586.9,611.9" fill="none" stroke="#141414" stroke-width="1.0" />
<polyline points="584.4,611.6 584.9,612.8" fill="none" stroke="#141414" stroke-width="1.0" />
<polyline points="582.4,612.1 582.7,613.3" fill="none" stroke="#141414" stroke-width="1.0" />
<polyline points="580.3,612.3 580.5,613.5" fill="none" stroke="#141414" stroke-width="1.0" />
<polyline points="578.1,612.3 578.1,613.5" fill="none" stroke="#141414" stroke-width="1.0" />
<polyline points="575.9,611.9 575.8,613.1" fill="none" stroke="#141414" stroke-width="1.0" />
<polyline points="573.7,611.3 573.4,612.4" fill="none" stroke="#141414" stroke-width="1.0" />
<polyline points="571.6,610.4 571.1,611.5" fill="none" stroke="#141414" stroke-width="1.0" />
<polyline points="569.5,609.3 568.9,610.3" fill="none" stroke="#141414" stroke-width="1.0" />
<polyline points="567.5,607.9 566.8,608.9" fill="none" stroke="#141414" stroke-width="1.0" />
<polyline points="565.6,606.3 564.8,607.2" fill="none" stroke="#141414" stroke-width="1.0" />
<polyline points="563.9,604.5 563.0,605.3" fill="none" stroke="#141414" stroke-width="1.0" />
<polyline points="562.4,602.6 561.4,603.3" fill="none" stroke="#141414" stroke-width="1.0" />
<polyline points="561.1,600.6 560.0,601.1" fill="none" stroke="#141414" stroke-width="1.0" />
<polyline points="560.0,598.4 558.9,598.8" fill="none" stroke="#141414" stroke-width="1.0" />
<polyline points="559.2,596.2 558.0,596.5" fill="none" stroke="#141414" stroke-width="1.0" />
<polyline points="558.7,594.0 557.5,594.1" fill="none" stroke="#141414" stroke-width="1.0" />
<polyline points="558.4,591.8 557.2,591.7" fill="none" stroke="#141414" stroke-width="1.0" />
<polyline points="558.4,589.6 557.2,589.4" fill="none" stroke="#141414" stroke-width="1.0" />
<polyline points="558.7,587.5 557.5,587.2" fill="none" stroke="#141414" stroke-width="1.0" />
<polyline points="559.2,585.6 558.1,585.1" fill="none" stroke="#141414" stroke-width="1.0" />
<polyline points="560.0,583.7 559.0,583.1" fill="none" stroke="#141414" stroke-width="1.0" />
<polyline points="561.1,582.1 560.2,581.3" fill="none" stroke="#141414" stroke-width="1.0" />
<polyline points="562.4,580.6 561.6,579.7" fill="none" stroke="#141414" stroke-width="1.0" />
<polyline points="563.9,579.3 563.2,578.4" fill="none" stroke="#141414" stroke-width="1.0" />
<polyline points="565.6,578.3 565.0,577.3" fill="none" stroke="#141414" stroke-width="1.0" />
<polyline points="567.5,577.6 567.0,576.5" fill="none" stroke="#141414" stroke-width="1.0" />
<polyline points="569.5,577.1 569.2,575.9" fill="none" stroke="#141414" stroke-width="1.0" />
<polyline points="571.6,576.9 571.4,575.7" fill="none" stroke="#141414" stroke-width="1.0" />
<polyline points="573.7,577.0 573.7,575.8" fill="none" stroke="#141414" stroke-width="1.0" />
<polyline points="576.0,577.3 576.1,576.1" fill="none" stroke="#141414" stroke-width="1.0" />
<polyline points="578.2,577.9 578.4,576.8" fill="none" stroke="#141414" stroke-width="1.0" />
<polyline points="580.3,578.8 580.8,577.7" fill="none" stroke="#141414" stroke-width="1.0" />
<polyline points="582.4,580.0 583.0,578.9" fill="none" stroke="#141414" stroke-width="1.0" />
<polyline points="584.4,581.3 585.1,580.4" fill="none" stroke="#141414" stroke-width="1.0" />
<polyline points="586.3,582.9 587.1,582.0" fill="none" stroke="#141414" stroke-width="1.0" />
<polyline points="588.0,584.7 588.9,583.9" fill="none" stroke="#141414" stroke-width="1.0" />
<polyline points="589.5,586.6 590.5,585.9" fill="none" stroke="#141414" stroke-width="1.0" />
<polyline points="590.8,588.6 591.9,588.1" fill="none" stroke="#141414" stroke-width="1.0" />
<polyline points="591.9,590.8 593.0,590.4" fill="none" stroke="#141414" stroke-width="1.0" />
<polyline points="592.7,593.0 593.8,592.7" fill="none" stroke="#141414" stroke-width="1.0" />
<polyline points="593.2,595.2 594.4,595.1" fill="none" stroke="#141414" stroke-width="1.0" />
<polyline points="593.5,597.4 594.7,597.5" fill="none" stroke="#141414" stroke-width="1.0" />
<polyline points="593.5,599.6 594.7,599.8" fill="none" stroke="#141414" stroke-width="1.0" />
<polyline points="593.2,601.7 594.4,602.0" fill="none" stroke="#141414" stroke-width="1.0" />
<polyline points="592.7,603.7 593.8,604.2" fill="none" stroke="#141414" stroke-width="1.0" />
<polyline points="591.8,605.5 592.9,606.1" fill="none" stroke="#141414" stroke-width="1.0" />
<polyline points="590.8,607.2 591.7,607.9" fill="none" stroke="#141414" stroke-width="1.0" />
<ellipse cx="574.5" cy="596.0" rx="19.5" ry="15.6" transform="rotate(46 574.5 596.0)" fill="#fff" stroke="#141414" stroke-width="2.0" />
<ellipse cx="574.5" cy="596.0" rx="5.2" ry="4.2" transform="rotate(46 574.5 596.0)" fill="#fff" stroke="#141414" stroke-width="1.1" />
<polyline points="570.0,599.0 579.0,593.0" fill="none" stroke="#141414" stroke-width="0.9" />
<polyline points="571.5,593.5 577.5,598.5" fill="none" stroke="#141414" stroke-width="0.9" />
<ellipse cx="593.5" cy="577.5" rx="7.2" ry="5.8" transform="rotate(46 593.5 577.5)" fill="#fff" stroke="#141414" stroke-width="2.6" />
<ellipse cx="593.5" cy="577.5" rx="3.0" ry="2.4" transform="rotate(46 593.5 577.5)" fill="#fff" stroke="#141414" stroke-width="0.8" />
<ellipse cx="605.0" cy="566.0" rx="7.0" ry="5.4" transform="rotate(46 605.0 566.0)" fill="#fff" stroke="#141414" stroke-width="1.2" />
<ellipse cx="605.0" cy="566.0" rx="3.5" ry="2.7" transform="rotate(46 605.0 566.0)" fill="#fff" stroke="#141414" stroke-width="1.0" />
<ellipse cx="614.0" cy="558.0" rx="4.6" ry="3.6" transform="rotate(46 614.0 558.0)" fill="none" stroke="#141414" stroke-width="1.7" />
<ellipse cx="625.5" cy="545.0" rx="10.5" ry="8.6" transform="rotate(46 625.5 545.0)" fill="#222" stroke="#141414" stroke-width="1" />
<polyline points="632.8,552.6 634.5,554.3" fill="none" stroke="#141414" stroke-width="2.6" />
<polyline points="628.7,554.5 629.3,556.9" fill="none" stroke="#141414" stroke-width="2.6" />
<polyline points="623.8,554.0 623.1,556.3" fill="none" stroke="#141414" stroke-width="2.6" />
<polyline points="619.3,551.0 617.6,552.6" fill="none" stroke="#141414" stroke-width="2.6" />
<polyline points="616.5,546.4 614.2,547.0" fill="none" stroke="#141414" stroke-width="2.6" />
<polyline points="616.1,541.4 613.8,540.8" fill="none" stroke="#141414" stroke-width="2.6" />
<polyline points="618.2,537.4 616.5,535.7" fill="none" stroke="#141414" stroke-width="2.6" />
<polyline points="622.3,535.5 621.7,533.1" fill="none" stroke="#141414" stroke-width="2.6" />
<polyline points="627.2,536.0 627.9,533.7" fill="none" stroke="#141414" stroke-width="2.6" />
<polyline points="631.7,539.0 633.4,537.4" fill="none" stroke="#141414" stroke-width="2.6" />
<polyline points="634.5,543.6 636.8,543.0" fill="none" stroke="#141414" stroke-width="2.6" />
<polyline points="634.9,548.6 637.2,549.2" fill="none" stroke="#141414" stroke-width="2.6" />
<circle cx="629.3" cy="550.6" r="1.2" fill="#fff"/>
<circle cx="624.8" cy="550.9" r="1.2" fill="#fff"/>
<circle cx="620.6" cy="547.8" r="1.2" fill="#fff"/>
<circle cx="619.3" cy="543.1" r="1.2" fill="#fff"/>
<circle cx="621.7" cy="539.4" r="1.2" fill="#fff"/>
<circle cx="626.2" cy="539.1" r="1.2" fill="#fff"/>
<circle cx="630.4" cy="542.2" r="1.2" fill="#fff"/>
<circle cx="631.7" cy="546.9" r="1.2" fill="#fff"/>
<ellipse cx="625.5" cy="545.0" rx="2.6" ry="2.1" transform="rotate(46 625.5 545.0)" fill="#fff" stroke="#141414" stroke-width="0.8" />
<ellipse cx="640.5" cy="531.0" rx="9.6" ry="7.6" transform="rotate(46 640.5 531.0)" fill="#fff" stroke="#141414" stroke-width="1.5" />
<ellipse cx="640.5" cy="531.0" rx="7.6" ry="6.0" transform="rotate(46 640.5 531.0)" fill="#fff" stroke="#141414" stroke-width="1.0" />
<polyline points="646.0,538.0 649.5,541.5" fill="none" stroke="#141414" stroke-width="1.6" />
<polygon points="646.0,506.5 654.0,503.0 662.0,505.0 665.5,511.0 667.0,519.0 669.5,524.5 666.5,528.0 661.0,527.0 655.5,529.5 649.0,527.0 644.5,520.0 643.5,512.0" fill="#fff" stroke="#141414" stroke-width="1.2" stroke-linejoin="round" />
<ellipse cx="655.0" cy="517.0" rx="9.2" ry="7.6" transform="rotate(46 655.0 517.0)" fill="#fff" stroke="#141414" stroke-width="2.2" />
<ellipse cx="655.0" cy="517.0" rx="6.6" ry="5.4" transform="rotate(46 655.0 517.0)" fill="#555" stroke="#141414" stroke-width="1.2" />
<ellipse cx="656.3" cy="517.8" rx="4.6" ry="3.6" transform="rotate(46 656.3 517.8)" fill="#ddd" stroke="#141414" stroke-width="0.6" />
<ellipse cx="668.5" cy="503.0" rx="5.4" ry="4.3" transform="rotate(46 668.5 503.0)" fill="#fff" stroke="#141414" stroke-width="1.2" />
<ellipse cx="668.5" cy="503.0" rx="2.7" ry="2.1" transform="rotate(46 668.5 503.0)" fill="#fff" stroke="#141414" stroke-width="1.0" />
<ellipse cx="684.7" cy="488.9" rx="16.5" ry="13.4" transform="rotate(46 684.7 488.9)" fill="#1a1a1a" stroke="#141414" stroke-width="1" />
<polyline points="696.1,500.8 697.0,501.7" fill="none" stroke="#141414" stroke-width="1.0" />
<polyline points="694.5,502.1 695.2,503.1" fill="none" stroke="#141414" stroke-width="1.0" />
<polyline points="692.6,503.1 693.1,504.2" fill="none" stroke="#141414" stroke-width="1.0" />
<polyline points="690.5,503.7 690.9,504.9" fill="none" stroke="#141414" stroke-width="1.0" />
<polyline points="688.3,504.0 688.4,505.2" fill="none" stroke="#141414" stroke-width="1.0" />
<polyline points="685.9,503.9 685.9,505.2" fill="none" stroke="#141414" stroke-width="1.0" />
<polyline points="683.6,503.4 683.4,504.7" fill="none" stroke="#141414" stroke-width="1.0" />
<polyline points="681.3,502.6 680.8,503.8" fill="none" stroke="#141414" stroke-width="1.0" />
<polyline points="679.0,501.4 678.4,502.6" fill="none" stroke="#141414" stroke-width="1.0" />
<polyline points="676.9,499.9 676.1,501.0" fill="none" stroke="#141414" stroke-width="1.0" />
<polyline points="675.0,498.2 674.1,499.1" fill="none" stroke="#141414" stroke-width="1.0" />
<polyline points="673.3,496.2 672.3,497.0" fill="none" stroke="#141414" stroke-width="1.0" />
<polyline points="671.9,494.1 670.8,494.6" fill="none" stroke="#141414" stroke-width="1.0" />
<polyline points="670.9,491.8 669.6,492.2" fill="none" stroke="#141414" stroke-width="1.0" />
<polyline points="670.1,489.4 668.8,489.6" fill="none" stroke="#141414" stroke-width="1.0" />
<polyline points="669.7,487.1 668.4,487.1" fill="none" stroke="#141414" stroke-width="1.0" />
<polyline points="669.7,484.8 668.4,484.5" fill="none" stroke="#141414" stroke-width="1.0" />
<polyline points="670.1,482.5 668.8,482.1" fill="none" stroke="#141414" stroke-width="1.0" />
<polyline points="670.8,480.5 669.6,479.9" fill="none" stroke="#141414" stroke-width="1.0" />
<polyline points="671.8,478.6 670.8,477.8" fill="none" stroke="#141414" stroke-width="1.0" />
<polyline points="673.2,477.0 672.3,476.1" fill="none" stroke="#141414" stroke-width="1.0" />
<polyline points="674.8,475.7 674.1,474.6" fill="none" stroke="#141414" stroke-width="1.0" />
<polyline points="676.7,474.7 676.2,473.6" fill="none" stroke="#141414" stroke-width="1.0" />
<polyline points="678.8,474.1 678.4,472.8" fill="none" stroke="#141414" stroke-width="1.0" />
<polyline points="681.0,473.8 680.9,472.5" fill="none" stroke="#141414" stroke-width="1.0" />
<polyline points="683.4,473.9 683.4,472.6" fill="none" stroke="#141414" stroke-width="1.0" />
<polyline points="685.7,474.4 685.9,473.1" fill="none" stroke="#141414" stroke-width="1.0" />
<polyline points="688.0,475.2 688.5,474.0" fill="none" stroke="#141414" stroke-width="1.0" />
<polyline points="690.3,476.4 690.9,475.2" fill="none" stroke="#141414" stroke-width="1.0" />
<polyline points="692.4,477.8 693.2,476.8" fill="none" stroke="#141414" stroke-width="1.0" />
<polyline points="694.3,479.6 695.2,478.7" fill="none" stroke="#141414" stroke-width="1.0" />
<polyline points="696.0,481.6 697.0,480.8" fill="none" stroke="#141414" stroke-width="1.0" />
<polyline points="697.4,483.7 698.5,483.1" fill="none" stroke="#141414" stroke-width="1.0" />
<polyline points="698.4,486.0 699.7,485.6" fill="none" stroke="#141414" stroke-width="1.0" />
<polyline points="699.2,488.3 700.5,488.2" fill="none" stroke="#141414" stroke-width="1.0" />
<polyline points="699.6,490.7 700.9,490.7" fill="none" stroke="#141414" stroke-width="1.0" />
<polyline points="699.6,493.0 700.9,493.2" fill="none" stroke="#141414" stroke-width="1.0" />
<polyline points="699.2,495.2 700.5,495.7" fill="none" stroke="#141414" stroke-width="1.0" />
<polyline points="698.5,497.3 699.7,497.9" fill="none" stroke="#141414" stroke-width="1.0" />
<polyline points="697.5,499.2 698.5,499.9" fill="none" stroke="#141414" stroke-width="1.0" />
<ellipse cx="683.5" cy="490.0" rx="16.5" ry="13.4" transform="rotate(46 683.5 490.0)" fill="#fff" stroke="#141414" stroke-width="1.8" />
<polyline points="695.0,501.9 695.9,502.8" fill="none" stroke="#141414" stroke-width="1.0" />
<polyline points="693.3,503.2 694.1,504.2" fill="none" stroke="#141414" stroke-width="1.0" />
<polyline points="691.4,504.2 692.0,505.3" fill="none" stroke="#141414" stroke-width="1.0" />
<polyline points="689.3,504.8 689.7,506.0" fill="none" stroke="#141414" stroke-width="1.0" />
<polyline points="687.1,505.1 687.3,506.4" fill="none" stroke="#141414" stroke-width="1.0" />
<polyline points="684.8,505.0 684.8,506.3" fill="none" stroke="#141414" stroke-width="1.0" />
<polyline points="682.4,504.5 682.2,505.8" fill="none" stroke="#141414" stroke-width="1.0" />
<polyline points="680.1,503.7 679.7,504.9" fill="none" stroke="#141414" stroke-width="1.0" />
<polyline points="677.9,502.5 677.3,503.7" fill="none" stroke="#141414" stroke-width="1.0" />
<polyline points="675.8,501.1 675.0,502.1" fill="none" stroke="#141414" stroke-width="1.0" />
<polyline points="673.9,499.3 672.9,500.2" fill="none" stroke="#141414" stroke-width="1.0" />
<polyline points="672.2,497.3 671.1,498.1" fill="none" stroke="#141414" stroke-width="1.0" />
<polyline points="670.8,495.2 669.6,495.8" fill="none" stroke="#141414" stroke-width="1.0" />
<polyline points="669.7,492.9 668.5,493.3" fill="none" stroke="#141414" stroke-width="1.0" />
<polyline points="669.0,490.6 667.7,490.7" fill="none" stroke="#141414" stroke-width="1.0" />
<polyline points="668.6,488.2 667.3,488.2" fill="none" stroke="#141414" stroke-width="1.0" />
<polyline points="668.6,485.9 667.3,485.6" fill="none" stroke="#141414" stroke-width="1.0" />
<polyline points="668.9,483.7 667.7,483.2" fill="none" stroke="#141414" stroke-width="1.0" />
<polyline points="669.6,481.6 668.5,481.0" fill="none" stroke="#141414" stroke-width="1.0" />
<polyline points="670.7,479.7 669.6,479.0" fill="none" stroke="#141414" stroke-width="1.0" />
<polyline points="672.0,478.1 671.1,477.2" fill="none" stroke="#141414" stroke-width="1.0" />
<polyline points="673.7,476.8 672.9,475.8" fill="none" stroke="#141414" stroke-width="1.0" />
<polyline points="675.6,475.8 675.0,474.7" fill="none" stroke="#141414" stroke-width="1.0" />
<polyline points="677.7,475.2 677.3,474.0" fill="none" stroke="#141414" stroke-width="1.0" />
<polyline points="679.9,474.9 679.7,473.6" fill="none" stroke="#141414" stroke-width="1.0" />
<polyline points="682.2,475.0 682.2,473.7" fill="none" stroke="#141414" stroke-width="1.0" />
<polyline points="684.6,475.5 684.8,474.2" fill="none" stroke="#141414" stroke-width="1.0" />
<polyline points="686.9,476.3 687.3,475.1" fill="none" stroke="#141414" stroke-width="1.0" />
<polyline points="689.1,477.5 689.7,476.3" fill="none" stroke="#141414" stroke-width="1.0" />
<polyline points="691.2,478.9 692.0,477.9" fill="none" stroke="#141414" stroke-width="1.0" />
<polyline points="693.1,480.7 694.1,479.8" fill="none" stroke="#141414" stroke-width="1.0" />
<polyline points="694.8,482.7 695.9,481.9" fill="none" stroke="#141414" stroke-width="1.0" />
<polyline points="696.2,484.8 697.4,484.2" fill="none" stroke="#141414" stroke-width="1.0" />
<polyline points="697.3,487.1 698.5,486.7" fill="none" stroke="#141414" stroke-width="1.0" />
<polyline points="698.0,489.4 699.3,489.3" fill="none" stroke="#141414" stroke-width="1.0" />
<polyline points="698.4,491.8 699.7,491.8" fill="none" stroke="#141414" stroke-width="1.0" />
<polyline points="698.4,494.1 699.7,494.4" fill="none" stroke="#141414" stroke-width="1.0" />
<polyline points="698.1,496.3 699.3,496.8" fill="none" stroke="#141414" stroke-width="1.0" />
<polyline points="697.4,498.4 698.5,499.0" fill="none" stroke="#141414" stroke-width="1.0" />
<polyline points="696.3,500.3 697.4,501.0" fill="none" stroke="#141414" stroke-width="1.0" />
<ellipse cx="686.9" cy="499.2" rx="3.6" ry="2.5" transform="rotate(76 686.9 499.2)" fill="#fff" stroke="#141414" stroke-width="1.2" />
<ellipse cx="687.0" cy="499.7" rx="1.8" ry="1.2" transform="rotate(76 687.0 499.7)" fill="#333" stroke="#141414" stroke-width="0.5" />
<ellipse cx="677.8" cy="495.9" rx="3.6" ry="2.5" transform="rotate(136 677.8 495.9)" fill="#fff" stroke="#141414" stroke-width="1.2" />
<ellipse cx="677.3" cy="496.3" rx="1.8" ry="1.2" transform="rotate(136 677.3 496.3)" fill="#333" stroke="#141414" stroke-width="0.5" />
<ellipse cx="674.4" cy="486.7" rx="3.6" ry="2.5" transform="rotate(196 674.4 486.7)" fill="#fff" stroke="#141414" stroke-width="1.2" />
<ellipse cx="673.8" cy="486.5" rx="1.8" ry="1.2" transform="rotate(196 673.8 486.5)" fill="#333" stroke="#141414" stroke-width="0.5" />
<ellipse cx="680.1" cy="480.8" rx="3.6" ry="2.5" transform="rotate(256 680.1 480.8)" fill="#fff" stroke="#141414" stroke-width="1.2" />
<ellipse cx="680.0" cy="480.3" rx="1.8" ry="1.2" transform="rotate(256 680.0 480.3)" fill="#333" stroke="#141414" stroke-width="0.5" />
<ellipse cx="689.2" cy="484.1" rx="3.6" ry="2.5" transform="rotate(316 689.2 484.1)" fill="#fff" stroke="#141414" stroke-width="1.2" />
<ellipse cx="689.7" cy="483.7" rx="1.8" ry="1.2" transform="rotate(316 689.7 483.7)" fill="#333" stroke="#141414" stroke-width="0.5" />
<ellipse cx="692.6" cy="493.3" rx="3.6" ry="2.5" transform="rotate(376 692.6 493.3)" fill="#fff" stroke="#141414" stroke-width="1.2" />
<ellipse cx="693.2" cy="493.5" rx="1.8" ry="1.2" transform="rotate(376 693.2 493.5)" fill="#333" stroke="#141414" stroke-width="0.5" />
<ellipse cx="683.5" cy="490.0" rx="3.4" ry="2.8" transform="rotate(46 683.5 490.0)" fill="#fff" stroke="#141414" stroke-width="1.1" />
<ellipse cx="699.0" cy="475.0" rx="4.4" ry="3.6" transform="rotate(46 699.0 475.0)" fill="#fff" stroke="#141414" stroke-width="2.6" />
<ellipse cx="707.0" cy="467.5" rx="4.8" ry="3.8" transform="rotate(46 707.0 467.5)" fill="#fff" stroke="#141414" stroke-width="1.2" />
<ellipse cx="707.0" cy="467.5" rx="2.4" ry="1.9" transform="rotate(46 707.0 467.5)" fill="#fff" stroke="#141414" stroke-width="1.0" />
<ellipse cx="715.0" cy="459.5" rx="3.1" ry="2.2" transform="rotate(46 715.0 459.5)" fill="none" stroke="#141414" stroke-width="1.2" />
<ellipse cx="726.8" cy="448.6" rx="8.6" ry="6.8" transform="rotate(46 726.8 448.6)" fill="#fff" stroke="#141414" stroke-width="1.1" />
<ellipse cx="728.0" cy="447.5" rx="8.6" ry="6.8" transform="rotate(46 728.0 447.5)" fill="#fff" stroke="#141414" stroke-width="1.2" />
<ellipse cx="728.0" cy="447.5" rx="6.2" ry="4.9" transform="rotate(46 728.0 447.5)" fill="#222" stroke="#141414" stroke-width="2.6" />
<ellipse cx="728.0" cy="447.5" rx="3.9" ry="3.1" transform="rotate(46 728.0 447.5)" fill="#fff" stroke="#141414" stroke-width="1.0" />
<polyline points="730.5,445.1 725.5,449.9" fill="none" stroke="#141414" stroke-width="0.8" />
<ellipse cx="592.6" cy="728.6" rx="10.4" ry="8.2" transform="rotate(46 592.6 728.6)" fill="#fff" stroke="#141414" stroke-width="1.1" />
<ellipse cx="593.8" cy="727.5" rx="10.4" ry="8.2" transform="rotate(46 593.8 727.5)" fill="#fff" stroke="#141414" stroke-width="1.2" />
<ellipse cx="593.8" cy="727.5" rx="7.5" ry="5.9" transform="rotate(46 593.8 727.5)" fill="#fff" stroke="#141414" stroke-width="2.6" />
<ellipse cx="593.8" cy="727.5" rx="4.7" ry="3.7" transform="rotate(46 593.8 727.5)" fill="#fff" stroke="#141414" stroke-width="1.0" />
<polyline points="596.7,724.6 590.8,730.4" fill="none" stroke="#141414" stroke-width="0.8" />
<ellipse cx="655.0" cy="667.5" rx="3.6" ry="2.0" transform="rotate(47.12109639666145 655.0 667.5)" fill="#fff" stroke="#141414" stroke-width="1.1" />
<polygon points="643.4,683.1 657.4,670.1 652.6,664.9 638.6,677.9" fill="#fff" stroke="none" stroke-width="1.0" stroke-linejoin="round" />
<polyline points="643.4,683.1 657.4,670.1" fill="none" stroke="#141414" stroke-width="1.1" />
<polyline points="638.6,677.9 652.6,664.9" fill="none" stroke="#141414" stroke-width="1.1" />
<ellipse cx="641.0" cy="680.5" rx="3.6" ry="2.0" transform="rotate(47.12109639666145 641.0 680.5)" fill="#fff" stroke="#141414" stroke-width="1.1" />
<ellipse cx="645.0" cy="676.8" rx="4.4" ry="2.4" transform="rotate(46 645.0 676.8)" fill="#fff" stroke="#141414" stroke-width="1.0" />
<ellipse cx="647.3" cy="674.6" rx="4.4" ry="2.4" transform="rotate(46 647.3 674.6)" fill="#fff" stroke="#141414" stroke-width="1.0" />
<ellipse cx="649.6" cy="672.4" rx="4.4" ry="2.4" transform="rotate(46 649.6 672.4)" fill="#fff" stroke="#141414" stroke-width="1.0" />
<ellipse cx="651.9" cy="670.1" rx="4.4" ry="2.4" transform="rotate(46 651.9 670.1)" fill="#fff" stroke="#141414" stroke-width="1.0" />
<ellipse cx="634.7" cy="686.7" rx="17.5" ry="14.0" transform="rotate(46 634.7 686.7)" fill="#1a1a1a" stroke="#141414" stroke-width="1.0" />
<polyline points="646.8,699.3 647.6,700.1" fill="none" stroke="#141414" stroke-width="1.0" />
<polyline points="645.3,700.5 646.0,701.5" fill="none" stroke="#141414" stroke-width="1.0" />
<polyline points="643.5,701.5 644.0,702.5" fill="none" stroke="#141414" stroke-width="1.0" />
<polyline points="641.5,702.2 641.9,703.3" fill="none" stroke="#141414" stroke-width="1.0" />
<polyline points="639.4,702.5 639.7,703.7" fill="none" stroke="#141414" stroke-width="1.0" />
<polyline points="637.3,702.5 637.3,703.7" fill="none" stroke="#141414" stroke-width="1.0" />
<polyline points="635.0,702.3 634.9,703.5" fill="none" stroke="#141414" stroke-width="1.0" />
<polyline points="632.8,701.7 632.5,702.8" fill="none" stroke="#141414" stroke-width="1.0" />
<polyline points="630.5,700.7 630.1,701.9" fill="none" stroke="#141414" stroke-width="1.0" />
<polyline points="628.4,699.5 627.8,700.6" fill="none" stroke="#141414" stroke-width="1.0" />
<polyline points="626.4,698.1 625.7,699.0" fill="none" stroke="#141414" stroke-width="1.0" />
<polyline points="624.6,696.4 623.7,697.2" fill="none" stroke="#141414" stroke-width="1.0" />
<polyline points="623.0,694.5 622.0,695.2" fill="none" stroke="#141414" stroke-width="1.0" />
<polyline points="621.6,692.5 620.5,693.0" fill="none" stroke="#141414" stroke-width="1.0" />
<polyline points="620.4,690.3 619.3,690.7" fill="none" stroke="#141414" stroke-width="1.0" />
<polyline points="619.6,688.0 618.4,688.3" fill="none" stroke="#141414" stroke-width="1.0" />
<polyline points="619.1,685.8 617.9,685.8" fill="none" stroke="#141414" stroke-width="1.0" />
<polyline points="618.9,683.5 617.7,683.4" fill="none" stroke="#141414" stroke-width="1.0" />
<polyline points="619.0,681.3 617.8,681.1" fill="none" stroke="#141414" stroke-width="1.0" />
<polyline points="619.4,679.3 618.3,678.8" fill="none" stroke="#141414" stroke-width="1.0" />
<polyline points="620.2,677.3 619.1,676.7" fill="none" stroke="#141414" stroke-width="1.0" />
<polyline points="621.2,675.6 620.2,674.9" fill="none" stroke="#141414" stroke-width="1.0" />
<polyline points="622.5,674.1 621.7,673.2" fill="none" stroke="#141414" stroke-width="1.0" />
<polyline points="624.1,672.8 623.4,671.8" fill="none" stroke="#141414" stroke-width="1.0" />
<polyline points="625.8,671.8 625.3,670.8" fill="none" stroke="#141414" stroke-width="1.0" />
<polyline points="627.8,671.2 627.4,670.0" fill="none" stroke="#141414" stroke-width="1.0" />
<polyline points="629.9,670.8 629.6,669.6" fill="none" stroke="#141414" stroke-width="1.0" />
<polyline points="632.1,670.8 632.0,669.6" fill="none" stroke="#141414" stroke-width="1.0" />
<polyline points="634.3,671.1 634.4,669.9" fill="none" stroke="#141414" stroke-width="1.0" />
<polyline points="636.6,671.7 636.8,670.5" fill="none" stroke="#141414" stroke-width="1.0" />
<polyline points="638.8,672.6 639.2,671.5" fill="none" stroke="#141414" stroke-width="1.0" />
<polyline points="640.9,673.8 641.5,672.7" fill="none" stroke="#141414" stroke-width="1.0" />
<polyline points="642.9,675.2 643.6,674.3" fill="none" stroke="#141414" stroke-width="1.0" />
<polyline points="644.7,676.9 645.6,676.1" fill="none" stroke="#141414" stroke-width="1.0" />
<polyline points="646.4,678.8 647.3,678.1" fill="none" stroke="#141414" stroke-width="1.0" />
<polyline points="647.7,680.9 648.8,680.3" fill="none" stroke="#141414" stroke-width="1.0" />
<polyline points="648.9,683.0 650.0,682.6" fill="none" stroke="#141414" stroke-width="1.0" />
<polyline points="649.7,685.3 650.9,685.1" fill="none" stroke="#141414" stroke-width="1.0" />
<polyline points="650.2,687.6 651.4,687.5" fill="none" stroke="#141414" stroke-width="1.0" />
<polyline points="650.4,689.8 651.6,689.9" fill="none" stroke="#141414" stroke-width="1.0" />
<polyline points="650.3,692.0 651.5,692.3" fill="none" stroke="#141414" stroke-width="1.0" />
<polyline points="649.9,694.1 651.0,694.5" fill="none" stroke="#141414" stroke-width="1.0" />
<polyline points="649.2,696.0 650.2,696.6" fill="none" stroke="#141414" stroke-width="1.0" />
<polyline points="648.1,697.7 649.1,698.5" fill="none" stroke="#141414" stroke-width="1.0" />
<ellipse cx="632.5" cy="688.8" rx="17.5" ry="14.0" transform="rotate(46 632.5 688.8)" fill="#1a1a1a" stroke="#141414" stroke-width="1.0" />
<polyline points="644.7,701.3 645.5,702.2" fill="none" stroke="#141414" stroke-width="1.0" />
<polyline points="643.1,702.6 643.8,703.6" fill="none" stroke="#141414" stroke-width="1.0" />
<polyline points="641.3,703.6 641.9,704.6" fill="none" stroke="#141414" stroke-width="1.0" />
<polyline points="639.4,704.2 639.8,705.4" fill="none" stroke="#141414" stroke-width="1.0" />
<polyline points="637.3,704.6 637.5,705.8" fill="none" stroke="#141414" stroke-width="1.0" />
<polyline points="635.1,704.6 635.2,705.8" fill="none" stroke="#141414" stroke-width="1.0" />
<polyline points="632.8,704.3 632.7,705.5" fill="none" stroke="#141414" stroke-width="1.0" />
<polyline points="630.6,703.7 630.3,704.9" fill="none" stroke="#141414" stroke-width="1.0" />
<polyline points="628.4,702.8 628.0,703.9" fill="none" stroke="#141414" stroke-width="1.0" />
<polyline points="626.3,701.6 625.7,702.7" fill="none" stroke="#141414" stroke-width="1.0" />
<polyline points="624.3,700.2 623.5,701.1" fill="none" stroke="#141414" stroke-width="1.0" />
<polyline points="622.4,698.5 621.6,699.3" fill="none" stroke="#141414" stroke-width="1.0" />
<polyline points="620.8,696.6 619.8,697.3" fill="none" stroke="#141414" stroke-width="1.0" />
<polyline points="619.4,694.5 618.3,695.1" fill="none" stroke="#141414" stroke-width="1.0" />
<polyline points="618.3,692.4 617.2,692.8" fill="none" stroke="#141414" stroke-width="1.0" />
<polyline points="617.5,690.1 616.3,690.4" fill="none" stroke="#141414" stroke-width="1.0" />
<polyline points="616.9,687.9 615.7,687.9" fill="none" stroke="#141414" stroke-width="1.0" />
<polyline points="616.7,685.6 615.5,685.5" fill="none" stroke="#141414" stroke-width="1.0" />
<polyline points="616.8,683.4 615.7,683.1" fill="none" stroke="#141414" stroke-width="1.0" />
<polyline points="617.3,681.3 616.1,680.9" fill="none" stroke="#141414" stroke-width="1.0" />
<polyline points="618.0,679.4 617.0,678.8" fill="none" stroke="#141414" stroke-width="1.0" />
<polyline points="619.0,677.7 618.1,676.9" fill="none" stroke="#141414" stroke-width="1.0" />
<polyline points="620.3,676.2 619.5,675.3" fill="none" stroke="#141414" stroke-width="1.0" />
<polyline points="621.9,674.9 621.2,673.9" fill="none" stroke="#141414" stroke-width="1.0" />
<polyline points="623.7,673.9 623.1,672.9" fill="none" stroke="#141414" stroke-width="1.0" />
<polyline points="625.6,673.3 625.2,672.1" fill="none" stroke="#141414" stroke-width="1.0" />
<polyline points="627.7,672.9 627.5,671.7" fill="none" stroke="#141414" stroke-width="1.0" />
<polyline points="629.9,672.9 629.8,671.7" fill="none" stroke="#141414" stroke-width="1.0" />
<polyline points="632.2,673.2 632.3,672.0" fill="none" stroke="#141414" stroke-width="1.0" />
<polyline points="634.4,673.8 634.7,672.6" fill="none" stroke="#141414" stroke-width="1.0" />
<polyline points="636.6,674.7 637.0,673.6" fill="none" stroke="#141414" stroke-width="1.0" />
<polyline points="638.7,675.9 639.3,674.8" fill="none" stroke="#141414" stroke-width="1.0" />
<polyline points="640.7,677.3 641.5,676.4" fill="none" stroke="#141414" stroke-width="1.0" />
<polyline points="642.6,679.0 643.4,678.2" fill="none" stroke="#141414" stroke-width="1.0" />
<polyline points="644.2,680.9 645.2,680.2" fill="none" stroke="#141414" stroke-width="1.0" />
<polyline points="645.6,683.0 646.7,682.4" fill="none" stroke="#141414" stroke-width="1.0" />
<polyline points="646.7,685.1 647.8,684.7" fill="none" stroke="#141414" stroke-width="1.0" />
<polyline points="647.5,687.4 648.7,687.1" fill="none" stroke="#141414" stroke-width="1.0" />
<polyline points="648.1,689.6 649.3,689.6" fill="none" stroke="#141414" stroke-width="1.0" />
<polyline points="648.3,691.9 649.5,692.0" fill="none" stroke="#141414" stroke-width="1.0" />
<polyline points="648.2,694.1 649.3,694.4" fill="none" stroke="#141414" stroke-width="1.0" />
<polyline points="647.7,696.2 648.9,696.6" fill="none" stroke="#141414" stroke-width="1.0" />
<polyline points="647.0,698.1 648.0,698.7" fill="none" stroke="#141414" stroke-width="1.0" />
<polyline points="646.0,699.8 646.9,700.6" fill="none" stroke="#141414" stroke-width="1.0" />
<ellipse cx="632.5" cy="688.8" rx="15.0" ry="12.0" transform="rotate(46 632.5 688.8)" fill="#fff" stroke="#141414" stroke-width="0.8" />
<ellipse cx="632.5" cy="688.8" rx="11.6" ry="9.2" transform="rotate(46 632.5 688.8)" fill="#fff" stroke="#141414" stroke-width="1.6" />
<ellipse cx="632.5" cy="688.8" rx="9.1" ry="7.3" transform="rotate(46 632.5 688.8)" fill="#fff" stroke="#141414" stroke-width="1.0" />
<ellipse cx="632.5" cy="688.8" rx="7.6" ry="6.1" transform="rotate(46 632.5 688.8)" fill="#fff" stroke="#141414" stroke-width="1.2" />
<ellipse cx="633.5" cy="688.0" rx="4.8" ry="2.6" transform="rotate(46.63657704161671 633.5 688.0)" fill="#fff" stroke="#141414" stroke-width="1.1" />
<polygon points="627.8,700.0 636.8,691.5 630.2,684.5 621.2,693.0" fill="#fff" stroke="none" stroke-width="1.0" stroke-linejoin="round" />
<polyline points="627.8,700.0 636.8,691.5" fill="none" stroke="#141414" stroke-width="1.1" />
<polyline points="621.2,693.0 630.2,684.5" fill="none" stroke="#141414" stroke-width="1.1" />
<ellipse cx="624.5" cy="696.5" rx="4.8" ry="2.6" transform="rotate(46.63657704161671 624.5 696.5)" fill="#fff" stroke="#141414" stroke-width="1.1" />
<ellipse cx="625.5" cy="695.5" rx="3.8" ry="2.1" transform="rotate(46.735704588928385 625.5 695.5)" fill="#222" stroke="#141414" stroke-width="1.1" />
<polygon points="619.6,706.3 628.1,698.3 622.9,692.7 614.4,700.7" fill="#222" stroke="none" stroke-width="1.0" stroke-linejoin="round" />
<polyline points="619.6,706.3 628.1,698.3" fill="none" stroke="#141414" stroke-width="1.1" />
<polyline points="614.4,700.7 622.9,692.7" fill="none" stroke="#141414" stroke-width="1.1" />
<ellipse cx="617.0" cy="703.5" rx="3.8" ry="2.1" transform="rotate(46.735704588928385 617.0 703.5)" fill="#222" stroke="#141414" stroke-width="1.1" />
<ellipse cx="619.0" cy="701.8" rx="3.2" ry="1.8" transform="rotate(47.2311746080309 619.0 701.8)" fill="#fff" stroke="#141414" stroke-width="1.1" />
<polygon points="617.2,707.8 621.2,704.1 616.8,699.5 612.8,703.2" fill="#fff" stroke="none" stroke-width="1.0" stroke-linejoin="round" />
<polyline points="617.2,707.8 621.2,704.1" fill="none" stroke="#141414" stroke-width="1.1" />
<polyline points="612.8,703.2 616.8,699.5" fill="none" stroke="#141414" stroke-width="1.1" />
<ellipse cx="615.0" cy="705.5" rx="3.2" ry="1.8" transform="rotate(47.2311746080309 615.0 705.5)" fill="#fff" stroke="#141414" stroke-width="1.1" />
<ellipse cx="691.3" cy="632.5" rx="22.5" ry="18.5" transform="rotate(46 691.3 632.5)" fill="#1a1a1a" stroke="#141414" stroke-width="1" />
<polyline points="706.9,648.7 708.0,649.8" fill="none" stroke="#141414" stroke-width="1.2" />
<polyline points="705.1,650.2 706.0,651.5" fill="none" stroke="#141414" stroke-width="1.2" />
<polyline points="702.9,651.5 703.7,652.9" fill="none" stroke="#141414" stroke-width="1.2" />
<polyline points="700.6,652.4 701.2,653.9" fill="none" stroke="#141414" stroke-width="1.2" />
<polyline points="698.2,652.9 698.6,654.5" fill="none" stroke="#141414" stroke-width="1.2" />
<polyline points="695.6,653.2 695.8,654.8" fill="none" stroke="#141414" stroke-width="1.2" />
<polyline points="692.9,653.0 692.9,654.6" fill="none" stroke="#141414" stroke-width="1.2" />
<polyline points="690.3,652.5 690.0,654.1" fill="none" stroke="#141414" stroke-width="1.2" />
<polyline points="687.6,651.7 687.1,653.3" fill="none" stroke="#141414" stroke-width="1.2" />
<polyline points="685.0,650.6 684.3,652.0" fill="none" stroke="#141414" stroke-width="1.2" />
<polyline points="682.5,649.1 681.7,650.5" fill="none" stroke="#141414" stroke-width="1.2" />
<polyline points="680.1,647.4 679.1,648.6" fill="none" stroke="#141414" stroke-width="1.2" />
<polyline points="678.0,645.4 676.8,646.5" fill="none" stroke="#141414" stroke-width="1.2" />
<polyline points="676.1,643.1 674.8,644.1" fill="none" stroke="#141414" stroke-width="1.2" />
<polyline points="674.4,640.7 673.0,641.5" fill="none" stroke="#141414" stroke-width="1.2" />
<polyline points="673.0,638.2 671.5,638.8" fill="none" stroke="#141414" stroke-width="1.2" />
<polyline points="672.0,635.5 670.4,635.9" fill="none" stroke="#141414" stroke-width="1.2" />
<polyline points="671.2,632.8 669.6,633.0" fill="none" stroke="#141414" stroke-width="1.2" />
<polyline points="670.8,630.1 669.2,630.1" fill="none" stroke="#141414" stroke-width="1.2" />
<polyline points="670.8,627.5 669.2,627.2" fill="none" stroke="#141414" stroke-width="1.2" />
<polyline points="671.1,624.9 669.6,624.5" fill="none" stroke="#141414" stroke-width="1.2" />
<polyline points="671.8,622.5 670.3,621.8" fill="none" stroke="#141414" stroke-width="1.2" />
<polyline points="672.8,620.2 671.4,619.4" fill="none" stroke="#141414" stroke-width="1.2" />
<polyline points="674.1,618.1 672.8,617.1" fill="none" stroke="#141414" stroke-width="1.2" />
<polyline points="675.7,616.3 674.6,615.2" fill="none" stroke="#141414" stroke-width="1.2" />
<polyline points="677.5,614.8 676.6,613.5" fill="none" stroke="#141414" stroke-width="1.2" />
<polyline points="679.6,613.5 678.9,612.1" fill="none" stroke="#141414" stroke-width="1.2" />
<polyline points="681.9,612.6 681.4,611.1" fill="none" stroke="#141414" stroke-width="1.2" />
<polyline points="684.4,612.1 684.0,610.5" fill="none" stroke="#141414" stroke-width="1.2" />
<polyline points="687.0,611.8 686.8,610.2" fill="none" stroke="#141414" stroke-width="1.2" />
<polyline points="689.7,612.0 689.7,610.4" fill="none" stroke="#141414" stroke-width="1.2" />
<polyline points="692.3,612.5 692.6,610.9" fill="none" stroke="#141414" stroke-width="1.2" />
<polyline points="695.0,613.3 695.4,611.7" fill="none" stroke="#141414" stroke-width="1.2" />
<polyline points="697.6,614.4 698.2,613.0" fill="none" stroke="#141414" stroke-width="1.2" />
<polyline points="700.1,615.9 700.9,614.5" fill="none" stroke="#141414" stroke-width="1.2" />
<polyline points="702.4,617.6 703.4,616.4" fill="none" stroke="#141414" stroke-width="1.2" />
<polyline points="704.6,619.6 705.8,618.5" fill="none" stroke="#141414" stroke-width="1.2" />
<polyline points="706.5,621.9 707.8,620.9" fill="none" stroke="#141414" stroke-width="1.2" />
<polyline points="708.2,624.3 709.6,623.5" fill="none" stroke="#141414" stroke-width="1.2" />
<polyline points="709.6,626.8 711.1,626.2" fill="none" stroke="#141414" stroke-width="1.2" />
<polyline points="710.6,629.5 712.2,629.1" fill="none" stroke="#141414" stroke-width="1.2" />
<polyline points="711.4,632.2 713.0,632.0" fill="none" stroke="#141414" stroke-width="1.2" />
<polyline points="711.8,634.9 713.4,634.9" fill="none" stroke="#141414" stroke-width="1.2" />
<polyline points="711.8,637.5 713.4,637.8" fill="none" stroke="#141414" stroke-width="1.2" />
<polyline points="711.5,640.1 713.0,640.5" fill="none" stroke="#141414" stroke-width="1.2" />
<polyline points="710.8,642.5 712.3,643.2" fill="none" stroke="#141414" stroke-width="1.2" />
<polyline points="709.8,644.8 711.2,645.6" fill="none" stroke="#141414" stroke-width="1.2" />
<polyline points="708.5,646.9 709.8,647.9" fill="none" stroke="#141414" stroke-width="1.2" />
<ellipse cx="690.0" cy="633.8" rx="22.5" ry="18.5" transform="rotate(46 690.0 633.8)" fill="#fff" stroke="#141414" stroke-width="2.0" />
<polyline points="705.6,649.9 706.7,651.1" fill="none" stroke="#141414" stroke-width="1.2" />
<polyline points="703.8,651.5 704.7,652.8" fill="none" stroke="#141414" stroke-width="1.2" />
<polyline points="701.7,652.7 702.4,654.1" fill="none" stroke="#141414" stroke-width="1.2" />
<polyline points="699.3,653.6 699.9,655.1" fill="none" stroke="#141414" stroke-width="1.2" />
<polyline points="696.9,654.2 697.3,655.7" fill="none" stroke="#141414" stroke-width="1.2" />
<polyline points="694.3,654.4 694.5,656.0" fill="none" stroke="#141414" stroke-width="1.2" />
<polyline points="691.6,654.3 691.6,655.9" fill="none" stroke="#141414" stroke-width="1.2" />
<polyline points="689.0,653.8 688.7,655.4" fill="none" stroke="#141414" stroke-width="1.2" />
<polyline points="686.3,653.0 685.8,654.5" fill="none" stroke="#141414" stroke-width="1.2" />
<polyline points="683.7,651.8 683.0,653.3" fill="none" stroke="#141414" stroke-width="1.2" />
<polyline points="681.2,650.4 680.4,651.7" fill="none" stroke="#141414" stroke-width="1.2" />
<polyline points="678.8,648.6 677.9,649.9" fill="none" stroke="#141414" stroke-width="1.2" />
<polyline points="676.7,646.6 675.5,647.7" fill="none" stroke="#141414" stroke-width="1.2" />
<polyline points="674.8,644.4 673.5,645.3" fill="none" stroke="#141414" stroke-width="1.2" />
<polyline points="673.1,642.0 671.7,642.7" fill="none" stroke="#141414" stroke-width="1.2" />
<polyline points="671.7,639.4 670.2,640.0" fill="none" stroke="#141414" stroke-width="1.2" />
<polyline points="670.7,636.8 669.1,637.2" fill="none" stroke="#141414" stroke-width="1.2" />
<polyline points="669.9,634.1 668.3,634.3" fill="none" stroke="#141414" stroke-width="1.2" />
<polyline points="669.5,631.4 667.9,631.4" fill="none" stroke="#141414" stroke-width="1.2" />
<polyline points="669.5,628.7 667.9,628.5" fill="none" stroke="#141414" stroke-width="1.2" />
<polyline points="669.8,626.2 668.3,625.7" fill="none" stroke="#141414" stroke-width="1.2" />
<polyline points="670.5,623.7 669.0,623.1" fill="none" stroke="#141414" stroke-width="1.2" />
<polyline points="671.5,621.4 670.1,620.6" fill="none" stroke="#141414" stroke-width="1.2" />
<polyline points="672.8,619.4 671.5,618.4" fill="none" stroke="#141414" stroke-width="1.2" />
<polyline points="674.4,617.6 673.3,616.4" fill="none" stroke="#141414" stroke-width="1.2" />
<polyline points="676.2,616.0 675.3,614.7" fill="none" stroke="#141414" stroke-width="1.2" />
<polyline points="678.3,614.8 677.6,613.4" fill="none" stroke="#141414" stroke-width="1.2" />
<polyline points="680.7,613.9 680.1,612.4" fill="none" stroke="#141414" stroke-width="1.2" />
<polyline points="683.1,613.3 682.7,611.8" fill="none" stroke="#141414" stroke-width="1.2" />
<polyline points="685.7,613.1 685.5,611.5" fill="none" stroke="#141414" stroke-width="1.2" />
<polyline points="688.4,613.2 688.4,611.6" fill="none" stroke="#141414" stroke-width="1.2" />
<polyline points="691.0,613.7 691.3,612.1" fill="none" stroke="#141414" stroke-width="1.2" />
<polyline points="693.7,614.5 694.2,613.0" fill="none" stroke="#141414" stroke-width="1.2" />
<polyline points="696.3,615.7 697.0,614.2" fill="none" stroke="#141414" stroke-width="1.2" />
<polyline points="698.8,617.1 699.6,615.8" fill="none" stroke="#141414" stroke-width="1.2" />
<polyline points="701.2,618.9 702.1,617.6" fill="none" stroke="#141414" stroke-width="1.2" />
<polyline points="703.3,620.9 704.5,619.8" fill="none" stroke="#141414" stroke-width="1.2" />
<polyline points="705.2,623.1 706.5,622.2" fill="none" stroke="#141414" stroke-width="1.2" />
<polyline points="706.9,625.5 708.3,624.8" fill="none" stroke="#141414" stroke-width="1.2" />
<polyline points="708.3,628.1 709.8,627.5" fill="none" stroke="#141414" stroke-width="1.2" />
<polyline points="709.3,630.7 710.9,630.3" fill="none" stroke="#141414" stroke-width="1.2" />
<polyline points="710.1,633.4 711.7,633.2" fill="none" stroke="#141414" stroke-width="1.2" />
<polyline points="710.5,636.1 712.1,636.1" fill="none" stroke="#141414" stroke-width="1.2" />
<polyline points="710.5,638.8 712.1,639.0" fill="none" stroke="#141414" stroke-width="1.2" />
<polyline points="710.2,641.3 711.7,641.8" fill="none" stroke="#141414" stroke-width="1.2" />
<polyline points="709.5,643.8 711.0,644.4" fill="none" stroke="#141414" stroke-width="1.2" />
<polyline points="708.5,646.1 709.9,646.9" fill="none" stroke="#141414" stroke-width="1.2" />
<polyline points="707.2,648.1 708.5,649.1" fill="none" stroke="#141414" stroke-width="1.2" />
<ellipse cx="698.4" cy="645.9" rx="4.0" ry="2.7" transform="rotate(86 698.4 645.9)" fill="#fff" stroke="#141414" stroke-width="1.1" />
<ellipse cx="688.4" cy="646.7" rx="4.0" ry="2.7" transform="rotate(131 688.4 646.7)" fill="#fff" stroke="#141414" stroke-width="1.1" />
<ellipse cx="679.3" cy="639.9" rx="4.0" ry="2.7" transform="rotate(176 679.3 639.9)" fill="#fff" stroke="#141414" stroke-width="1.1" />
<ellipse cx="676.5" cy="629.5" rx="4.0" ry="2.7" transform="rotate(221 676.5 629.5)" fill="#fff" stroke="#141414" stroke-width="1.1" />
<ellipse cx="681.6" cy="621.6" rx="4.0" ry="2.7" transform="rotate(266 681.6 621.6)" fill="#fff" stroke="#141414" stroke-width="1.1" />
<ellipse cx="691.6" cy="620.8" rx="4.0" ry="2.7" transform="rotate(311 691.6 620.8)" fill="#fff" stroke="#141414" stroke-width="1.1" />
<ellipse cx="700.7" cy="627.6" rx="4.0" ry="2.7" transform="rotate(356 700.7 627.6)" fill="#fff" stroke="#141414" stroke-width="1.1" />
<ellipse cx="703.5" cy="638.0" rx="4.0" ry="2.7" transform="rotate(401 703.5 638.0)" fill="#fff" stroke="#141414" stroke-width="1.1" />
<ellipse cx="690.0" cy="633.8" rx="6.4" ry="5.4" transform="rotate(46 690.0 633.8)" fill="#111" stroke="#141414" stroke-width="1" />
<ellipse cx="725.0" cy="600.0" rx="5.2" ry="4.0" transform="rotate(46 725.0 600.0)" fill="none" stroke="#141414" stroke-width="1.7" />
<ellipse cx="747.6" cy="577.4" rx="9.6" ry="7.6" transform="rotate(46 747.6 577.4)" fill="#fff" stroke="#141414" stroke-width="1.1" />
<ellipse cx="748.8" cy="576.2" rx="9.6" ry="7.6" transform="rotate(46 748.8 576.2)" fill="#fff" stroke="#141414" stroke-width="1.2" />
<ellipse cx="748.8" cy="576.2" rx="6.9" ry="5.5" transform="rotate(46 748.8 576.2)" fill="#fff" stroke="#141414" stroke-width="2.6" />
<ellipse cx="748.8" cy="576.2" rx="4.3" ry="3.4" transform="rotate(46 748.8 576.2)" fill="#fff" stroke="#141414" stroke-width="1.0" />
<polyline points="751.5,573.6 746.0,578.9" fill="none" stroke="#141414" stroke-width="0.8" />
<ellipse cx="811.3" cy="617.4" rx="10.4" ry="8.2" transform="rotate(46 811.3 617.4)" fill="#fff" stroke="#141414" stroke-width="1.1" />
<ellipse cx="812.5" cy="616.2" rx="10.4" ry="8.2" transform="rotate(46 812.5 616.2)" fill="#fff" stroke="#141414" stroke-width="1.2" />
<ellipse cx="812.5" cy="616.2" rx="7.5" ry="5.9" transform="rotate(46 812.5 616.2)" fill="#fff" stroke="#141414" stroke-width="2.6" />
<ellipse cx="812.5" cy="616.2" rx="4.7" ry="3.7" transform="rotate(46 812.5 616.2)" fill="#fff" stroke="#141414" stroke-width="1.0" />
<polyline points="815.5,613.4 809.5,619.1" fill="none" stroke="#141414" stroke-width="0.8" />
<ellipse cx="856.0" cy="576.0" rx="4.6" ry="2.5" transform="rotate(46.33221985386964 856.0 576.0)" fill="#fff" stroke="#141414" stroke-width="1.1" />
<polygon points="848.2,589.8 859.2,579.3 852.8,572.7 841.8,583.2" fill="#fff" stroke="none" stroke-width="1.0" stroke-linejoin="round" />
<polyline points="848.2,589.8 859.2,579.3" fill="none" stroke="#141414" stroke-width="1.1" />
<polyline points="841.8,583.2 852.8,572.7" fill="none" stroke="#141414" stroke-width="1.1" />
<ellipse cx="845.0" cy="586.5" rx="4.6" ry="2.5" transform="rotate(46.33221985386964 845.0 586.5)" fill="#fff" stroke="#141414" stroke-width="1.1" />
<ellipse cx="866.5" cy="566.0" rx="3.6" ry="2.0" transform="rotate(46.52462277341197 866.5 566.0)" fill="#222" stroke="#141414" stroke-width="1.1" />
<polygon points="855.5,581.4 869.0,568.6 864.0,563.4 850.5,576.2" fill="#222" stroke="none" stroke-width="1.0" stroke-linejoin="round" />
<polyline points="855.5,581.4 869.0,568.6" fill="none" stroke="#141414" stroke-width="1.1" />
<polyline points="850.5,576.2 864.0,563.4" fill="none" stroke="#141414" stroke-width="1.1" />
<ellipse cx="853.0" cy="578.8" rx="3.6" ry="2.0" transform="rotate(46.52462277341197 853.0 578.8)" fill="#222" stroke="#141414" stroke-width="1.1" />
<ellipse cx="837.7" cy="593.3" rx="19.0" ry="15.2" transform="rotate(46 837.7 593.3)" fill="#1a1a1a" stroke="#141414" stroke-width="1.0" />
<polyline points="850.9,607.0 851.8,607.9" fill="none" stroke="#141414" stroke-width="1.0" />
<polyline points="849.2,608.4 849.9,609.3" fill="none" stroke="#141414" stroke-width="1.0" />
<polyline points="847.3,609.4 847.9,610.5" fill="none" stroke="#141414" stroke-width="1.0" />
<polyline points="845.2,610.2 845.6,611.3" fill="none" stroke="#141414" stroke-width="1.0" />
<polyline points="842.9,610.5 843.2,611.7" fill="none" stroke="#141414" stroke-width="1.0" />
<polyline points="840.5,610.6 840.6,611.8" fill="none" stroke="#141414" stroke-width="1.0" />
<polyline points="838.1,610.3 838.0,611.5" fill="none" stroke="#141414" stroke-width="1.0" />
<polyline points="835.7,609.6 835.4,610.8" fill="none" stroke="#141414" stroke-width="1.0" />
<polyline points="833.3,608.6 832.8,609.7" fill="none" stroke="#141414" stroke-width="1.0" />
<polyline points="831.0,607.3 830.4,608.4" fill="none" stroke="#141414" stroke-width="1.0" />
<polyline points="828.8,605.7 828.0,606.7" fill="none" stroke="#141414" stroke-width="1.0" />
<polyline points="826.8,603.9 825.9,604.7" fill="none" stroke="#141414" stroke-width="1.0" />
<polyline points="825.0,601.8 824.1,602.5" fill="none" stroke="#141414" stroke-width="1.0" />
<polyline points="823.5,599.6 822.5,600.2" fill="none" stroke="#141414" stroke-width="1.0" />
<polyline points="822.3,597.3 821.2,597.7" fill="none" stroke="#141414" stroke-width="1.0" />
<polyline points="821.4,594.8 820.2,595.1" fill="none" stroke="#141414" stroke-width="1.0" />
<polyline points="820.8,592.4 819.6,592.4" fill="none" stroke="#141414" stroke-width="1.0" />
<polyline points="820.6,589.9 819.4,589.8" fill="none" stroke="#141414" stroke-width="1.0" />
<polyline points="820.7,587.5 819.5,587.3" fill="none" stroke="#141414" stroke-width="1.0" />
<polyline points="821.2,585.3 820.1,584.8" fill="none" stroke="#141414" stroke-width="1.0" />
<polyline points="822.0,583.2 820.9,582.6" fill="none" stroke="#141414" stroke-width="1.0" />
<polyline points="823.1,581.3 822.2,580.6" fill="none" stroke="#141414" stroke-width="1.0" />
<polyline points="824.5,579.7 823.7,578.8" fill="none" stroke="#141414" stroke-width="1.0" />
<polyline points="826.2,578.3 825.5,577.3" fill="none" stroke="#141414" stroke-width="1.0" />
<polyline points="828.1,577.2 827.6,576.2" fill="none" stroke="#141414" stroke-width="1.0" />
<polyline points="830.3,576.5 829.9,575.4" fill="none" stroke="#141414" stroke-width="1.0" />
<polyline points="832.5,576.1 832.3,574.9" fill="none" stroke="#141414" stroke-width="1.0" />
<polyline points="834.9,576.1 834.8,574.9" fill="none" stroke="#141414" stroke-width="1.0" />
<polyline points="837.3,576.4 837.5,575.2" fill="none" stroke="#141414" stroke-width="1.0" />
<polyline points="839.8,577.1 840.1,575.9" fill="none" stroke="#141414" stroke-width="1.0" />
<polyline points="842.2,578.1 842.6,576.9" fill="none" stroke="#141414" stroke-width="1.0" />
<polyline points="844.5,579.4 845.1,578.3" fill="none" stroke="#141414" stroke-width="1.0" />
<polyline points="846.7,580.9 847.4,580.0" fill="none" stroke="#141414" stroke-width="1.0" />
<polyline points="848.7,582.8 849.5,581.9" fill="none" stroke="#141414" stroke-width="1.0" />
<polyline points="850.4,584.8 851.4,584.1" fill="none" stroke="#141414" stroke-width="1.0" />
<polyline points="851.9,587.1 853.0,586.5" fill="none" stroke="#141414" stroke-width="1.0" />
<polyline points="853.2,589.4 854.3,589.0" fill="none" stroke="#141414" stroke-width="1.0" />
<polyline points="854.1,591.8 855.2,591.6" fill="none" stroke="#141414" stroke-width="1.0" />
<polyline points="854.6,594.3 855.8,594.2" fill="none" stroke="#141414" stroke-width="1.0" />
<polyline points="854.9,596.7 856.1,596.9" fill="none" stroke="#141414" stroke-width="1.0" />
<polyline points="854.7,599.1 855.9,599.4" fill="none" stroke="#141414" stroke-width="1.0" />
<polyline points="854.3,601.4 855.4,601.8" fill="none" stroke="#141414" stroke-width="1.0" />
<polyline points="853.5,603.5 854.5,604.1" fill="none" stroke="#141414" stroke-width="1.0" />
<polyline points="852.3,605.4 853.3,606.1" fill="none" stroke="#141414" stroke-width="1.0" />
<ellipse cx="836.0" cy="595.0" rx="19.0" ry="15.2" transform="rotate(46 836.0 595.0)" fill="#1a1a1a" stroke="#141414" stroke-width="1.0" />
<polyline points="849.2,608.7 850.0,609.5" fill="none" stroke="#141414" stroke-width="1.0" />
<polyline points="847.5,610.0 848.2,611.0" fill="none" stroke="#141414" stroke-width="1.0" />
<polyline points="845.6,611.1 846.1,612.2" fill="none" stroke="#141414" stroke-width="1.0" />
<polyline points="843.5,611.8 843.9,613.0" fill="none" stroke="#141414" stroke-width="1.0" />
<polyline points="841.2,612.2 841.4,613.4" fill="none" stroke="#141414" stroke-width="1.0" />
<polyline points="838.8,612.2 838.9,613.4" fill="none" stroke="#141414" stroke-width="1.0" />
<polyline points="836.4,611.9 836.3,613.1" fill="none" stroke="#141414" stroke-width="1.0" />
<polyline points="833.9,611.3 833.7,612.4" fill="none" stroke="#141414" stroke-width="1.0" />
<polyline points="831.5,610.3 831.1,611.4" fill="none" stroke="#141414" stroke-width="1.0" />
<polyline points="829.2,609.0 828.6,610.0" fill="none" stroke="#141414" stroke-width="1.0" />
<polyline points="827.1,607.4 826.3,608.3" fill="none" stroke="#141414" stroke-width="1.0" />
<polyline points="825.1,605.6 824.2,606.4" fill="none" stroke="#141414" stroke-width="1.0" />
<polyline points="823.3,603.5 822.3,604.2" fill="none" stroke="#141414" stroke-width="1.0" />
<polyline points="821.8,601.3 820.7,601.8" fill="none" stroke="#141414" stroke-width="1.0" />
<polyline points="820.6,598.9 819.4,599.3" fill="none" stroke="#141414" stroke-width="1.0" />
<polyline points="819.7,596.5 818.5,596.7" fill="none" stroke="#141414" stroke-width="1.0" />
<polyline points="819.1,594.0 817.9,594.1" fill="none" stroke="#141414" stroke-width="1.0" />
<polyline points="818.9,591.6 817.7,591.5" fill="none" stroke="#141414" stroke-width="1.0" />
<polyline points="819.0,589.2 817.8,588.9" fill="none" stroke="#141414" stroke-width="1.0" />
<polyline points="819.5,587.0 818.3,586.5" fill="none" stroke="#141414" stroke-width="1.0" />
<polyline points="820.3,584.9 819.2,584.3" fill="none" stroke="#141414" stroke-width="1.0" />
<polyline points="821.4,583.0 820.4,582.2" fill="none" stroke="#141414" stroke-width="1.0" />
<polyline points="822.8,581.3 822.0,580.5" fill="none" stroke="#141414" stroke-width="1.0" />
<polyline points="824.5,580.0 823.8,579.0" fill="none" stroke="#141414" stroke-width="1.0" />
<polyline points="826.4,578.9 825.9,577.8" fill="none" stroke="#141414" stroke-width="1.0" />
<polyline points="828.5,578.2 828.1,577.0" fill="none" stroke="#141414" stroke-width="1.0" />
<polyline points="830.8,577.8 830.6,576.6" fill="none" stroke="#141414" stroke-width="1.0" />
<polyline points="833.2,577.8 833.1,576.6" fill="none" stroke="#141414" stroke-width="1.0" />
<polyline points="835.6,578.1 835.7,576.9" fill="none" stroke="#141414" stroke-width="1.0" />
<polyline points="838.1,578.7 838.3,577.6" fill="none" stroke="#141414" stroke-width="1.0" />
<polyline points="840.5,579.7 840.9,578.6" fill="none" stroke="#141414" stroke-width="1.0" />
<polyline points="842.8,581.0 843.4,580.0" fill="none" stroke="#141414" stroke-width="1.0" />
<polyline points="844.9,582.6 845.7,581.7" fill="none" stroke="#141414" stroke-width="1.0" />
<polyline points="846.9,584.4 847.8,583.6" fill="none" stroke="#141414" stroke-width="1.0" />
<polyline points="848.7,586.5 849.7,585.8" fill="none" stroke="#141414" stroke-width="1.0" />
<polyline points="850.2,588.7 851.3,588.2" fill="none" stroke="#141414" stroke-width="1.0" />
<polyline points="851.4,591.1 852.6,590.7" fill="none" stroke="#141414" stroke-width="1.0" />
<polyline points="852.3,593.5 853.5,593.3" fill="none" stroke="#141414" stroke-width="1.0" />
<polyline points="852.9,596.0 854.1,595.9" fill="none" stroke="#141414" stroke-width="1.0" />
<polyline points="853.1,598.4 854.3,598.5" fill="none" stroke="#141414" stroke-width="1.0" />
<polyline points="853.0,600.8 854.2,601.1" fill="none" stroke="#141414" stroke-width="1.0" />
<polyline points="852.5,603.0 853.7,603.5" fill="none" stroke="#141414" stroke-width="1.0" />
<polyline points="851.7,605.1 852.8,605.7" fill="none" stroke="#141414" stroke-width="1.0" />
<polyline points="850.6,607.0 851.6,607.8" fill="none" stroke="#141414" stroke-width="1.0" />
<ellipse cx="836.0" cy="595.0" rx="16.3" ry="13.1" transform="rotate(46 836.0 595.0)" fill="#fff" stroke="#141414" stroke-width="0.8" />
<ellipse cx="836.0" cy="595.0" rx="13.3" ry="10.6" transform="rotate(46 836.0 595.0)" fill="#fff" stroke="#141414" stroke-width="1.6" />
<ellipse cx="836.0" cy="595.0" rx="9.9" ry="7.9" transform="rotate(46 836.0 595.0)" fill="#fff" stroke="#141414" stroke-width="1.0" />
<ellipse cx="836.0" cy="595.0" rx="8.4" ry="6.8" transform="rotate(46 836.0 595.0)" fill="#fff" stroke="#141414" stroke-width="1.2" />
<ellipse cx="838.5" cy="592.8" rx="4.6" ry="2.5" transform="rotate(46.35319195377948 838.5 592.8)" fill="#fff" stroke="#141414" stroke-width="1.1" />
<polygon points="835.2,602.3 841.7,596.1 835.3,589.5 828.8,595.7" fill="#fff" stroke="none" stroke-width="1.0" stroke-linejoin="round" />
<polyline points="835.2,602.3 841.7,596.1" fill="none" stroke="#141414" stroke-width="1.1" />
<polyline points="828.8,595.7 835.3,589.5" fill="none" stroke="#141414" stroke-width="1.1" />
<ellipse cx="832.0" cy="599.0" rx="4.6" ry="2.5" transform="rotate(46.35319195377948 832.0 599.0)" fill="#fff" stroke="#141414" stroke-width="1.1" />
<ellipse cx="832.0" cy="599.0" rx="2.6" ry="1.9" transform="rotate(46 832.0 599.0)" fill="#fff" stroke="#141414" stroke-width="1.2" />
<ellipse cx="874.8" cy="556.6" rx="10.2" ry="8.0" transform="rotate(46 874.8 556.6)" fill="#fff" stroke="#141414" stroke-width="1.1" />
<ellipse cx="876.0" cy="555.5" rx="10.2" ry="8.0" transform="rotate(46 876.0 555.5)" fill="#fff" stroke="#141414" stroke-width="1.2" />
<ellipse cx="876.0" cy="555.5" rx="7.3" ry="5.8" transform="rotate(46 876.0 555.5)" fill="#fff" stroke="#141414" stroke-width="2.6" />
<ellipse cx="876.0" cy="555.5" rx="4.6" ry="3.6" transform="rotate(46 876.0 555.5)" fill="#fff" stroke="#141414" stroke-width="1.0" />
<polyline points="878.9,552.7 873.1,558.3" fill="none" stroke="#141414" stroke-width="0.8" />
<ellipse cx="701.9" cy="339.0" rx="9.5" ry="7.6" transform="rotate(46 701.9 339.0)" fill="#fff" stroke="#141414" stroke-width="1.1" />
<ellipse cx="703.0" cy="338.0" rx="9.5" ry="7.6" transform="rotate(46 703.0 338.0)" fill="#fff" stroke="#141414" stroke-width="1.3" />
<ellipse cx="703.0" cy="338.0" rx="5.9" ry="4.7" transform="rotate(46 703.0 338.0)" fill="#fff" stroke="#141414" stroke-width="1.8" />
<ellipse cx="703.8" cy="338.8" rx="4.0" ry="3.2" transform="rotate(46 703.8 338.8)" fill="#fff" stroke="#141414" stroke-width="0.9" />
<ellipse cx="881.9" cy="76.5" rx="9.5" ry="7.2" transform="rotate(46 881.9 76.5)" fill="#fff" stroke="#141414" stroke-width="1.1" />
<ellipse cx="883.0" cy="75.5" rx="9.5" ry="7.2" transform="rotate(46 883.0 75.5)" fill="#fff" stroke="#141414" stroke-width="1.3" />
<ellipse cx="883.0" cy="75.5" rx="5.9" ry="4.5" transform="rotate(46 883.0 75.5)" fill="#fff" stroke="#141414" stroke-width="1.8" />
<ellipse cx="883.8" cy="76.3" rx="4.0" ry="3.0" transform="rotate(46 883.8 76.3)" fill="#fff" stroke="#141414" stroke-width="0.9" />
<polyline points="599.3,198.0 643.7,257.7" fill="none" stroke="#141414" stroke-width="1.2" />
<polygon points="588.5,188.9 594.2,184.9 601.0,195.1 597.0,198.6" fill="#fff" stroke="#141414" stroke-width="1.2" stroke-linejoin="round" />
<polyline points="590.8,189.5 596.8,197.5" fill="none" stroke="#141414" stroke-width="0.8" />
<polyline points="592.8,188.0 598.6,196.0" fill="none" stroke="#141414" stroke-width="0.8" />
<polyline points="604.5,207.1 614.7,217.3" fill="none" stroke="#141414" stroke-width="3.4" />
<polyline points="617.6,229.0 623.2,225.0" fill="none" stroke="#141414" stroke-width="1.8" />
<polygon points="625.8,237.9 633.8,247.5 636.6,245.1 628.6,235.5" fill="#fff" stroke="#141414" stroke-width="1.0" stroke-linejoin="round" />
<polyline points="676.7,242.4 660.2,259.4" fill="none" stroke="#141414" stroke-width="1.2" />
<polygon points="671.4,230.6 677.1,239.7 679.7,238.1 674.0,229.0" fill="#fff" stroke="#141414" stroke-width="1.0" stroke-linejoin="round" />
<circle cx="677.8" cy="240.6" r="1.8" fill="#1a1a1a"/>
<polyline points="776.0,213.5 838.5,179.3 869.0,168.0" fill="none" stroke="#141414" stroke-width="1.2" />
<polygon points="678.5,263.8 776.5,214.7 775.5,212.5 677.5,261.6" fill="#fff" stroke="#141414" stroke-width="0.9" stroke-linejoin="round" />
<ellipse cx="732.7" cy="238.0" rx="13.2" ry="9.6" transform="rotate(-63 732.7 238.0)" fill="#1a1a1a" stroke="#141414" stroke-width="1" />
<ellipse cx="730.7" cy="239.0" rx="13.2" ry="9.6" transform="rotate(-63 730.7 239.0)" fill="#1a1a1a" stroke="#141414" stroke-width="1" />
<ellipse cx="731.5" cy="238.7" rx="10.6" ry="7.4" transform="rotate(-63 731.5 238.7)" fill="#fff" stroke="#141414" stroke-width="0.8" />
<polyline points="732.2,238.4 736.3,229.5" fill="none" stroke="#141414" stroke-width="1.4" />
<polyline points="732.2,238.4 739.4,236.8" fill="none" stroke="#141414" stroke-width="1.4" />
<polyline points="732.2,238.4 734.7,245.9" fill="none" stroke="#141414" stroke-width="1.4" />
<polyline points="732.2,238.4 727.0,247.7" fill="none" stroke="#141414" stroke-width="1.4" />
<polyline points="732.2,238.4 724.0,240.3" fill="none" stroke="#141414" stroke-width="1.4" />
<polyline points="732.2,238.4 728.7,231.2" fill="none" stroke="#141414" stroke-width="1.4" />
<ellipse cx="732.7" cy="238.2" rx="4.4" ry="3.2" transform="rotate(-63 732.7 238.2)" fill="#222" stroke="#141414" stroke-width="1" />
<polygon points="733.7,239.1 747.2,232.3 745.8,229.7 732.3,236.5" fill="#fff" stroke="#141414" stroke-width="1.0" stroke-linejoin="round" />
<ellipse cx="735.5" cy="236.6" rx="2.8" ry="1.9" transform="rotate(-63 735.5 236.6)" fill="#fff" stroke="#141414" stroke-width="1" />
<circle cx="768" cy="219" r="2.2" fill="#1a1a1a"/>
<ellipse cx="776.0" cy="214.0" rx="3.8" ry="3.0" transform="rotate(-63 776.0 214.0)" fill="#fff" stroke="#141414" stroke-width="1.2" />
<ellipse cx="776.0" cy="214.0" rx="1.8" ry="1.4" transform="rotate(-63 776.0 214.0)" fill="#fff" stroke="#141414" stroke-width="0.9" />
<ellipse cx="786.0" cy="209.5" rx="2.2" ry="1.7" transform="rotate(-63 786.0 209.5)" fill="#fff" stroke="#141414" stroke-width="1.1" />
<polygon points="785.0,190.0 795.5,184.0 799.0,192.5 792.0,197.5" fill="#fff" stroke="#141414" stroke-width="1.1" stroke-linejoin="round" />
<polyline points="788.5,188.0 793.0,196.5" fill="none" stroke="#141414" stroke-width="0.8" />
<ellipse cx="801.5" cy="200.5" rx="8.2" ry="7.0" transform="rotate(-30 801.5 200.5)" fill="#fff" stroke="#141414" stroke-width="1.1" />
<ellipse cx="802.0" cy="200.5" rx="4.6" ry="3.8" transform="rotate(-30 802.0 200.5)" fill="#555" stroke="#141414" stroke-width="1.0" />
<ellipse cx="817.7" cy="192.0" rx="3.6" ry="2.9" transform="rotate(-63 817.7 192.0)" fill="#fff" stroke="#141414" stroke-width="1.1" />
<ellipse cx="817.7" cy="192.0" rx="1.6" ry="1.3" transform="rotate(-63 817.7 192.0)" fill="#fff" stroke="#141414" stroke-width="0.8" />
<polyline points="826.5,184.5 829.5,187.0" fill="none" stroke="#141414" stroke-width="1.6" />
<polyline points="869.3,159.2 974.3,104.2" fill="none" stroke="#141414" stroke-width="1.2" />
<polyline points="851.8,57.5 824.0,84.0" fill="none" stroke="#141414" stroke-width="1.2" />
<polygon points="850.9,56.6 844.1,63.2 845.9,65.0 852.7,58.4" fill="#fff" stroke="#141414" stroke-width="1.0" stroke-linejoin="round" />
<ellipse cx="851.8" cy="57.5" rx="3.6" ry="2.6" transform="rotate(46 851.8 57.5)" fill="#fff" stroke="#141414" stroke-width="1.1" />
<ellipse cx="853.4" cy="56.0" rx="2.6" ry="1.9" transform="rotate(46 853.4 56.0)" fill="#fff" stroke="#141414" stroke-width="1.1" />
<polyline points="862.7,74.2 836.0,100.0" fill="none" stroke="#141414" stroke-width="1.2" />
<polygon points="861.8,73.3 855.0,79.9 856.8,81.7 863.6,75.1" fill="#fff" stroke="#141414" stroke-width="1.0" stroke-linejoin="round" />
<ellipse cx="862.7" cy="74.2" rx="3.6" ry="2.6" transform="rotate(46 862.7 74.2)" fill="#fff" stroke="#141414" stroke-width="1.1" />
<ellipse cx="864.3" cy="72.7" rx="2.6" ry="1.9" transform="rotate(46 864.3 72.7)" fill="#fff" stroke="#141414" stroke-width="1.1" />
<polyline points="881.0,90.8 856.0,115.0" fill="none" stroke="#141414" stroke-width="1.2" />
<polygon points="880.1,89.9 873.3,96.5 875.1,98.3 881.9,91.7" fill="#fff" stroke="#141414" stroke-width="1.0" stroke-linejoin="round" />
<ellipse cx="881.0" cy="90.8" rx="3.6" ry="2.6" transform="rotate(46 881.0 90.8)" fill="#fff" stroke="#141414" stroke-width="1.1" />
<ellipse cx="882.6" cy="89.3" rx="2.6" ry="1.9" transform="rotate(46 882.6 89.3)" fill="#fff" stroke="#141414" stroke-width="1.1" />
<polyline points="900.2,106.7 868.0,138.0" fill="none" stroke="#141414" stroke-width="1.2" />
<polygon points="899.3,105.8 892.5,112.4 894.3,114.2 901.1,107.6" fill="#fff" stroke="#141414" stroke-width="1.0" stroke-linejoin="round" />
<ellipse cx="900.2" cy="106.7" rx="3.6" ry="2.6" transform="rotate(46 900.2 106.7)" fill="#fff" stroke="#141414" stroke-width="1.1" />
<ellipse cx="901.8" cy="105.2" rx="2.6" ry="1.9" transform="rotate(46 901.8 105.2)" fill="#fff" stroke="#141414" stroke-width="1.1" />
<ellipse cx="830.8" cy="77.0" rx="2.9" ry="2.3" transform="rotate(46 830.8 77.0)" fill="#fff" stroke="#141414" stroke-width="1.1" />
<ellipse cx="883.5" cy="122.5" rx="2.9" ry="2.3" transform="rotate(46 883.5 122.5)" fill="#fff" stroke="#141414" stroke-width="1.1" />
<polygon points="767.3,122.3 774.3,117.8 772.7,115.2 765.7,119.7" fill="#fff" stroke="#141414" stroke-width="1.0" stroke-linejoin="round" />
<polyline points="773.5,116.5 782.0,111.0" fill="none" stroke="#141414" stroke-width="1.2" />
<polygon points="891.5,151.9 910.6,142.7 908.0,137.3 888.9,146.5" fill="#fff" stroke="#141414" stroke-width="1.0" stroke-linejoin="round" />
<ellipse cx="890.2" cy="149.2" rx="3.4" ry="2.6" transform="rotate(-63 890.2 149.2)" fill="#999" stroke="#141414" stroke-width="1.0" />
<ellipse cx="904.0" cy="142.6" rx="3.2" ry="2.2" transform="rotate(-63 904.0 142.6)" fill="#333" stroke="#141414" stroke-width="1" />
<ellipse cx="925.4" cy="132.4" rx="7.0" ry="4.8" transform="rotate(-63 925.4 132.4)" fill="#1a1a1a" stroke="#141414" stroke-width="1" />
<ellipse cx="923.6" cy="133.4" rx="7.0" ry="4.8" transform="rotate(-63 923.6 133.4)" fill="#1a1a1a" stroke="#141414" stroke-width="1" />
<ellipse cx="924.0" cy="133.2" rx="2.2" ry="1.4" transform="rotate(-63 924.0 133.2)" fill="#fff" stroke="#141414" stroke-width="0.8" />
<ellipse cx="941.3" cy="122.2" rx="2.6" ry="1.9" transform="rotate(-63 941.3 122.2)" fill="#fff" stroke="#141414" stroke-width="1.2" />
<ellipse cx="953.5" cy="115.0" rx="4.6" ry="3.6" transform="rotate(-63 953.5 115.0)" fill="#fff" stroke="#141414" stroke-width="1.3" />
<ellipse cx="953.5" cy="115.0" rx="2.2" ry="1.7" transform="rotate(-63 953.5 115.0)" fill="#fff" stroke="#141414" stroke-width="1.0" />
<ellipse cx="965.2" cy="110.0" rx="2.7" ry="2.0" transform="rotate(-63 965.2 110.0)" fill="#fff" stroke="#141414" stroke-width="1.8" />
<path d="M976.5,99 Q980,96 983.5,99.5 Q986.5,104 985,109 L986.5,116 Q990.5,118.5 990,122.5 L987,125.5 L983.5,123 L982.5,117.5 Q979.5,110 978,106 Q975,103 976.5,99 Z" fill="#fff" stroke="#141414" stroke-width="1.2" stroke-linejoin="round" stroke-linecap="round" />
<ellipse cx="979.8" cy="101.5" rx="2.4" ry="1.9" transform="rotate(-63 979.8 101.5)" fill="#fff" stroke="#141414" stroke-width="1.2" />
<ellipse cx="988.0" cy="97.5" rx="3.1" ry="2.6" transform="rotate(-63 988.0 97.5)" fill="#222" stroke="#141414" stroke-width="1" />
<ellipse cx="988.0" cy="97.5" rx="1.2" ry="1.0" transform="rotate(-63 988.0 97.5)" fill="#fff" stroke="#141414" stroke-width="0.5" />
<polygon points="616.0,415.6 635.6,397.7 633.2,395.1 613.6,413.0" fill="#fff" stroke="#141414" stroke-width="1.0" stroke-linejoin="round" />
<ellipse cx="614.8" cy="414.3" rx="1.9" ry="1.4" transform="rotate(46 614.8 414.3)" fill="#fff" stroke="#141414" stroke-width="1" />
<path d="M588,421 L592,419.5 L594,424 L601.5,421.5 L605,424.5 L606.5,433 L604.5,441.5 L601.5,441 L601,436 L598,438.5 L596.5,444.5 L592.5,444 L592,437 L589,431 Z" fill="#fff" stroke="#141414" stroke-width="1.1" stroke-linejoin="round" stroke-linecap="round" />
<ellipse cx="594.0" cy="431.5" rx="2.4" ry="3.2" transform="rotate(20 594.0 431.5)" fill="#fff" stroke="#141414" stroke-width="1" />
<polyline points="598.0,427.5 611.0,418.0" fill="none" stroke="#141414" stroke-width="0.9" />
<polygon points="580.3,442.4 591.3,435.9 589.7,433.1 578.7,439.6" fill="#fff" stroke="#141414" stroke-width="1.0" stroke-linejoin="round" />
<ellipse cx="582.0" cy="445.3" rx="2.4" ry="2.0" transform="rotate(0 582.0 445.3)" fill="#222" stroke="#141414" stroke-width="1" />
<polygon points="485.1,545.8 528.6,504.2 526.4,501.8 482.9,543.4" fill="#fff" stroke="#141414" stroke-width="1.0" stroke-linejoin="round" />
<ellipse cx="484.0" cy="544.6" rx="1.8" ry="1.2" transform="rotate(46 484.0 544.6)" fill="#fff" stroke="#141414" stroke-width="0.9" />
<polygon points="530.4,501.8 542.8,492.9 539.6,488.5 527.2,497.4" fill="#fff" stroke="#141414" stroke-width="1.1" stroke-linejoin="round" />
<ellipse cx="529.6" cy="499.2" rx="2.6" ry="1.9" transform="rotate(46 529.6 499.2)" fill="#fff" stroke="#141414" stroke-width="1.1" />
<path d="M522.6,518.9 C521.8,517.4 520.9,513.5 521.2,511.3 C521.6,509.1 523.2,507.3 524.7,505.8 C526.2,504.3 528.1,503.2 530.2,502.4 C532.3,501.6 534.8,500.7 537.1,501.0 C539.4,501.3 541.9,502.7 544.0,504.4 C546.1,506.1 548.4,509.1 549.5,511.3 C550.6,513.5 551.4,515.8 550.9,517.5 C550.4,519.2 548.0,521.7 546.7,521.7 C545.4,521.7 544.2,519.2 543.3,517.5 C542.4,515.8 542.2,513.0 541.2,511.3 C540.2,509.6 538.7,507.6 537.1,507.2 C535.5,506.8 533.0,507.7 531.6,508.6 C530.2,509.5 529.3,511.1 528.8,512.7 C528.3,514.3 529.2,516.9 528.8,518.2 C528.3,519.5 527.1,520.2 526.1,520.3 C525.1,520.4 523.4,520.4 522.6,518.9 Z" fill="#fff" stroke="#141414" stroke-width="1.4" stroke-linejoin="round" stroke-linecap="round" />
<path d="M537.5,501.5 Q543,506 545.5,513.5" fill="none" stroke="#141414" stroke-width="0.8" stroke-linejoin="round" stroke-linecap="round" />
<polyline points="524.8,510.0 525.0,517.0" fill="none" stroke="#141414" stroke-width="0.9" />
<path d="M449.6,551.3 C450.1,550.8 451.8,550.1 453.0,550.2 C454.2,550.3 455.7,551.1 457.0,552.0 C458.3,552.9 459.5,555.2 461.0,555.5 C462.5,555.8 464.6,554.2 466.0,553.5 C467.4,552.8 468.2,551.9 469.5,551.0 C470.8,550.1 472.5,548.7 474.0,548.2 C475.5,547.7 477.3,547.5 478.5,548.0 C479.7,548.5 480.8,549.8 481.0,551.0 C481.2,552.2 480.8,553.8 480.0,555.0 C479.2,556.2 477.4,557.6 476.0,558.5 C474.6,559.4 473.0,560.0 471.5,560.2 C470.0,560.4 468.4,559.1 467.0,559.5 C465.6,559.9 464.2,561.4 463.0,562.5 C461.8,563.6 461.0,565.6 460.0,566.2 C459.0,566.8 457.4,566.8 457.0,566.0 C456.6,565.2 457.9,563.0 457.8,561.5 C457.7,560.0 457.3,558.2 456.5,557.0 C455.7,555.8 454.1,554.8 453.0,554.2 C451.9,553.6 450.6,554.0 450.0,553.5 C449.4,553.0 449.1,551.8 449.6,551.3 Z" fill="#fff" stroke="#141414" stroke-width="1.3" stroke-linejoin="round" stroke-linecap="round" />
<ellipse cx="472.3" cy="555.4" rx="2.6" ry="2.1" transform="rotate(46 472.3 555.4)" fill="#fff" stroke="#141414" stroke-width="1.3" />
<ellipse cx="477.4" cy="551.4" rx="2.5" ry="2.0" transform="rotate(46 477.4 551.4)" fill="#fff" stroke="#141414" stroke-width="1.0" />
<polyline points="449.4,578.0 457.8,572.4" fill="none" stroke="#141414" stroke-width="5.2" />
<polyline points="450.8,577.2 456.6,573.3" fill="none" stroke="#bbb" stroke-width="0.9" />
<polygon points="540.6,387.0 578.0,402.4 573.0,410.0 566.0,407.0 563.5,409.5 556.0,405.5 553.0,407.5 548.0,404.0 546.5,397.0 543.0,392.0" fill="#fff" stroke="#141414" stroke-width="1.0" stroke-linejoin="round" />
<circle cx="541" cy="387.5" r="1.3" fill="#1a1a1a"/>
<circle cx="555" cy="405.5" r="1.3" fill="#1a1a1a"/>
<circle cx="569.5" cy="409.5" r="1.3" fill="#1a1a1a"/>
<circle cx="543.5" cy="417.5" r="1.9" fill="#222"/>
<polyline points="544.5,416.5 547.1,414.3" fill="none" stroke="#141414" stroke-width="1.8" />
<circle cx="558" cy="421.5" r="1.9" fill="#222"/>
<polyline points="559.0,420.5 561.6,418.3" fill="none" stroke="#141414" stroke-width="1.8" />
<polyline points="544.5,416.5 555.0,405.5" fill="none" stroke="#141414" stroke-width="0.8" />
<polyline points="559.0,420.5 569.5,409.5" fill="none" stroke="#141414" stroke-width="0.8" />
<polygon points="552.7,356.9 556.7,353.9 555.3,352.1 551.3,355.1" fill="#fff" stroke="#141414" stroke-width="1.0" stroke-linejoin="round" />
<polygon points="554.2,376.8 559.2,372.3 557.8,370.7 552.8,375.2" fill="#fff" stroke="#141414" stroke-width="1.0" stroke-linejoin="round" />
<polyline points="558.5,371.5 566.0,364.5" fill="none" stroke="#141414" stroke-width="0.9" />
<polygon points="69.8,793.2 74.9,788.4 73.1,786.5 68.0,791.3" fill="#fff" stroke="#141414" stroke-width="0.9" stroke-linejoin="round" />
<circle cx="67.8" cy="793.3" r="2.7" fill="#1a1a1a"/>
<ellipse cx="69.7" cy="791.5" rx="2.9" ry="1.5" transform="rotate(46.7 69.7 791.5)" fill="#fff" stroke="#141414" stroke-width="0.9" />
<polygon points="61.0,807.9 66.1,803.1 64.3,801.2 59.2,806.0" fill="#fff" stroke="#141414" stroke-width="0.9" stroke-linejoin="round" />
<circle cx="59.0" cy="808.0" r="2.7" fill="#1a1a1a"/>
<ellipse cx="60.9" cy="806.2" rx="2.9" ry="1.5" transform="rotate(46.7 60.9 806.2)" fill="#fff" stroke="#141414" stroke-width="0.9" />
<polygon points="89.3,793.2 94.4,788.4 92.6,786.5 87.5,791.3" fill="#fff" stroke="#141414" stroke-width="0.9" stroke-linejoin="round" />
<circle cx="87.3" cy="793.3" r="2.7" fill="#1a1a1a"/>
<ellipse cx="89.2" cy="791.5" rx="2.9" ry="1.5" transform="rotate(46.7 89.2 791.5)" fill="#fff" stroke="#141414" stroke-width="0.9" />
<polygon points="107.8,792.6 112.9,787.8 111.1,785.9 106.0,790.7" fill="#fff" stroke="#141414" stroke-width="0.9" stroke-linejoin="round" />
<circle cx="105.8" cy="792.7" r="2.7" fill="#1a1a1a"/>
<ellipse cx="107.7" cy="790.9" rx="2.9" ry="1.5" transform="rotate(46.7 107.7 790.9)" fill="#fff" stroke="#141414" stroke-width="0.9" />
<polygon points="110.4,772.2 115.5,767.4 113.7,765.5 108.6,770.3" fill="#fff" stroke="#141414" stroke-width="0.9" stroke-linejoin="round" />
<circle cx="108.4" cy="772.3" r="2.7" fill="#1a1a1a"/>
<ellipse cx="110.3" cy="770.5" rx="2.9" ry="1.5" transform="rotate(46.7 110.3 770.5)" fill="#fff" stroke="#141414" stroke-width="0.9" />
<polygon points="123.4,758.1 128.5,753.3 126.7,751.4 121.6,756.2" fill="#fff" stroke="#141414" stroke-width="0.9" stroke-linejoin="round" />
<circle cx="121.4" cy="758.2" r="2.7" fill="#1a1a1a"/>
<ellipse cx="123.3" cy="756.4" rx="2.9" ry="1.5" transform="rotate(46.7 123.3 756.4)" fill="#fff" stroke="#141414" stroke-width="0.9" />
<polygon points="131.5,774.7 136.6,769.9 134.8,768.0 129.7,772.8" fill="#fff" stroke="#141414" stroke-width="0.9" stroke-linejoin="round" />
<circle cx="129.5" cy="774.8" r="2.7" fill="#1a1a1a"/>
<ellipse cx="131.4" cy="773.0" rx="2.9" ry="1.5" transform="rotate(46.7 131.4 773.0)" fill="#fff" stroke="#141414" stroke-width="0.9" />
<polygon points="163.6,772.9 168.7,768.1 166.9,766.2 161.8,771.0" fill="#fff" stroke="#141414" stroke-width="0.9" stroke-linejoin="round" />
<circle cx="161.6" cy="773.0" r="2.7" fill="#1a1a1a"/>
<ellipse cx="163.5" cy="771.2" rx="2.9" ry="1.5" transform="rotate(46.7 163.5 771.2)" fill="#fff" stroke="#141414" stroke-width="0.9" />
<polygon points="70.8,828.6 75.9,823.8 74.1,821.9 69.0,826.7" fill="#fff" stroke="#141414" stroke-width="0.9" stroke-linejoin="round" />
<circle cx="68.8" cy="828.7" r="2.7" fill="#1a1a1a"/>
<ellipse cx="70.7" cy="826.9" rx="2.9" ry="1.5" transform="rotate(46.7 70.7 826.9)" fill="#fff" stroke="#141414" stroke-width="0.9" />
<polygon points="89.6,841.4 94.7,836.6 92.9,834.7 87.8,839.5" fill="#fff" stroke="#141414" stroke-width="0.9" stroke-linejoin="round" />
<circle cx="87.6" cy="841.5" r="2.7" fill="#1a1a1a"/>
<ellipse cx="89.5" cy="839.7" rx="2.9" ry="1.5" transform="rotate(46.7 89.5 839.7)" fill="#fff" stroke="#141414" stroke-width="0.9" />
<polygon points="108.5,855.1 113.6,850.3 111.8,848.4 106.7,853.2" fill="#fff" stroke="#141414" stroke-width="0.9" stroke-linejoin="round" />
<circle cx="106.5" cy="855.2" r="2.7" fill="#1a1a1a"/>
<ellipse cx="108.4" cy="853.4" rx="2.9" ry="1.5" transform="rotate(46.7 108.4 853.4)" fill="#fff" stroke="#141414" stroke-width="0.9" />
<polygon points="128.9,861.3 134.0,856.5 132.2,854.6 127.1,859.4" fill="#fff" stroke="#141414" stroke-width="0.9" stroke-linejoin="round" />
<circle cx="126.9" cy="861.4" r="2.7" fill="#1a1a1a"/>
<ellipse cx="128.8" cy="859.6" rx="2.9" ry="1.5" transform="rotate(46.7 128.8 859.6)" fill="#fff" stroke="#141414" stroke-width="0.9" />
<polygon points="149.1,866.9 154.2,862.1 152.4,860.2 147.3,865.0" fill="#fff" stroke="#141414" stroke-width="0.9" stroke-linejoin="round" />
<circle cx="147.1" cy="867.0" r="2.7" fill="#1a1a1a"/>
<ellipse cx="149.0" cy="865.2" rx="2.9" ry="1.5" transform="rotate(46.7 149.0 865.2)" fill="#fff" stroke="#141414" stroke-width="0.9" />
<polygon points="165.4,839.7 170.5,834.9 168.7,833.0 163.6,837.8" fill="#fff" stroke="#141414" stroke-width="0.9" stroke-linejoin="round" />
<circle cx="163.4" cy="839.8" r="2.7" fill="#1a1a1a"/>
<ellipse cx="165.3" cy="838.0" rx="2.9" ry="1.5" transform="rotate(46.7 165.3 838.0)" fill="#fff" stroke="#141414" stroke-width="0.9" />
<polygon points="192.4,838.1 197.5,833.3 195.7,831.4 190.6,836.2" fill="#fff" stroke="#141414" stroke-width="0.9" stroke-linejoin="round" />
<circle cx="190.4" cy="838.2" r="2.7" fill="#1a1a1a"/>
<ellipse cx="192.3" cy="836.4" rx="2.9" ry="1.5" transform="rotate(46.7 192.3 836.4)" fill="#fff" stroke="#141414" stroke-width="0.9" />
<polygon points="180.2,875.4 185.3,870.6 183.5,868.7 178.4,873.5" fill="#fff" stroke="#141414" stroke-width="0.9" stroke-linejoin="round" />
<circle cx="178.2" cy="875.5" r="2.7" fill="#1a1a1a"/>
<ellipse cx="180.1" cy="873.7" rx="2.9" ry="1.5" transform="rotate(46.7 180.1 873.7)" fill="#fff" stroke="#141414" stroke-width="0.9" />
<polygon points="199.4,868.5 204.5,863.7 202.7,861.8 197.6,866.6" fill="#fff" stroke="#141414" stroke-width="0.9" stroke-linejoin="round" />
<circle cx="197.4" cy="868.6" r="2.7" fill="#1a1a1a"/>
<ellipse cx="199.3" cy="866.8" rx="2.9" ry="1.5" transform="rotate(46.7 199.3 866.8)" fill="#fff" stroke="#141414" stroke-width="0.9" />
<circle cx="170" cy="794.4" r="2.2" fill="#888"/>
<polygon points="172.2,794.0 176.7,790.2 175.3,788.6 170.8,792.4" fill="#fff" stroke="#141414" stroke-width="0.8" stroke-linejoin="round" />
<circle cx="186" cy="797.9" r="2.2" fill="#888"/>
<polygon points="188.2,797.5 192.7,793.7 191.3,792.1 186.8,795.9" fill="#fff" stroke="#141414" stroke-width="0.8" stroke-linejoin="round" />
<ellipse cx="143.3" cy="758.4" rx="8.8" ry="7.0" transform="rotate(46 143.3 758.4)" fill="#fff" stroke="#141414" stroke-width="1.1" />
<ellipse cx="144.4" cy="757.4" rx="8.8" ry="7.0" transform="rotate(46 144.4 757.4)" fill="#fff" stroke="#141414" stroke-width="1.3" />
<ellipse cx="144.4" cy="757.4" rx="5.5" ry="4.3" transform="rotate(46 144.4 757.4)" fill="#fff" stroke="#141414" stroke-width="1.8" />
<ellipse cx="145.2" cy="758.2" rx="3.7" ry="2.9" transform="rotate(46 145.2 758.2)" fill="#fff" stroke="#141414" stroke-width="0.9" />
<ellipse cx="209.8" cy="773.1" rx="8.0" ry="6.4" transform="rotate(46 209.8 773.1)" fill="#fff" stroke="#141414" stroke-width="1.1" />
<ellipse cx="211.0" cy="772.0" rx="8.0" ry="6.4" transform="rotate(46 211.0 772.0)" fill="#fff" stroke="#141414" stroke-width="1.2" />
<ellipse cx="211.0" cy="772.0" rx="5.8" ry="4.6" transform="rotate(46 211.0 772.0)" fill="#fff" stroke="#141414" stroke-width="2.6" />
<ellipse cx="211.0" cy="772.0" rx="3.6" ry="2.9" transform="rotate(46 211.0 772.0)" fill="#fff" stroke="#141414" stroke-width="1.0" />
<polyline points="213.3,769.8 208.7,774.2" fill="none" stroke="#141414" stroke-width="0.8" />
<ellipse cx="227.6" cy="779.3" rx="2.4" ry="1.9" transform="rotate(46 227.6 779.3)" fill="#fff" stroke="#141414" stroke-width="1.1" />
<ellipse cx="266.0" cy="785.6" rx="3.6" ry="2.9" transform="rotate(46 266.0 785.6)" fill="#fff" stroke="#141414" stroke-width="1.4" />
<ellipse cx="266.0" cy="785.6" rx="1.6" ry="1.3" transform="rotate(46 266.0 785.6)" fill="#fff" stroke="#141414" stroke-width="0.8" />
<polygon points="205.2,806.3 211.2,798.3 207.8,795.7 201.8,803.7" fill="#333" stroke="#141414" stroke-width="1" stroke-linejoin="round" />
<ellipse cx="204.0" cy="806.0" rx="2.4" ry="1.8" transform="rotate(40 204.0 806.0)" fill="#fff" stroke="#141414" stroke-width="1" />
<ellipse cx="161.5" cy="809.5" rx="3.6" ry="2.9" transform="rotate(46 161.5 809.5)" fill="#fff" stroke="#141414" stroke-width="1.2" />
<ellipse cx="161.5" cy="809.5" rx="1.8" ry="1.4" transform="rotate(46 161.5 809.5)" fill="#999" stroke="#141414" stroke-width="0.7" />
<g opacity="0.999">
<text transform="translate(336.5,241.8) scale(0.84,1)" text-anchor="middle" font-size="12" fill="#141414">83</text>
<polyline points="328.5,238.2 320.2,238.2 309.0,216.2" fill="none" stroke="#141414" stroke-width="1.2" />
<polygon points="309.0,216.2 314.8,222.1 310.3,224.3" fill="#141414" stroke="none"/>
<text transform="translate(35.0,525.3) scale(0.84,1)" text-anchor="middle" font-size="12" fill="#141414">81</text>
<polyline points="44.5,522.0 52.5,522.0 75.0,565.0" fill="none" stroke="#141414" stroke-width="1.2" />
<polygon points="75.0,565.0 69.2,559.2 73.6,556.9" fill="#141414" stroke="none"/>
<text transform="translate(62.0,498.3) scale(0.84,1)" text-anchor="middle" font-size="12" fill="#141414">15</text>
<polyline points="68.8,494.5 79.5,494.5 101.0,537.5" fill="none" stroke="#141414" stroke-width="1.2" />
<polygon points="101.0,537.5 95.3,531.6 99.7,529.4" fill="#141414" stroke="none"/>
<text transform="translate(90.5,472.3) scale(0.84,1)" text-anchor="middle" font-size="12" fill="#141414">69</text>
<polyline points="98.8,468.2 108.0,468.2 130.0,512.5" fill="none" stroke="#141414" stroke-width="1.2" />
<polygon points="130.0,512.5 124.3,506.6 128.8,504.4" fill="#141414" stroke="none"/>
<text transform="translate(112.5,455.3) scale(0.84,1)" text-anchor="middle" font-size="12" fill="#141414">46</text>
<polyline points="119.0,450.5 122.0,450.5 155.6,485.8" fill="none" stroke="#141414" stroke-width="1.2" />
<polygon points="155.6,485.8 148.4,481.9 152.0,478.4" fill="#141414" stroke="none"/>
<text transform="translate(157.0,402.3) scale(0.84,1)" text-anchor="middle" font-size="12" fill="#141414">68</text>
<polyline points="163.8,398.0 172.5,398.0 182.5,421.0" fill="none" stroke="#141414" stroke-width="1.2" />
<polygon points="182.5,421.0 177.1,414.8 181.7,412.9" fill="#141414" stroke="none"/>
<text transform="translate(179.5,393.3) scale(0.84,1)" text-anchor="middle" font-size="12" fill="#141414">25</text>
<polyline points="188.0,388.8 197.5,388.8 229.0,420.0" fill="none" stroke="#141414" stroke-width="1.2" />
<polygon points="229.0,420.0 221.7,416.3 225.2,412.7" fill="#141414" stroke="none"/>
<text transform="translate(224.0,505.3) scale(0.84,1)" text-anchor="middle" font-size="12" fill="#141414">26</text>
<polyline points="230.0,501.2 237.0,501.2 251.0,530.0" fill="none" stroke="#141414" stroke-width="1.2" />
<polygon points="251.0,530.0 245.3,524.1 249.8,521.9" fill="#141414" stroke="none"/>
<text transform="translate(269.0,450.3) scale(0.84,1)" text-anchor="middle" font-size="12" fill="#141414">50</text>
<polyline points="275.2,445.5 284.0,445.5 298.0,474.0" fill="none" stroke="#141414" stroke-width="1.2" />
<polygon points="298.0,474.0 292.3,468.1 296.8,465.9" fill="#141414" stroke="none"/>
<text transform="translate(358.5,367.3) scale(0.84,1)" text-anchor="middle" font-size="12" fill="#141414">72</text>
<polyline points="364.0,362.5 372.0,362.5 381.0,386.0" fill="none" stroke="#141414" stroke-width="1.2" />
<polygon points="381.0,386.0 375.9,379.6 380.5,377.8" fill="#141414" stroke="none"/>
<text transform="translate(354.5,384.8) scale(0.84,1)" text-anchor="middle" font-size="12" fill="#141414">3</text>
<polyline points="357.8,380.5 365.2,380.5 373.5,403.0" fill="none" stroke="#141414" stroke-width="1.2" />
<polygon points="373.5,403.0 368.5,396.5 373.2,394.8" fill="#141414" stroke="none"/>
<text transform="translate(396.0,346.3) scale(0.84,1)" text-anchor="middle" font-size="12" fill="#141414">26</text>
<polyline points="401.5,341.2 409.8,341.2 420.0,366.0" fill="none" stroke="#141414" stroke-width="1.2" />
<polygon points="420.0,366.0 414.7,359.8 419.3,357.8" fill="#141414" stroke="none"/>
<text transform="translate(423.5,326.8) scale(0.84,1)" text-anchor="middle" font-size="12" fill="#141414">19</text>
<polyline points="427.8,322.0 436.5,322.0 446.0,345.0" fill="none" stroke="#141414" stroke-width="1.2" />
<polygon points="446.0,345.0 440.7,338.7 445.3,336.8" fill="#141414" stroke="none"/>
<text transform="translate(436.5,311.3) scale(0.84,1)" text-anchor="middle" font-size="12" fill="#141414">10</text>
<polyline points="442.0,307.0 450.2,307.0 459.8,331.2" fill="none" stroke="#141414" stroke-width="1.2" />
<polygon points="459.8,331.2 454.6,324.9 459.2,323.1" fill="#141414" stroke="none"/>
<text transform="translate(467.0,386.3) scale(0.84,1)" text-anchor="middle" font-size="12" fill="#141414">31</text>
<polyline points="472.8,382.0 479.0,382.0 490.2,407.5" fill="none" stroke="#141414" stroke-width="1.2" />
<polygon points="490.2,407.5 484.8,401.4 489.4,399.4" fill="#141414" stroke="none"/>
<text transform="translate(450.0,403.8) scale(0.84,1)" text-anchor="middle" font-size="12" fill="#141414">74</text>
<polyline points="456.5,399.5 464.0,399.5 474.0,424.0" fill="none" stroke="#141414" stroke-width="1.2" />
<polygon points="474.0,424.0 468.7,417.7 473.4,415.8" fill="#141414" stroke="none"/>
<text transform="translate(401.5,456.8) scale(0.84,1)" text-anchor="middle" font-size="12" fill="#141414">49</text>
<polyline points="407.8,452.5 415.2,452.5 426.5,476.0" fill="none" stroke="#141414" stroke-width="1.2" />
<polygon points="426.5,476.0 420.9,470.0 425.4,467.9" fill="#141414" stroke="none"/>
<text transform="translate(421.5,548.3) scale(0.84,1)" text-anchor="middle" font-size="12" fill="#141414">30</text>
<polyline points="414.0,543.8 406.5,543.8 395.2,522.5" fill="none" stroke="#141414" stroke-width="1.2" />
<polygon points="395.2,522.5 401.1,528.2 396.7,530.6" fill="#141414" stroke="none"/>
<text transform="translate(413.5,565.3) scale(0.84,1)" text-anchor="middle" font-size="12" fill="#141414">47</text>
<polyline points="407.8,560.5 399.0,560.5 387.8,538.8" fill="none" stroke="#141414" stroke-width="1.2" />
<polygon points="387.8,538.8 393.6,544.5 389.1,546.8" fill="#141414" stroke="none"/>
<text transform="translate(388.0,581.8) scale(0.84,1)" text-anchor="middle" font-size="12" fill="#141414">24</text>
<polyline points="381.5,578.0 372.8,578.0 364.0,556.2" fill="none" stroke="#141414" stroke-width="1.2" />
<polygon points="364.0,556.2 369.2,562.6 364.6,564.4" fill="#141414" stroke="none"/>
<text transform="translate(374.0,596.3) scale(0.84,1)" text-anchor="middle" font-size="12" fill="#141414">17</text>
<polyline points="368.5,592.0 360.2,592.0 349.0,570.0" fill="none" stroke="#141414" stroke-width="1.2" />
<polygon points="349.0,570.0 354.8,575.8 350.3,578.1" fill="#141414" stroke="none"/>
<text transform="translate(295.0,552.3) scale(0.84,1)" text-anchor="middle" font-size="12" fill="#141414">65</text>
<polyline points="300.2,548.0 309.0,548.0 320.2,572.5" fill="none" stroke="#141414" stroke-width="1.2" />
<polygon points="320.2,572.5 314.7,566.5 319.3,564.4" fill="#141414" stroke="none"/>
<text transform="translate(283.0,571.3) scale(0.84,1)" text-anchor="middle" font-size="12" fill="#141414">20</text>
<polyline points="287.8,566.2 296.5,566.2 307.0,590.0" fill="none" stroke="#141414" stroke-width="1.2" />
<polygon points="307.0,590.0 301.6,583.9 306.1,581.9" fill="#141414" stroke="none"/>
<text transform="translate(265.0,581.8) scale(0.84,1)" text-anchor="middle" font-size="12" fill="#141414">27</text>
<polyline points="268.5,577.5 276.0,577.5 287.8,602.5" fill="none" stroke="#141414" stroke-width="1.2" />
<polygon points="287.8,602.5 282.2,596.5 286.7,594.4" fill="#141414" stroke="none"/>
<text transform="translate(504.5,585.3) scale(0.84,1)" text-anchor="middle" font-size="12" fill="#141414">62</text>
<polyline points="497.8,581.2 489.0,581.2 476.5,560.0" fill="none" stroke="#141414" stroke-width="1.2" />
<polygon points="476.5,560.0 482.6,565.5 478.3,568.0" fill="#141414" stroke="none"/>
<text transform="translate(481.5,605.3) scale(0.84,1)" text-anchor="middle" font-size="12" fill="#141414">34</text>
<polyline points="475.2,601.2 466.5,601.2 456.0,578.8" fill="none" stroke="#141414" stroke-width="1.2" />
<polygon points="456.0,578.8 461.6,584.8 457.0,586.9" fill="#141414" stroke="none"/>
<text transform="translate(530.3,558.6) scale(0.84,1)" text-anchor="middle" font-size="12" fill="#141414">57</text>
<polyline points="522.0,554.3 513.7,554.3 502.0,531.7" fill="none" stroke="#141414" stroke-width="1.2" />
<polygon points="502.0,531.7 507.8,537.5 503.4,539.8" fill="#141414" stroke="none"/>
<text transform="translate(575.5,548.3) scale(0.84,1)" text-anchor="middle" font-size="12" fill="#141414">64</text>
<polyline points="568.0,543.8 560.5,543.8 549.2,520.0" fill="none" stroke="#141414" stroke-width="1.2" />
<polygon points="549.2,520.0 554.8,526.0 550.3,528.1" fill="#141414" stroke="none"/>
<text transform="translate(609.0,476.8) scale(0.84,1)" text-anchor="middle" font-size="12" fill="#141414">36</text>
<polyline points="603.0,473.0 595.0,473.0 584.2,448.8" fill="none" stroke="#141414" stroke-width="1.2" />
<polygon points="584.2,448.8 589.7,454.9 585.1,456.9" fill="#141414" stroke="none"/>
<text transform="translate(629.0,468.8) scale(0.84,1)" text-anchor="middle" font-size="12" fill="#141414">41</text>
<polyline points="624.2,464.5 615.5,464.5 603.0,443.0" fill="none" stroke="#141414" stroke-width="1.2" />
<polygon points="603.0,443.0 609.1,448.5 604.8,451.0" fill="#141414" stroke="none"/>
<text transform="translate(652.5,435.3) scale(0.84,1)" text-anchor="middle" font-size="12" fill="#141414">59</text>
<polyline points="645.5,431.2 637.5,431.2 626.8,408.8" fill="none" stroke="#141414" stroke-width="1.2" />
<polygon points="626.8,408.8 632.4,414.7 627.9,416.9" fill="#141414" stroke="none"/>
<text transform="translate(762.0,476.8) scale(0.84,1)" text-anchor="middle" font-size="12" fill="#141414">29</text>
<polyline points="755.5,472.5 748.0,472.5 735.5,451.2" fill="none" stroke="#141414" stroke-width="1.2" />
<polygon points="735.5,451.2 741.6,456.7 737.3,459.2" fill="#141414" stroke="none"/>
<text transform="translate(743.5,485.3) scale(0.84,1)" text-anchor="middle" font-size="12" fill="#141414">13</text>
<polyline points="737.5,482.0 730.0,482.0 719.2,462.5" fill="none" stroke="#141414" stroke-width="1.2" />
<polygon points="719.2,462.5 725.2,468.1 720.8,470.5" fill="#141414" stroke="none"/>
<text transform="translate(738.0,495.3) scale(0.84,1)" text-anchor="middle" font-size="12" fill="#141414">22</text>
<polyline points="731.8,491.2 724.2,491.2 712.5,472.5" fill="none" stroke="#141414" stroke-width="1.2" />
<polygon points="712.5,472.5 718.8,477.8 714.5,480.4" fill="#141414" stroke="none"/>
<text transform="translate(728.0,506.8) scale(0.84,1)" text-anchor="middle" font-size="12" fill="#141414">32</text>
<polyline points="721.8,502.5 713.5,502.5 703.0,480.0" fill="none" stroke="#141414" stroke-width="1.2" />
<polygon points="703.0,480.0 708.6,486.0 704.0,488.1" fill="#141414" stroke="none"/>
<text transform="translate(720.5,523.8) scale(0.84,1)" text-anchor="middle" font-size="12" fill="#141414">54</text>
<polyline points="714.2,519.5 706.8,519.5 698.0,501.2" fill="none" stroke="#141414" stroke-width="1.2" />
<polygon points="698.0,501.2 703.6,507.2 699.1,509.4" fill="#141414" stroke="none"/>
<text transform="translate(702.0,535.3) scale(0.84,1)" text-anchor="middle" font-size="12" fill="#141414">21</text>
<polyline points="695.5,531.2 688.0,531.2 674.2,507.5" fill="none" stroke="#141414" stroke-width="1.2" />
<polygon points="674.2,507.5 680.3,513.0 676.0,515.5" fill="#141414" stroke="none"/>
<text transform="translate(692.0,548.8) scale(0.84,1)" text-anchor="middle" font-size="12" fill="#141414">61</text>
<polyline points="685.5,544.5 677.5,544.5 665.0,523.8" fill="none" stroke="#141414" stroke-width="1.2" />
<polygon points="665.0,523.8 671.2,529.1 666.9,531.7" fill="#141414" stroke="none"/>
<text transform="translate(678.0,562.3) scale(0.84,1)" text-anchor="middle" font-size="12" fill="#141414">35</text>
<polyline points="670.5,558.8 663.0,558.8 650.5,537.5" fill="none" stroke="#141414" stroke-width="1.2" />
<polygon points="650.5,537.5 656.6,543.0 652.3,545.5" fill="#141414" stroke="none"/>
<text transform="translate(664.0,578.3) scale(0.84,1)" text-anchor="middle" font-size="12" fill="#141414">60</text>
<polyline points="658.0,573.8 650.0,573.8 636.0,551.2" fill="none" stroke="#141414" stroke-width="1.2" />
<polygon points="636.0,551.2 642.2,556.6 638.0,559.2" fill="#141414" stroke="none"/>
<text transform="translate(648.0,588.8) scale(0.84,1)" text-anchor="middle" font-size="12" fill="#141414">14</text>
<polyline points="642.5,584.5 634.2,584.5 621.0,563.8" fill="none" stroke="#141414" stroke-width="1.2" />
<polygon points="621.0,563.8 627.3,569.0 623.1,571.7" fill="#141414" stroke="none"/>
<text transform="translate(639.0,598.3) scale(0.84,1)" text-anchor="middle" font-size="12" fill="#141414">23</text>
<polyline points="632.5,593.8 624.2,593.8 610.5,572.5" fill="none" stroke="#141414" stroke-width="1.2" />
<polygon points="610.5,572.5 616.8,577.7 612.6,580.4" fill="#141414" stroke="none"/>
<text transform="translate(627.0,606.8) scale(0.84,1)" text-anchor="middle" font-size="12" fill="#141414">33</text>
<polyline points="619.2,602.5 611.8,602.5 600.5,582.0" fill="none" stroke="#141414" stroke-width="1.2" />
<polygon points="600.5,582.0 606.4,587.6 602.1,590.0" fill="#141414" stroke="none"/>
<text transform="translate(618.8,634.3) scale(0.84,1)" text-anchor="middle" font-size="12" fill="#141414">53</text>
<polyline points="611.2,630.0 603.8,630.0 592.0,608.8" fill="none" stroke="#141414" stroke-width="1.2" />
<polygon points="592.0,608.8 598.0,614.4 593.6,616.8" fill="#141414" stroke="none"/>
<text transform="translate(582.0,664.3) scale(0.84,1)" text-anchor="middle" font-size="12" fill="#141414">45</text>
<polyline points="575.0,660.0 566.2,660.0 556.2,638.8" fill="none" stroke="#141414" stroke-width="1.2" />
<polygon points="556.2,638.8 561.8,644.7 557.3,646.9" fill="#141414" stroke="none"/>
<text transform="translate(557.5,683.3) scale(0.84,1)" text-anchor="middle" font-size="12" fill="#141414">55</text>
<polyline points="550.0,678.2 542.0,678.2 531.2,658.8" fill="none" stroke="#141414" stroke-width="1.2" />
<polygon points="531.2,658.8 537.2,664.4 532.8,666.8" fill="#141414" stroke="none"/>
<text transform="translate(539.5,694.3) scale(0.84,1)" text-anchor="middle" font-size="12" fill="#141414">21</text>
<polyline points="532.0,690.0 523.8,690.0 513.8,668.0" fill="none" stroke="#141414" stroke-width="1.2" />
<polygon points="513.8,668.0 519.3,674.1 514.7,676.1" fill="#141414" stroke="none"/>
<text transform="translate(452.0,647.3) scale(0.84,1)" text-anchor="middle" font-size="12" fill="#141414">75</text>
<polyline points="458.8,643.0 466.2,643.0 477.5,665.0" fill="none" stroke="#141414" stroke-width="1.2" />
<polygon points="477.5,665.0 471.7,659.2 476.2,656.9" fill="#141414" stroke="none"/>
<text transform="translate(422.0,663.6) scale(0.84,1)" text-anchor="middle" font-size="12" fill="#141414">28</text>
<polyline points="429.3,659.3 435.3,659.3 455.3,698.3" fill="none" stroke="#141414" stroke-width="1.2" />
<polygon points="455.3,698.3 449.5,692.5 454.0,690.2" fill="#141414" stroke="none"/>
<text transform="translate(630.0,760.3) scale(0.84,1)" text-anchor="middle" font-size="12" fill="#141414">26</text>
<polyline points="623.8,756.2 615.0,756.2 601.2,735.0" fill="none" stroke="#141414" stroke-width="1.2" />
<polygon points="601.2,735.0 607.6,740.2 603.4,742.9" fill="#141414" stroke="none"/>
<text transform="translate(673.8,726.8) scale(0.84,1)" text-anchor="middle" font-size="12" fill="#141414">51</text>
<polyline points="666.2,722.5 657.5,722.5 646.2,700.0" fill="none" stroke="#141414" stroke-width="1.2" />
<polygon points="646.2,700.0 652.0,705.9 647.5,708.1" fill="#141414" stroke="none"/>
<text transform="translate(740.0,671.8) scale(0.84,1)" text-anchor="middle" font-size="12" fill="#141414">44</text>
<polyline points="732.5,667.5 725.0,667.5 712.5,643.8" fill="none" stroke="#141414" stroke-width="1.2" />
<polygon points="712.5,643.8 718.3,649.5 713.9,651.8" fill="#141414" stroke="none"/>
<text transform="translate(758.8,631.8) scale(0.84,1)" text-anchor="middle" font-size="12" fill="#141414">12</text>
<polyline points="751.2,627.5 742.5,627.5 730.5,604.5" fill="none" stroke="#141414" stroke-width="1.2" />
<polygon points="730.5,604.5 736.3,610.3 731.9,612.6" fill="#141414" stroke="none"/>
<text transform="translate(785.0,609.3) scale(0.84,1)" text-anchor="middle" font-size="12" fill="#141414">25</text>
<polyline points="776.2,605.5 767.5,605.5 756.2,583.8" fill="none" stroke="#141414" stroke-width="1.2" />
<polygon points="756.2,583.8 762.1,589.5 757.6,591.8" fill="#141414" stroke="none"/>
<text transform="translate(893.8,645.0) scale(0.84,1)" text-anchor="middle" font-size="12" fill="#141414">67</text>
<polyline points="882.5,642.5 875.0,642.5 863.8,619.5" fill="none" stroke="#141414" stroke-width="1.2" />
<polygon points="863.8,619.5 869.4,625.4 864.9,627.6" fill="#141414" stroke="none"/>
<text transform="translate(727.0,369.3) scale(0.84,1)" text-anchor="middle" font-size="12" fill="#141414">40</text>
<polyline points="721.2,365.5 713.8,365.5 700.0,378.8" fill="none" stroke="#141414" stroke-width="1.2" />
<polygon points="700.0,378.8 703.9,371.5 707.4,375.1" fill="#141414" stroke="none"/>
<text transform="translate(728.8,319.3) scale(0.84,1)" text-anchor="middle" font-size="12" fill="#141414">82</text>
<polyline points="721.8,317.0 714.2,317.0 703.0,330.0" fill="none" stroke="#141414" stroke-width="1.2" />
<polygon points="703.0,330.0 706.2,322.5 710.0,325.7" fill="#141414" stroke="none"/>
<text transform="translate(638.0,147.0) scale(0.84,1)" text-anchor="middle" font-size="12" fill="#141414">58</text>
<polyline points="630.3,143.3 618.7,143.3 597.0,184.3" fill="none" stroke="#141414" stroke-width="1.2" />
<polygon points="597.0,184.3 598.4,176.2 602.9,178.6" fill="#141414" stroke="none"/>
<text transform="translate(649.7,168.6) scale(0.84,1)" text-anchor="middle" font-size="12" fill="#141414">37</text>
<polyline points="641.3,165.0 632.0,165.0 609.0,206.5" fill="none" stroke="#141414" stroke-width="1.2" />
<polygon points="609.0,206.5 610.6,198.5 615.0,200.9" fill="#141414" stroke="none"/>
<text transform="translate(664.3,184.3) scale(0.84,1)" text-anchor="middle" font-size="12" fill="#141414">79</text>
<polyline points="656.0,180.7 646.0,180.7 623.8,224.2" fill="none" stroke="#141414" stroke-width="1.2" />
<polygon points="623.8,224.2 625.1,216.1 629.6,218.4" fill="#141414" stroke="none"/>
<text transform="translate(674.7,198.6) scale(0.84,1)" text-anchor="middle" font-size="12" fill="#141414">43</text>
<polyline points="667.0,195.0 654.7,195.0 632.9,237.2" fill="none" stroke="#141414" stroke-width="1.2" />
<polygon points="632.9,237.2 634.3,229.1 638.7,231.4" fill="#141414" stroke="none"/>
<text transform="translate(706.0,229.3) scale(0.84,1)" text-anchor="middle" font-size="12" fill="#141414">52</text>
<polyline points="699.2,225.5 691.8,225.5 680.0,237.8" fill="none" stroke="#141414" stroke-width="1.2" />
<polygon points="680.0,237.8 683.6,230.4 687.2,233.9" fill="#141414" stroke="none"/>
<text transform="translate(742.0,195.8) scale(0.84,1)" text-anchor="middle" font-size="12" fill="#141414">80</text>
<polyline points="747.8,191.2 756.3,191.2 766.2,214.3" fill="none" stroke="#141414" stroke-width="1.2" />
<polygon points="766.2,214.3 760.8,208.1 765.4,206.1" fill="#141414" stroke="none"/>
<text transform="translate(720.0,208.8) scale(0.84,1)" text-anchor="middle" font-size="12" fill="#141414">66</text>
<polyline points="725.6,204.4 734.1,204.4 742.7,227.9" fill="none" stroke="#141414" stroke-width="1.2" />
<polygon points="742.7,227.9 737.7,221.4 742.4,219.7" fill="#141414" stroke="none"/>
<text transform="translate(803.0,246.7) scale(0.84,1)" text-anchor="middle" font-size="12" fill="#141414">7</text>
<polyline points="800.7,242.4 792.2,242.4 779.4,218.0" fill="none" stroke="#141414" stroke-width="1.2" />
<polygon points="779.4,218.0 785.2,223.7 780.8,226.1" fill="#141414" stroke="none"/>
<text transform="translate(812.6,238.3) scale(0.84,1)" text-anchor="middle" font-size="12" fill="#141414">16</text>
<polyline points="806.7,234.6 799.8,234.6 787.9,212.0" fill="none" stroke="#141414" stroke-width="1.2" />
<polygon points="787.9,212.0 793.7,217.7 789.3,220.1" fill="#141414" stroke="none"/>
<text transform="translate(832.0,236.8) scale(0.84,1)" text-anchor="middle" font-size="12" fill="#141414">76</text>
<polyline points="826.3,233.4 819.5,233.4 809.2,209.5" fill="none" stroke="#141414" stroke-width="1.2" />
<polygon points="809.2,209.5 814.6,215.7 810.0,217.7" fill="#141414" stroke="none"/>
<text transform="translate(845.4,223.3) scale(0.84,1)" text-anchor="middle" font-size="12" fill="#141414">18</text>
<polyline points="840.0,219.7 831.4,219.7 821.2,196.7" fill="none" stroke="#141414" stroke-width="1.2" />
<polygon points="821.2,196.7 826.6,202.8 822.1,204.8" fill="#141414" stroke="none"/>
<text transform="translate(856.0,215.0) scale(0.84,1)" text-anchor="middle" font-size="12" fill="#141414">11</text>
<polyline points="850.0,213.0 841.6,213.0 830.5,190.0" fill="none" stroke="#141414" stroke-width="1.2" />
<polygon points="830.5,190.0 836.1,195.9 831.6,198.1" fill="#141414" stroke="none"/>
<text transform="translate(770.0,57.5) scale(0.84,1)" text-anchor="middle" font-size="12" fill="#141414">39</text>
<polyline points="775.4,53.2 783.0,53.2 793.2,74.7" fill="none" stroke="#141414" stroke-width="1.2" />
<polygon points="793.2,74.7 787.6,68.7 792.1,66.6" fill="#141414" stroke="none"/>
<text transform="translate(748.4,98.7) scale(0.84,1)" text-anchor="middle" font-size="12" fill="#141414">52</text>
<polyline points="754.0,94.4 762.4,94.4 770.7,115.0" fill="none" stroke="#141414" stroke-width="1.2" />
<polygon points="770.7,115.0 765.5,108.7 770.1,106.8" fill="#141414" stroke="none"/>
<text transform="translate(819.5,55.0) scale(0.84,1)" text-anchor="middle" font-size="12" fill="#141414">63</text>
<polyline points="822.9,57.0 829.7,74.7" fill="none" stroke="#141414" stroke-width="1.2" />
<text transform="translate(875.8,46.3) scale(0.84,1)" text-anchor="middle" font-size="12" fill="#141414">5</text>
<polyline points="872.0,42.5 864.5,42.5 855.8,52.5" fill="none" stroke="#141414" stroke-width="1.2" />
<polygon points="855.8,52.5 859.0,45.0 862.8,48.3" fill="#141414" stroke="none"/>
<text transform="translate(913.0,61.3) scale(0.84,1)" text-anchor="middle" font-size="12" fill="#141414">82</text>
<polyline points="905.8,57.5 899.5,57.5 889.5,68.8" fill="none" stroke="#141414" stroke-width="1.2" />
<polygon points="889.5,68.8 892.8,61.3 896.6,64.6" fill="#141414" stroke="none"/>
<text transform="translate(964.0,95.3) scale(0.84,1)" text-anchor="middle" font-size="12" fill="#141414">78</text>
<polyline points="957.0,92.5 946.5,92.5 942.0,118.8" fill="none" stroke="#141414" stroke-width="1.2" />
<polygon points="942.0,118.8 940.9,110.6 945.8,111.5" fill="#141414" stroke="none"/>
<text transform="translate(1015.0,86.8) scale(0.84,1)" text-anchor="middle" font-size="12" fill="#141414">6</text>
<polyline points="1010.8,82.5 1004.0,82.5 992.0,94.2" fill="none" stroke="#141414" stroke-width="1.2" />
<polygon points="992.0,94.2 995.8,87.0 999.3,90.6" fill="#141414" stroke="none"/>
<text transform="translate(980.8,146.8) scale(0.84,1)" text-anchor="middle" font-size="12" fill="#141414">8</text>
<polyline points="975.8,143.0 967.0,143.0 955.8,120.0" fill="none" stroke="#141414" stroke-width="1.2" />
<polygon points="955.8,120.0 961.4,125.9 956.9,128.1" fill="#141414" stroke="none"/>
<text transform="translate(1016.5,153.1) scale(0.84,1)" text-anchor="middle" font-size="12" fill="#141414">70</text>
<polyline points="1009.5,149.2 1000.8,149.2 989.5,126.2" fill="none" stroke="#141414" stroke-width="1.2" />
<polygon points="989.5,126.2 995.2,132.2 990.7,134.4" fill="#141414" stroke="none"/>
<text transform="translate(954.5,166.8) scale(0.84,1)" text-anchor="middle" font-size="12" fill="#141414">42</text>
<polyline points="947.0,163.0 938.2,163.0 927.0,140.0" fill="none" stroke="#141414" stroke-width="1.2" />
<polygon points="927.0,140.0 932.7,145.9 928.2,148.1" fill="#141414" stroke="none"/>
<text transform="translate(930.0,176.1) scale(0.84,1)" text-anchor="middle" font-size="12" fill="#141414">56</text>
<polyline points="922.0,171.8 914.5,171.8 900.8,151.2" fill="none" stroke="#141414" stroke-width="1.2" />
<polygon points="900.8,151.2 907.2,156.3 903.0,159.1" fill="#141414" stroke="none"/>
<text transform="translate(143.6,671.0) scale(0.84,1)" text-anchor="middle" font-size="12" fill="#141414">38</text>
<polyline points="150.6,668.0 169.4,673.4" fill="none" stroke="#141414" stroke-width="1.2" />
<text transform="translate(85.0,742.1) scale(0.84,1)" text-anchor="middle" font-size="12" fill="#141414">4</text>
<polyline points="87.9,737.8 94.7,737.8 109.7,765.9" fill="none" stroke="#141414" stroke-width="1.2" />
<polygon points="109.7,765.9 103.8,760.2 108.2,757.8" fill="#141414" stroke="none"/>
<text transform="translate(294.8,815.3) scale(0.84,1)" text-anchor="middle" font-size="12" fill="#141414">48</text>
<polyline points="288.0,811.0 281.0,811.0 269.6,790.4" fill="none" stroke="#141414" stroke-width="1.2" />
<polygon points="269.6,790.4 275.6,796.0 271.2,798.4" fill="#141414" stroke="none"/>
<text transform="translate(270.4,829.8) scale(0.84,1)" text-anchor="middle" font-size="12" fill="#141414">77</text>
<polyline points="264.3,826.3 255.0,826.3 229.0,785.0" fill="none" stroke="#141414" stroke-width="1.2" />
<polygon points="229.0,785.0 235.3,790.3 231.0,792.9" fill="#141414" stroke="none"/>
<text transform="translate(247.0,859.7) scale(0.84,1)" text-anchor="middle" font-size="12" fill="#141414">73</text>
<polyline points="239.0,856.0 231.0,856.0 207.2,811.7" fill="none" stroke="#141414" stroke-width="1.2" />
<polygon points="207.2,811.7 213.1,817.4 208.7,819.8" fill="#141414" stroke="none"/>
<text transform="translate(211.0,894.3) scale(0.84,1)" text-anchor="middle" font-size="12" fill="#141414">2</text>
<polyline points="205.9,890.0 199.2,888.6 166.9,814.3" fill="none" stroke="#141414" stroke-width="1.2" />
<text transform="translate(516.0,343.8) scale(0.84,1)" text-anchor="middle" font-size="12" fill="#141414">9</text>
<text transform="translate(495.0,358.3) scale(0.84,1)" text-anchor="middle" font-size="12" fill="#141414">71</text>
<polyline points="501.5,353.3 507.0,351.2 540.6,387.0" fill="none" stroke="#141414" stroke-width="1.2" />
<text transform="translate(482.0,373.8) scale(0.84,1)" text-anchor="middle" font-size="12" fill="#141414">3</text>
<polyline points="485.5,369.2 496.0,366.5 542.3,414.3" fill="none" stroke="#141414" stroke-width="1.2" />
<text transform="translate(804.0,557.3) scale(0.84,1)" text-anchor="middle" font-size="12" fill="#141414">26</text>
<polyline points="812.0,552.5 869.5,547.5" fill="none" stroke="#141414" stroke-width="1.2" />
<polygon points="869.5,547.5 861.9,550.7 861.5,545.7" fill="#141414" stroke="none"/>
<polyline points="812.0,552.5 814.0,606.0" fill="none" stroke="#141414" stroke-width="1.2" />
<polygon points="814.0,606.0 811.2,598.3 816.2,598.1" fill="#141414" stroke="none"/>
<text transform="translate(82.7,717.0) scale(0.84,1)" text-anchor="middle" font-size="12" fill="#141414">82</text>
<polyline points="88.9,713.9 138.7,749.7" fill="none" stroke="#141414" stroke-width="1.2" />
<polygon points="138.7,749.7 130.9,747.2 133.8,743.1" fill="#141414" stroke="none"/>
<polyline points="88.9,713.9 203.0,768.0" fill="none" stroke="#141414" stroke-width="1.2" />
<polygon points="203.0,768.0 194.9,766.9 197.0,762.4" fill="#141414" stroke="none"/>
<path d="M520.5,337.5 Q526,335 530,338 L553,354.6" fill="none" stroke="#141414" stroke-width="1.0" stroke-linejoin="round" stroke-linecap="round" />
<text x="141.7" y="29.3" text-anchor="middle" font-size="21" fill="#141414">1</text>
<text x="755" y="850" font-size="20.4" fill="#141414">© 2014 Polaris Sales Inc.</text>
</g>
<g opacity="0.45"><text transform="translate(168.8,835.1) rotate(-42.6) scale(1.074,1)" font-family="DejaVu Sans, Liberation Sans, sans-serif" font-size="65" font-weight="bold" fill="#b0b0b0" stroke="#5c5c5c" stroke-width="2.2">www.polarisersatzteile.de</text></g>
</svg>
</body></html>
